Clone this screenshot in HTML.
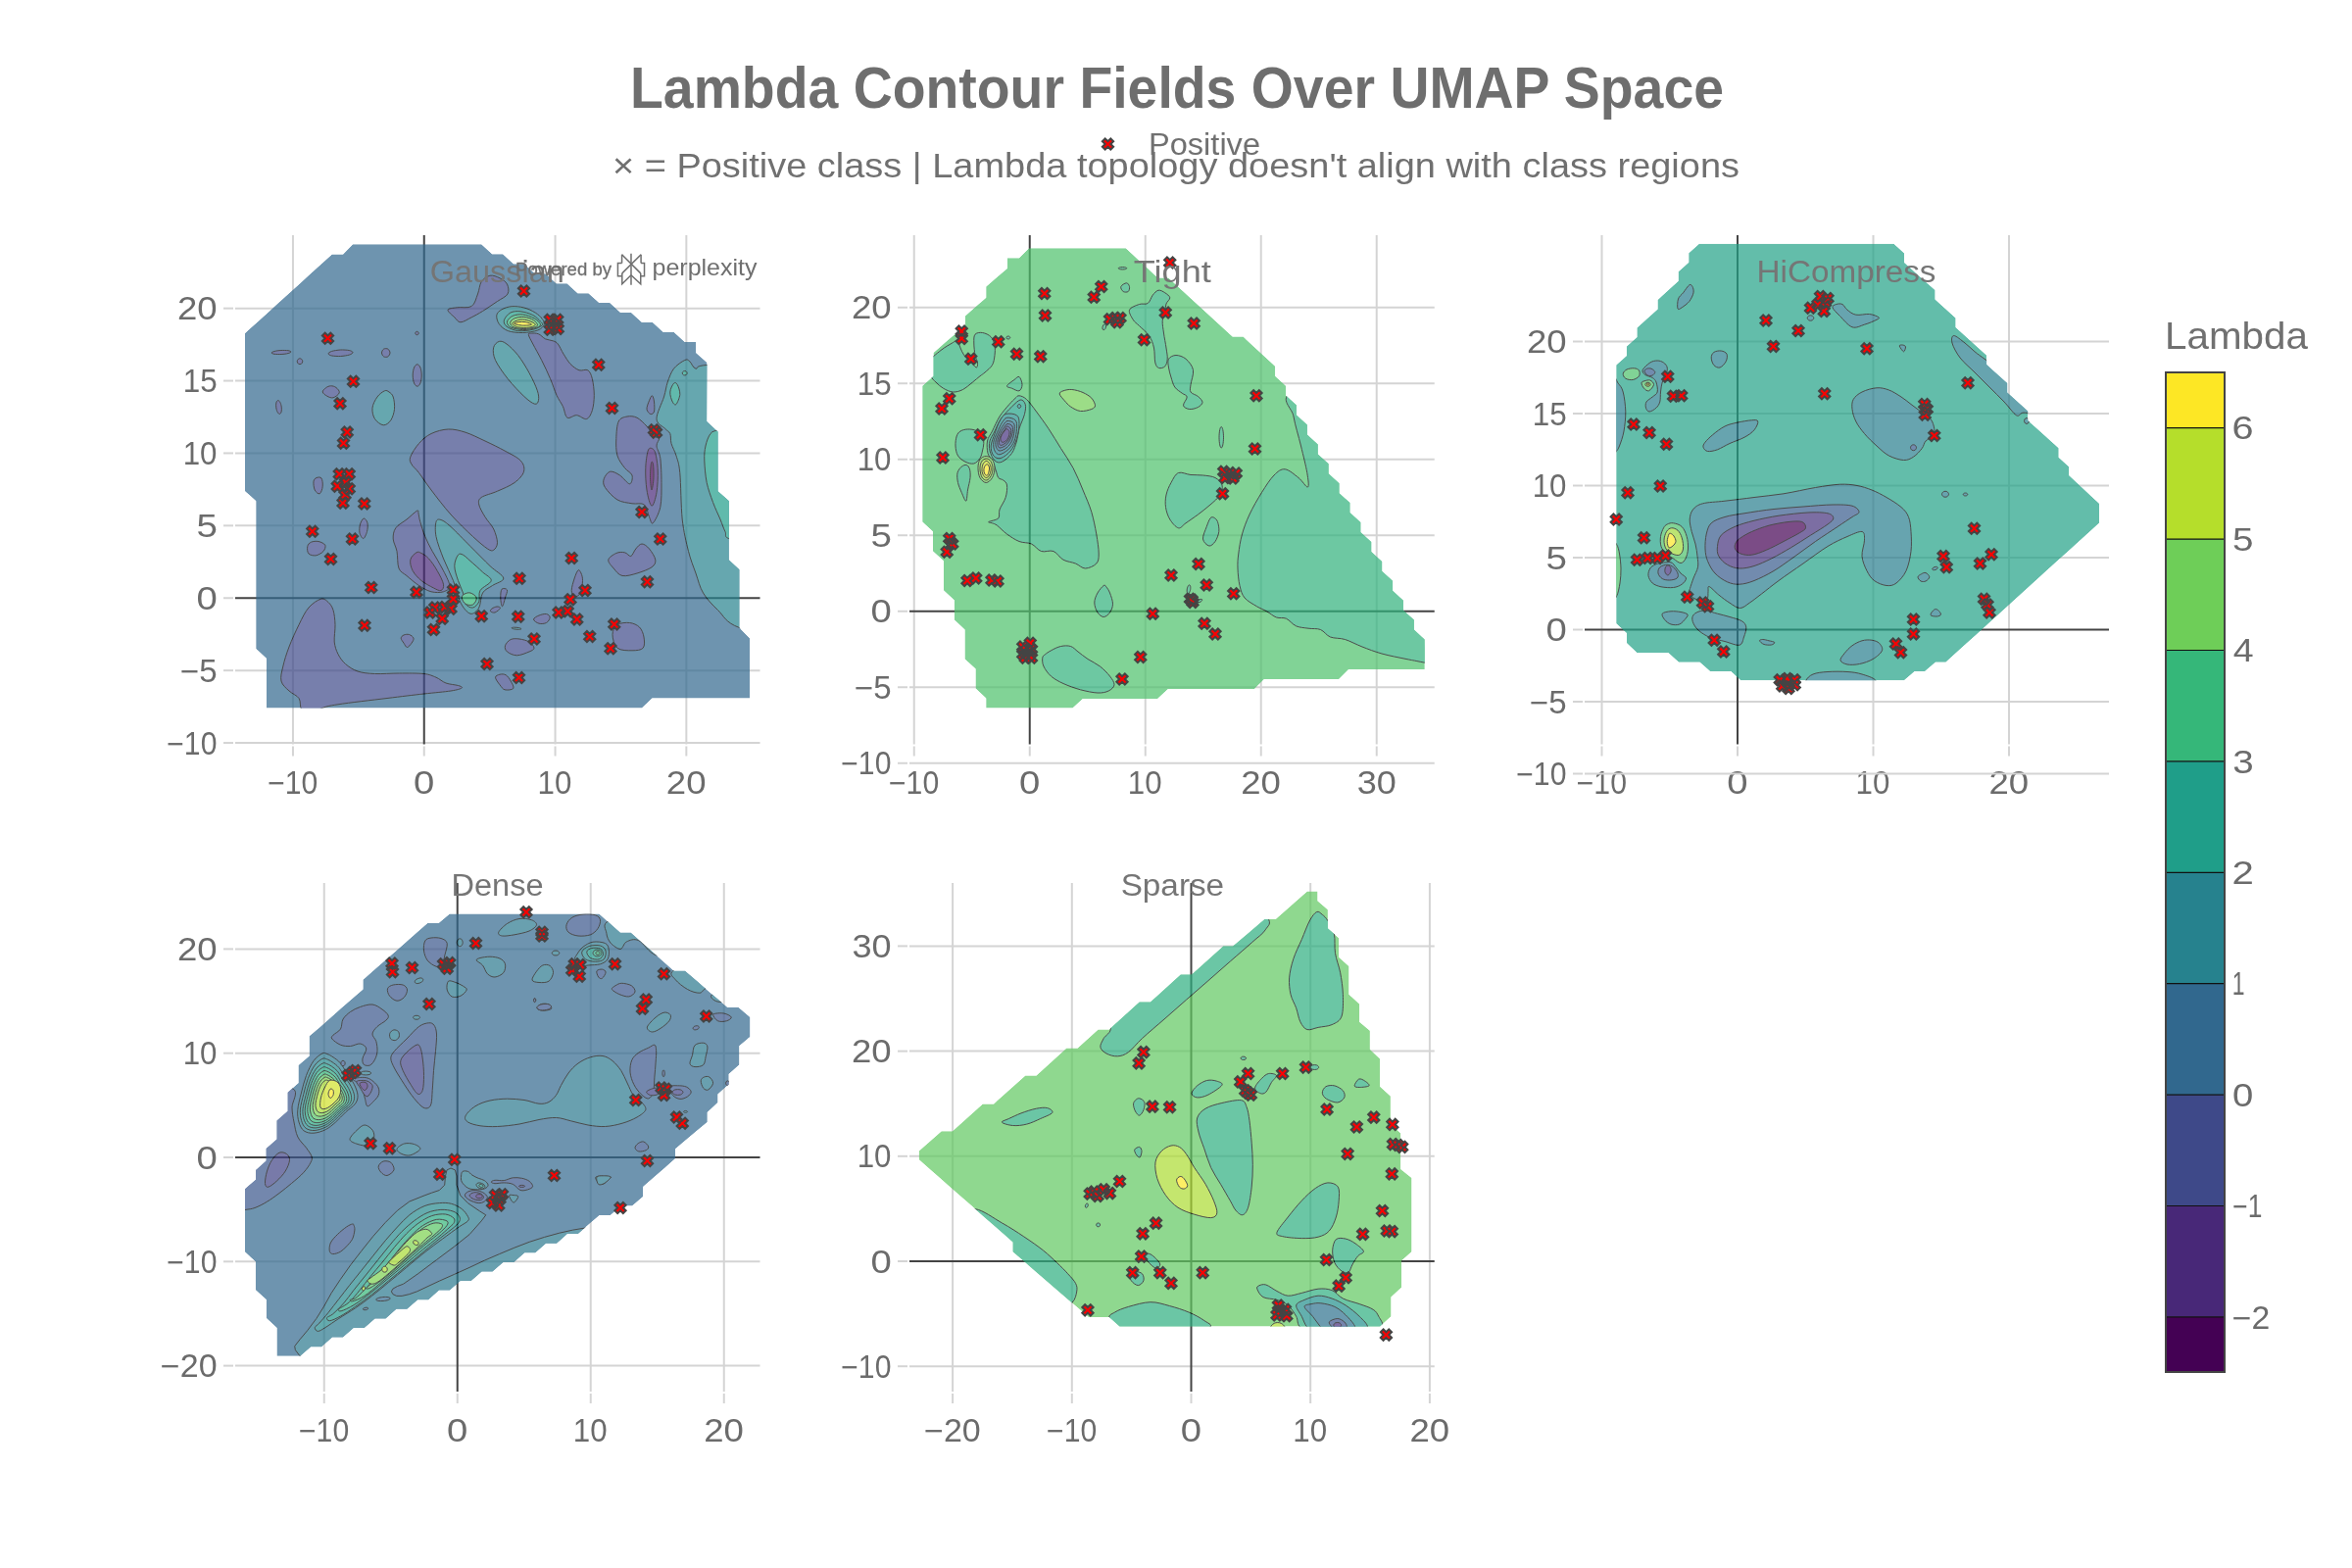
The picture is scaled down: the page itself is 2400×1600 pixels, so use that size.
<!DOCTYPE html>
<html><head><meta charset="utf-8"><title>Lambda Contour Fields Over UMAP Space</title>
<style>html,body{margin:0;padding:0;background:#fff;}svg{display:block;}text{font-family:"Liberation Sans", sans-serif;}</style></head><body>
<svg width="2400" height="1600" viewBox="0 0 2400 1600" style="will-change:transform">
<rect x="0" y="0" width="2400" height="1600" fill="#ffffff"/>
<g id="grid1">
<line x1="298.95" y1="240.00" x2="298.95" y2="759.50" stroke="#d4d4d4" stroke-width="2"/>
<line x1="298.95" y1="761.50" x2="298.95" y2="771.50" stroke="#d4d4d4" stroke-width="2"/>
<text transform="translate(273.19,810.00) scale(0.9739,1.045)" font-size="31" fill="#6b6b6b">−10</text>
<line x1="432.75" y1="761.50" x2="432.75" y2="771.50" stroke="#d4d4d4" stroke-width="2"/>
<text transform="translate(422.07,810.00) scale(1.2349,1.045)" font-size="31" fill="#6b6b6b">0</text>
<line x1="566.55" y1="240.00" x2="566.55" y2="759.50" stroke="#d4d4d4" stroke-width="2"/>
<line x1="566.55" y1="761.50" x2="566.55" y2="771.50" stroke="#d4d4d4" stroke-width="2"/>
<text transform="translate(548.58,810.00) scale(1.0097,1.045)" font-size="31" fill="#6b6b6b">10</text>
<line x1="700.35" y1="240.00" x2="700.35" y2="759.50" stroke="#d4d4d4" stroke-width="2"/>
<line x1="700.35" y1="761.50" x2="700.35" y2="771.50" stroke="#d4d4d4" stroke-width="2"/>
<text transform="translate(679.83,810.00) scale(1.1792,1.045)" font-size="31" fill="#6b6b6b">20</text>
<line x1="240.00" y1="314.65" x2="775.50" y2="314.65" stroke="#d4d4d4" stroke-width="2"/>
<line x1="228.00" y1="314.65" x2="238.00" y2="314.65" stroke="#d4d4d4" stroke-width="2"/>
<text transform="translate(181.03,326.25) scale(1.1792,1.045)" font-size="31" fill="#6b6b6b">20</text>
<line x1="240.00" y1="388.55" x2="775.50" y2="388.55" stroke="#d4d4d4" stroke-width="2"/>
<line x1="228.00" y1="388.55" x2="238.00" y2="388.55" stroke="#d4d4d4" stroke-width="2"/>
<text transform="translate(186.67,400.15) scale(1.0129,1.045)" font-size="31" fill="#6b6b6b">15</text>
<line x1="240.00" y1="462.45" x2="775.50" y2="462.45" stroke="#d4d4d4" stroke-width="2"/>
<line x1="228.00" y1="462.45" x2="238.00" y2="462.45" stroke="#d4d4d4" stroke-width="2"/>
<text transform="translate(186.68,474.05) scale(1.0097,1.045)" font-size="31" fill="#6b6b6b">10</text>
<line x1="240.00" y1="536.35" x2="775.50" y2="536.35" stroke="#d4d4d4" stroke-width="2"/>
<line x1="228.00" y1="536.35" x2="238.00" y2="536.35" stroke="#d4d4d4" stroke-width="2"/>
<text transform="translate(200.41,547.95) scale(1.2432,1.045)" font-size="31" fill="#6b6b6b">5</text>
<line x1="228.00" y1="610.25" x2="238.00" y2="610.25" stroke="#d4d4d4" stroke-width="2"/>
<text transform="translate(200.42,621.85) scale(1.2349,1.045)" font-size="31" fill="#6b6b6b">0</text>
<line x1="240.00" y1="684.15" x2="775.50" y2="684.15" stroke="#d4d4d4" stroke-width="2"/>
<line x1="228.00" y1="684.15" x2="238.00" y2="684.15" stroke="#d4d4d4" stroke-width="2"/>
<text transform="translate(183.90,695.75) scale(1.0675,1.045)" font-size="31" fill="#6b6b6b">−5</text>
<line x1="240.00" y1="758.05" x2="775.50" y2="758.05" stroke="#d4d4d4" stroke-width="2"/>
<line x1="228.00" y1="758.05" x2="238.00" y2="758.05" stroke="#d4d4d4" stroke-width="2"/>
<text transform="translate(170.24,769.65) scale(0.9739,1.045)" font-size="31" fill="#6b6b6b">−10</text>
<line x1="432.75" y1="240.00" x2="432.75" y2="759.50" stroke="#444444" stroke-width="2"/>
<line x1="240.00" y1="610.25" x2="775.50" y2="610.25" stroke="#444444" stroke-width="2"/>
</g>
<g id="grid2">
<line x1="932.75" y1="240.00" x2="932.75" y2="759.50" stroke="#d4d4d4" stroke-width="2"/>
<line x1="932.75" y1="761.50" x2="932.75" y2="771.50" stroke="#d4d4d4" stroke-width="2"/>
<text transform="translate(906.99,810.00) scale(0.9739,1.045)" font-size="31" fill="#6b6b6b">−10</text>
<line x1="1050.75" y1="761.50" x2="1050.75" y2="771.50" stroke="#d4d4d4" stroke-width="2"/>
<text transform="translate(1040.07,810.00) scale(1.2349,1.045)" font-size="31" fill="#6b6b6b">0</text>
<line x1="1168.75" y1="240.00" x2="1168.75" y2="759.50" stroke="#d4d4d4" stroke-width="2"/>
<line x1="1168.75" y1="761.50" x2="1168.75" y2="771.50" stroke="#d4d4d4" stroke-width="2"/>
<text transform="translate(1150.78,810.00) scale(1.0097,1.045)" font-size="31" fill="#6b6b6b">10</text>
<line x1="1286.75" y1="240.00" x2="1286.75" y2="759.50" stroke="#d4d4d4" stroke-width="2"/>
<line x1="1286.75" y1="761.50" x2="1286.75" y2="771.50" stroke="#d4d4d4" stroke-width="2"/>
<text transform="translate(1266.23,810.00) scale(1.1792,1.045)" font-size="31" fill="#6b6b6b">20</text>
<line x1="1404.75" y1="240.00" x2="1404.75" y2="759.50" stroke="#d4d4d4" stroke-width="2"/>
<line x1="1404.75" y1="761.50" x2="1404.75" y2="771.50" stroke="#d4d4d4" stroke-width="2"/>
<text transform="translate(1384.72,810.00) scale(1.1646,1.045)" font-size="31" fill="#6b6b6b">30</text>
<line x1="928.00" y1="313.75" x2="1463.75" y2="313.75" stroke="#d4d4d4" stroke-width="2"/>
<line x1="916.00" y1="313.75" x2="926.00" y2="313.75" stroke="#d4d4d4" stroke-width="2"/>
<text transform="translate(869.03,325.35) scale(1.1792,1.045)" font-size="31" fill="#6b6b6b">20</text>
<line x1="928.00" y1="391.25" x2="1463.75" y2="391.25" stroke="#d4d4d4" stroke-width="2"/>
<line x1="916.00" y1="391.25" x2="926.00" y2="391.25" stroke="#d4d4d4" stroke-width="2"/>
<text transform="translate(874.67,402.85) scale(1.0129,1.045)" font-size="31" fill="#6b6b6b">15</text>
<line x1="928.00" y1="468.75" x2="1463.75" y2="468.75" stroke="#d4d4d4" stroke-width="2"/>
<line x1="916.00" y1="468.75" x2="926.00" y2="468.75" stroke="#d4d4d4" stroke-width="2"/>
<text transform="translate(874.68,480.35) scale(1.0097,1.045)" font-size="31" fill="#6b6b6b">10</text>
<line x1="928.00" y1="546.25" x2="1463.75" y2="546.25" stroke="#d4d4d4" stroke-width="2"/>
<line x1="916.00" y1="546.25" x2="926.00" y2="546.25" stroke="#d4d4d4" stroke-width="2"/>
<text transform="translate(888.41,557.85) scale(1.2432,1.045)" font-size="31" fill="#6b6b6b">5</text>
<line x1="916.00" y1="623.75" x2="926.00" y2="623.75" stroke="#d4d4d4" stroke-width="2"/>
<text transform="translate(888.42,635.35) scale(1.2349,1.045)" font-size="31" fill="#6b6b6b">0</text>
<line x1="928.00" y1="701.25" x2="1463.75" y2="701.25" stroke="#d4d4d4" stroke-width="2"/>
<line x1="916.00" y1="701.25" x2="926.00" y2="701.25" stroke="#d4d4d4" stroke-width="2"/>
<text transform="translate(871.90,712.85) scale(1.0675,1.045)" font-size="31" fill="#6b6b6b">−5</text>
<line x1="928.00" y1="778.75" x2="1463.75" y2="778.75" stroke="#d4d4d4" stroke-width="2"/>
<line x1="916.00" y1="778.75" x2="926.00" y2="778.75" stroke="#d4d4d4" stroke-width="2"/>
<text transform="translate(858.24,790.35) scale(0.9739,1.045)" font-size="31" fill="#6b6b6b">−10</text>
<line x1="1050.75" y1="240.00" x2="1050.75" y2="759.50" stroke="#444444" stroke-width="2"/>
<line x1="928.00" y1="623.75" x2="1463.75" y2="623.75" stroke="#444444" stroke-width="2"/>
</g>
<g id="grid3">
<line x1="1634.50" y1="240.00" x2="1634.50" y2="759.50" stroke="#d4d4d4" stroke-width="2"/>
<line x1="1634.50" y1="761.50" x2="1634.50" y2="771.50" stroke="#d4d4d4" stroke-width="2"/>
<text transform="translate(1608.74,810.00) scale(0.9739,1.045)" font-size="31" fill="#6b6b6b">−10</text>
<line x1="1773.00" y1="761.50" x2="1773.00" y2="771.50" stroke="#d4d4d4" stroke-width="2"/>
<text transform="translate(1762.32,810.00) scale(1.2349,1.045)" font-size="31" fill="#6b6b6b">0</text>
<line x1="1911.50" y1="240.00" x2="1911.50" y2="759.50" stroke="#d4d4d4" stroke-width="2"/>
<line x1="1911.50" y1="761.50" x2="1911.50" y2="771.50" stroke="#d4d4d4" stroke-width="2"/>
<text transform="translate(1893.53,810.00) scale(1.0097,1.045)" font-size="31" fill="#6b6b6b">10</text>
<line x1="2050.00" y1="240.00" x2="2050.00" y2="759.50" stroke="#d4d4d4" stroke-width="2"/>
<line x1="2050.00" y1="761.50" x2="2050.00" y2="771.50" stroke="#d4d4d4" stroke-width="2"/>
<text transform="translate(2029.48,810.00) scale(1.1792,1.045)" font-size="31" fill="#6b6b6b">20</text>
<line x1="1617.00" y1="348.50" x2="2152.00" y2="348.50" stroke="#d4d4d4" stroke-width="2"/>
<line x1="1605.00" y1="348.50" x2="1615.00" y2="348.50" stroke="#d4d4d4" stroke-width="2"/>
<text transform="translate(1558.03,360.10) scale(1.1792,1.045)" font-size="31" fill="#6b6b6b">20</text>
<line x1="1617.00" y1="422.00" x2="2152.00" y2="422.00" stroke="#d4d4d4" stroke-width="2"/>
<line x1="1605.00" y1="422.00" x2="1615.00" y2="422.00" stroke="#d4d4d4" stroke-width="2"/>
<text transform="translate(1563.67,433.60) scale(1.0129,1.045)" font-size="31" fill="#6b6b6b">15</text>
<line x1="1617.00" y1="495.50" x2="2152.00" y2="495.50" stroke="#d4d4d4" stroke-width="2"/>
<line x1="1605.00" y1="495.50" x2="1615.00" y2="495.50" stroke="#d4d4d4" stroke-width="2"/>
<text transform="translate(1563.68,507.10) scale(1.0097,1.045)" font-size="31" fill="#6b6b6b">10</text>
<line x1="1617.00" y1="569.00" x2="2152.00" y2="569.00" stroke="#d4d4d4" stroke-width="2"/>
<line x1="1605.00" y1="569.00" x2="1615.00" y2="569.00" stroke="#d4d4d4" stroke-width="2"/>
<text transform="translate(1577.41,580.60) scale(1.2432,1.045)" font-size="31" fill="#6b6b6b">5</text>
<line x1="1605.00" y1="642.50" x2="1615.00" y2="642.50" stroke="#d4d4d4" stroke-width="2"/>
<text transform="translate(1577.42,654.10) scale(1.2349,1.045)" font-size="31" fill="#6b6b6b">0</text>
<line x1="1617.00" y1="716.00" x2="2152.00" y2="716.00" stroke="#d4d4d4" stroke-width="2"/>
<line x1="1605.00" y1="716.00" x2="1615.00" y2="716.00" stroke="#d4d4d4" stroke-width="2"/>
<text transform="translate(1560.90,727.60) scale(1.0675,1.045)" font-size="31" fill="#6b6b6b">−5</text>
<line x1="1617.00" y1="789.50" x2="2152.00" y2="789.50" stroke="#d4d4d4" stroke-width="2"/>
<line x1="1605.00" y1="789.50" x2="1615.00" y2="789.50" stroke="#d4d4d4" stroke-width="2"/>
<text transform="translate(1547.24,801.10) scale(0.9739,1.045)" font-size="31" fill="#6b6b6b">−10</text>
<line x1="1773.00" y1="240.00" x2="1773.00" y2="759.50" stroke="#444444" stroke-width="2"/>
<line x1="1617.00" y1="642.50" x2="2152.00" y2="642.50" stroke="#444444" stroke-width="2"/>
</g>
<g id="grid4">
<line x1="330.75" y1="901.00" x2="330.75" y2="1420.00" stroke="#d4d4d4" stroke-width="2"/>
<line x1="330.75" y1="1422.00" x2="330.75" y2="1432.00" stroke="#d4d4d4" stroke-width="2"/>
<text transform="translate(304.99,1470.50) scale(0.9739,1.045)" font-size="31" fill="#6b6b6b">−10</text>
<line x1="466.75" y1="1422.00" x2="466.75" y2="1432.00" stroke="#d4d4d4" stroke-width="2"/>
<text transform="translate(456.07,1470.50) scale(1.2349,1.045)" font-size="31" fill="#6b6b6b">0</text>
<line x1="602.75" y1="901.00" x2="602.75" y2="1420.00" stroke="#d4d4d4" stroke-width="2"/>
<line x1="602.75" y1="1422.00" x2="602.75" y2="1432.00" stroke="#d4d4d4" stroke-width="2"/>
<text transform="translate(584.78,1470.50) scale(1.0097,1.045)" font-size="31" fill="#6b6b6b">10</text>
<line x1="738.75" y1="901.00" x2="738.75" y2="1420.00" stroke="#d4d4d4" stroke-width="2"/>
<line x1="738.75" y1="1422.00" x2="738.75" y2="1432.00" stroke="#d4d4d4" stroke-width="2"/>
<text transform="translate(718.23,1470.50) scale(1.1792,1.045)" font-size="31" fill="#6b6b6b">20</text>
<line x1="240.00" y1="968.40" x2="775.50" y2="968.40" stroke="#d4d4d4" stroke-width="2"/>
<line x1="228.00" y1="968.40" x2="238.00" y2="968.40" stroke="#d4d4d4" stroke-width="2"/>
<text transform="translate(181.03,980.00) scale(1.1792,1.045)" font-size="31" fill="#6b6b6b">20</text>
<line x1="240.00" y1="1074.70" x2="775.50" y2="1074.70" stroke="#d4d4d4" stroke-width="2"/>
<line x1="228.00" y1="1074.70" x2="238.00" y2="1074.70" stroke="#d4d4d4" stroke-width="2"/>
<text transform="translate(186.68,1086.30) scale(1.0097,1.045)" font-size="31" fill="#6b6b6b">10</text>
<line x1="228.00" y1="1181.00" x2="238.00" y2="1181.00" stroke="#d4d4d4" stroke-width="2"/>
<text transform="translate(200.42,1192.60) scale(1.2349,1.045)" font-size="31" fill="#6b6b6b">0</text>
<line x1="240.00" y1="1287.30" x2="775.50" y2="1287.30" stroke="#d4d4d4" stroke-width="2"/>
<line x1="228.00" y1="1287.30" x2="238.00" y2="1287.30" stroke="#d4d4d4" stroke-width="2"/>
<text transform="translate(170.24,1298.90) scale(0.9739,1.045)" font-size="31" fill="#6b6b6b">−10</text>
<line x1="240.00" y1="1393.60" x2="775.50" y2="1393.60" stroke="#d4d4d4" stroke-width="2"/>
<line x1="228.00" y1="1393.60" x2="238.00" y2="1393.60" stroke="#d4d4d4" stroke-width="2"/>
<text transform="translate(163.85,1405.20) scale(1.0982,1.045)" font-size="31" fill="#6b6b6b">−20</text>
<line x1="466.75" y1="901.00" x2="466.75" y2="1420.00" stroke="#444444" stroke-width="2"/>
<line x1="240.00" y1="1181.00" x2="775.50" y2="1181.00" stroke="#444444" stroke-width="2"/>
</g>
<g id="grid5">
<line x1="972.10" y1="901.00" x2="972.10" y2="1420.00" stroke="#d4d4d4" stroke-width="2"/>
<line x1="972.10" y1="1422.00" x2="972.10" y2="1432.00" stroke="#d4d4d4" stroke-width="2"/>
<text transform="translate(943.05,1470.50) scale(1.0982,1.045)" font-size="31" fill="#6b6b6b">−20</text>
<line x1="1093.80" y1="901.00" x2="1093.80" y2="1420.00" stroke="#d4d4d4" stroke-width="2"/>
<line x1="1093.80" y1="1422.00" x2="1093.80" y2="1432.00" stroke="#d4d4d4" stroke-width="2"/>
<text transform="translate(1068.04,1470.50) scale(0.9739,1.045)" font-size="31" fill="#6b6b6b">−10</text>
<line x1="1215.50" y1="1422.00" x2="1215.50" y2="1432.00" stroke="#d4d4d4" stroke-width="2"/>
<text transform="translate(1204.82,1470.50) scale(1.2349,1.045)" font-size="31" fill="#6b6b6b">0</text>
<line x1="1337.20" y1="901.00" x2="1337.20" y2="1420.00" stroke="#d4d4d4" stroke-width="2"/>
<line x1="1337.20" y1="1422.00" x2="1337.20" y2="1432.00" stroke="#d4d4d4" stroke-width="2"/>
<text transform="translate(1319.23,1470.50) scale(1.0097,1.045)" font-size="31" fill="#6b6b6b">10</text>
<line x1="1458.90" y1="901.00" x2="1458.90" y2="1420.00" stroke="#d4d4d4" stroke-width="2"/>
<line x1="1458.90" y1="1422.00" x2="1458.90" y2="1432.00" stroke="#d4d4d4" stroke-width="2"/>
<text transform="translate(1438.38,1470.50) scale(1.1792,1.045)" font-size="31" fill="#6b6b6b">20</text>
<line x1="928.00" y1="965.40" x2="1463.75" y2="965.40" stroke="#d4d4d4" stroke-width="2"/>
<line x1="916.00" y1="965.40" x2="926.00" y2="965.40" stroke="#d4d4d4" stroke-width="2"/>
<text transform="translate(869.52,977.00) scale(1.1646,1.045)" font-size="31" fill="#6b6b6b">30</text>
<line x1="928.00" y1="1072.60" x2="1463.75" y2="1072.60" stroke="#d4d4d4" stroke-width="2"/>
<line x1="916.00" y1="1072.60" x2="926.00" y2="1072.60" stroke="#d4d4d4" stroke-width="2"/>
<text transform="translate(869.03,1084.20) scale(1.1792,1.045)" font-size="31" fill="#6b6b6b">20</text>
<line x1="928.00" y1="1179.80" x2="1463.75" y2="1179.80" stroke="#d4d4d4" stroke-width="2"/>
<line x1="916.00" y1="1179.80" x2="926.00" y2="1179.80" stroke="#d4d4d4" stroke-width="2"/>
<text transform="translate(874.68,1191.40) scale(1.0097,1.045)" font-size="31" fill="#6b6b6b">10</text>
<line x1="916.00" y1="1287.00" x2="926.00" y2="1287.00" stroke="#d4d4d4" stroke-width="2"/>
<text transform="translate(888.42,1298.60) scale(1.2349,1.045)" font-size="31" fill="#6b6b6b">0</text>
<line x1="928.00" y1="1394.20" x2="1463.75" y2="1394.20" stroke="#d4d4d4" stroke-width="2"/>
<line x1="916.00" y1="1394.20" x2="926.00" y2="1394.20" stroke="#d4d4d4" stroke-width="2"/>
<text transform="translate(858.24,1405.80) scale(0.9739,1.045)" font-size="31" fill="#6b6b6b">−10</text>
<line x1="1215.50" y1="901.00" x2="1215.50" y2="1420.00" stroke="#444444" stroke-width="2"/>
<line x1="928.00" y1="1287.00" x2="1463.75" y2="1287.00" stroke="#444444" stroke-width="2"/>
</g>
<g id="sub1">
<clipPath id="clip1"><path d="M250.0,340.0 L261.1,329.9 L272.2,319.9 L283.3,309.8 L294.4,299.8 L305.5,289.7 L316.6,279.6 L327.7,269.6 L338.8,259.5 L350.0,259.5 L360.0,249.2 L491.2,249.2 L502.2,259.2 L513.1,259.2 L524.0,269.2 L534.9,269.2 L545.9,279.2 L556.8,279.2 L567.7,289.2 L578.6,289.2 L589.5,299.2 L600.5,299.2 L611.4,309.1 L622.3,309.1 L633.2,319.1 L644.1,319.1 L655.1,329.1 L666.0,329.1 L676.9,339.1 L687.8,339.1 L698.8,349.1 L710.2,349.1 L710.2,359.9 L721.5,370.1 L721.2,430.0 L732.5,440.5 L732.5,501.2 L743.8,511.2 L743.8,571.2 L754.5,581.2 L754.5,640.5 L765.0,651.2 L765.0,712.5 L665.5,712.5 L655.0,722.5 L272.0,722.5 L272.0,672.0 L261.2,662.0 L261.2,511.2 L250.0,501.2 Z"/></clipPath>
<g opacity="0.7"><g clip-path="url(#clip1)">
<path d="M250.0,340.0 L261.1,329.9 L272.2,319.9 L283.3,309.8 L294.4,299.8 L305.5,289.7 L316.6,279.6 L327.7,269.6 L338.8,259.5 L350.0,259.5 L360.0,249.2 L491.2,249.2 L502.2,259.2 L513.1,259.2 L524.0,269.2 L534.9,269.2 L545.9,279.2 L556.8,279.2 L567.7,289.2 L578.6,289.2 L589.5,299.2 L600.5,299.2 L611.4,309.1 L622.3,309.1 L633.2,319.1 L644.1,319.1 L655.1,329.1 L666.0,329.1 L676.9,339.1 L687.8,339.1 L698.8,349.1 L710.2,349.1 L710.2,359.9 L721.5,370.1 L721.2,430.0 L732.5,440.5 L732.5,501.2 L743.8,511.2 L743.8,571.2 L754.5,581.2 L754.5,640.5 L765.0,651.2 L765.0,712.5 L665.5,712.5 L655.0,722.5 L272.0,722.5 L272.0,672.0 L261.2,662.0 L261.2,511.2 L250.0,501.2 Z" fill="#31688e"/>
<path d="M457.0,316.2 C456.6,317.9 461.6,321.7 463.8,323.8 C465.9,325.8 467.1,328.8 470.0,328.8 C472.9,328.8 477.5,325.6 481.2,323.8 C485.0,321.9 488.1,320.2 492.5,317.5 C496.9,314.8 503.2,310.4 507.5,307.5 C511.8,304.6 516.3,302.9 518.0,300.0 C519.7,297.1 518.8,292.7 517.5,290.0 C516.2,287.3 512.9,285.2 510.0,283.8 C507.1,282.3 503.1,280.6 500.0,281.2 C496.9,281.9 493.3,284.4 491.2,287.5 C489.2,290.6 489.2,295.8 487.5,300.0 C485.8,304.2 484.8,310.2 481.2,312.5 C477.7,314.8 470.3,313.1 466.2,313.8 C462.2,314.4 457.4,314.6 457.0,316.2 Z" fill="#3e4989" stroke="#000000" stroke-width="1.0" stroke-linejoin="round"/>
<path d="M506.8,321.6 C506.4,324.1 507.4,327.9 509.3,330.6 C511.2,333.2 514.2,336.1 518.3,337.6 C522.3,339.1 528.5,339.6 533.6,339.5 C538.7,339.4 545.3,338.3 548.9,336.9 C552.5,335.6 554.5,333.1 555.3,331.2 C556.0,329.3 554.8,327.5 553.3,325.5 C551.9,323.4 549.4,321.0 546.3,319.1 C543.2,317.2 538.9,315.0 534.8,314.0 C530.8,312.9 525.9,312.4 522.1,312.7 C518.3,313.0 514.4,314.4 511.9,315.9 C509.3,317.4 507.2,319.2 506.8,321.6 Z" fill="#26828e" stroke="#000000" stroke-width="1.0" stroke-linejoin="round"/>
<path d="M514.4,326.7 C513.8,329.1 514.7,331.3 517.0,333.1 C519.3,334.9 524.0,337.0 528.5,337.6 C532.9,338.1 539.6,337.3 543.8,336.3 C547.9,335.3 552.1,333.2 553.3,331.8 C554.6,330.5 553.0,329.7 551.4,328.0 C549.8,326.3 547.2,323.3 543.8,321.6 C540.4,319.9 534.8,318.2 531.0,317.8 C527.2,317.4 523.6,317.6 520.8,319.1 C518.1,320.6 515.1,324.4 514.4,326.7 Z" fill="#1f9e89" stroke="#000000" stroke-width="1.0" stroke-linejoin="round"/>
<path d="M517.6,328.0 C517.2,329.9 518.2,332.3 520.8,333.8 C523.5,335.2 529.1,336.4 533.6,336.6 C538.0,336.7 544.6,335.3 547.6,334.4 C550.6,333.4 551.9,332.4 551.4,330.8 C551.0,329.2 548.0,326.5 545.1,324.8 C542.1,323.2 537.2,321.4 533.6,321.0 C530.0,320.6 526.0,321.1 523.4,322.3 C520.7,323.4 518.1,326.1 517.6,328.0 Z" fill="#35b779" stroke="#000000" stroke-width="1.0" stroke-linejoin="round"/>
<path d="M520.6,329.3 C520.5,330.8 521.8,333.1 524.6,334.1 C527.4,335.2 533.5,335.7 537.4,335.4 C541.3,335.1 547.1,333.9 548.2,332.5 C549.4,331.0 546.6,328.2 544.4,326.7 C542.2,325.2 538.0,323.9 534.8,323.5 C531.7,323.2 527.7,323.9 525.3,324.8 C522.9,325.8 520.7,327.7 520.6,329.3 Z" fill="#6ece58" stroke="#000000" stroke-width="1.0" stroke-linejoin="round"/>
<path d="M522.7,329.9 C522.3,331.2 525.6,333.0 528.5,333.8 C531.3,334.5 537.0,334.6 539.9,334.1 C542.9,333.7 546.3,332.3 546.3,331.2 C546.3,330.1 542.5,328.2 539.9,327.4 C537.4,326.5 533.9,325.7 531.0,326.1 C528.2,326.5 523.2,328.6 522.7,329.9 Z" fill="#b5de2b" stroke="#000000" stroke-width="1.0" stroke-linejoin="round"/>
<path d="M524.6,330.3 C525.4,330.9 530.6,331.9 533.6,332.1 C536.5,332.2 542.1,331.8 542.5,331.2 C542.9,330.6 538.4,329.1 536.1,328.6 C533.9,328.2 531.0,328.4 529.1,328.6 C527.2,328.9 523.9,329.7 524.6,330.3 Z" fill="#fde725" stroke="#000000" stroke-width="1.0" stroke-linejoin="round"/>
<path d="M503.6,354.8 C503.0,358.0 503.1,362.2 505.5,367.6 C508.0,372.9 513.4,380.5 518.3,386.7 C523.2,392.8 530.3,400.3 534.8,404.5 C539.4,408.8 543.2,411.6 545.7,412.2 C548.1,412.8 549.1,410.7 549.5,408.4 C549.9,406.0 549.8,402.8 548.2,398.2 C546.6,393.5 543.2,386.3 539.9,380.3 C536.7,374.4 532.3,367.3 528.5,362.4 C524.6,357.6 520.2,353.3 517.0,351.0 C513.8,348.6 511.6,347.8 509.3,348.4 C507.1,349.1 504.2,351.6 503.6,354.8 Z" fill="#26828e" stroke="#000000" stroke-width="1.0" stroke-linejoin="round"/>
<path d="M539.3,341.4 C539.5,343.2 541.5,346.6 543.8,351.0 C546.0,355.3 549.7,361.6 552.7,367.6 C555.7,373.5 559.1,380.7 561.6,386.7 C564.2,392.6 565.9,398.6 568.0,403.3 C570.1,407.9 572.6,410.9 574.4,414.7 C576.2,418.6 576.5,424.7 578.9,426.2 C581.2,427.7 585.1,423.5 588.4,423.7 C591.7,423.9 596.0,428.4 598.6,427.5 C601.3,426.6 603.1,422.6 604.4,418.6 C605.6,414.5 606.3,408.6 606.3,403.3 C606.3,398.0 605.4,390.9 604.4,386.7 C603.3,382.4 602.1,379.2 599.9,377.8 C597.7,376.3 593.9,378.8 591.0,377.8 C588.0,376.7 584.7,374.1 582.0,371.4 C579.4,368.6 577.2,364.6 575.0,361.2 C572.9,357.8 571.1,353.2 569.3,351.0 C567.5,348.7 566.3,348.6 564.2,347.8 C562.1,346.9 559.0,347.0 556.5,345.9 C554.1,344.7 551.9,341.7 549.5,340.8 C547.2,339.8 544.2,340.0 542.5,340.1 C540.8,340.2 539.1,339.6 539.3,341.4 Z" fill="#3e4989" stroke="#000000" stroke-width="1.0" stroke-linejoin="round"/>
<path d="M795.0,370.0 C774.4,343.8 735.4,371.5 721.2,372.5 C707.1,373.5 712.9,376.9 710.0,376.2 C707.1,375.6 705.6,370.2 703.8,368.8 C701.9,367.3 701.5,366.2 698.8,367.5 C696.0,368.8 690.4,372.5 687.5,376.2 C684.6,380.0 682.9,385.2 681.2,390.0 C679.6,394.8 679.4,398.8 677.5,405.0 C675.6,411.2 669.8,422.1 670.0,427.5 C670.2,432.9 676.5,435.0 678.8,437.5 C681.0,440.0 682.7,440.0 683.8,442.5 C684.8,445.0 684.0,448.8 685.0,452.5 C686.0,456.2 688.5,460.0 690.0,465.0 C691.5,470.0 692.7,471.7 693.8,482.5 C694.8,493.3 694.8,516.7 696.2,530.0 C697.7,543.3 700.2,553.3 702.5,562.5 C704.8,571.7 707.5,577.9 710.0,585.0 C712.5,592.1 713.8,598.8 717.5,605.0 C721.2,611.2 726.3,616.6 732.5,622.5 C738.7,628.4 739.9,635.1 754.5,640.5 C769.1,645.9 804.9,673.4 820.0,655.0 C835.1,636.6 849.2,577.5 845.0,530.0 C840.8,482.5 815.6,396.2 795.0,370.0 Z" fill="#26828e" stroke="#000000" stroke-width="1.0" stroke-linejoin="round"/>
<path d="M745.0,435.0 C734.6,426.0 735.8,437.5 732.5,438.8 C729.2,440.0 727.1,439.8 725.0,442.5 C722.9,445.2 721.0,450.4 720.0,455.0 C719.0,459.6 718.5,463.8 718.8,470.0 C719.0,476.2 719.8,485.4 721.2,492.5 C722.7,499.6 725.2,506.2 727.5,512.5 C729.8,518.8 732.9,525.0 735.0,530.0 C737.1,535.0 738.3,539.2 740.0,542.5 C741.7,545.8 737.9,547.9 745.0,550.0 C752.1,552.1 774.2,564.6 782.5,555.0 C790.8,545.4 801.2,512.5 795.0,492.5 C788.8,472.5 755.4,444.0 745.0,435.0 Z" fill="#1f9e89" stroke="#000000" stroke-width="1.0" stroke-linejoin="round"/>
<path d="M683.8,400.0 C683.5,403.1 685.2,407.9 686.2,410.0 C687.3,412.1 688.8,413.8 690.0,412.5 C691.2,411.2 693.5,405.8 693.8,402.5 C694.0,399.2 692.3,394.4 691.2,392.5 C690.2,390.6 688.8,390.0 687.5,391.2 C686.2,392.5 684.0,396.9 683.8,400.0 Z" fill="#1f9e89" stroke="#000000" stroke-width="1.0" stroke-linejoin="round"/>
<path d="M701.2,380.8 C701.2,381.4 700.6,382.4 700.0,382.7 C699.4,383.0 698.1,383.0 697.5,382.7 C696.9,382.4 696.2,381.4 696.2,380.8 C696.2,380.1 696.9,379.1 697.5,378.8 C698.1,378.5 699.4,378.5 700.0,378.8 C700.6,379.1 701.2,380.1 701.2,380.8 Z" fill="#1f9e89" stroke="#000000" stroke-width="1.0" stroke-linejoin="round"/>
<path d="M660.0,417.5 C660.2,419.8 662.5,422.1 663.8,422.5 C665.0,422.9 666.9,422.1 667.5,420.0 C668.1,417.9 667.8,412.7 667.5,410.0 C667.2,407.3 666.3,404.0 665.5,403.8 C664.7,403.5 663.4,406.5 662.5,408.8 C661.6,411.0 659.8,415.2 660.0,417.5 Z" fill="#3e4989" stroke="#000000" stroke-width="1.0" stroke-linejoin="round"/>
<path d="M631.2,430.0 C629.4,433.8 629.0,441.7 628.8,447.5 C628.5,453.3 628.5,460.0 630.0,465.0 C631.5,470.0 635.0,474.2 637.5,477.5 C640.0,480.8 644.2,482.3 645.0,485.0 C645.8,487.7 644.6,493.8 642.5,493.8 C640.4,493.8 635.8,487.1 632.5,485.0 C629.2,482.9 625.2,480.6 622.5,481.2 C619.8,481.9 617.1,486.0 616.2,488.8 C615.4,491.5 615.2,494.0 617.5,497.5 C619.8,501.0 625.4,507.3 630.0,510.0 C634.6,512.7 640.4,512.9 645.0,513.8 C649.6,514.6 654.6,512.7 657.5,515.0 C660.4,517.3 661.0,524.4 662.5,527.5 C664.0,530.6 664.4,535.4 666.2,533.8 C668.1,532.1 672.3,524.4 673.8,517.5 C675.2,510.6 675.0,500.8 675.0,492.5 C675.0,484.2 674.6,473.8 673.8,467.5 C672.9,461.2 670.2,458.3 670.0,455.0 C669.8,451.7 672.9,449.2 672.5,447.5 C672.1,445.8 669.6,447.1 667.5,445.0 C665.4,442.9 662.9,438.1 660.0,435.0 C657.1,431.9 653.3,427.9 650.0,426.2 C646.7,424.6 643.1,424.4 640.0,425.0 C636.9,425.6 633.1,426.2 631.2,430.0 Z" fill="#3e4989" stroke="#000000" stroke-width="1.0" stroke-linejoin="round"/>
<path d="M661.2,460.0 C660.2,463.3 659.0,470.8 658.8,477.5 C658.5,484.2 659.0,493.5 660.0,500.0 C661.0,506.5 663.3,515.8 665.0,516.2 C666.7,516.7 669.0,508.5 670.0,502.5 C671.0,496.5 671.5,486.7 671.2,480.0 C671.0,473.3 669.8,466.2 668.8,462.5 C667.7,458.8 666.2,457.9 665.0,457.5 C663.8,457.1 662.3,456.7 661.2,460.0 Z" fill="#482878" stroke="#000000" stroke-width="1.0" stroke-linejoin="round"/>
<path d="M664.5,472.5 C664.0,474.8 663.4,482.9 663.5,487.5 C663.6,492.1 664.4,500.0 665.0,500.0 C665.6,500.0 666.8,491.9 667.0,487.5 C667.2,483.1 666.9,476.2 666.5,473.8 C666.1,471.2 665.0,470.2 664.5,472.5 Z" fill="#440154" stroke="#000000" stroke-width="1.0" stroke-linejoin="round"/>
<path d="M418.8,466.2 C417.5,469.8 418.5,471.0 420.0,473.8 C421.5,476.5 424.2,478.1 427.5,482.5 C430.8,486.9 434.6,492.9 440.0,500.0 C445.4,507.1 452.9,517.1 460.0,525.0 C467.1,532.9 476.2,541.7 482.5,547.5 C488.8,553.3 494.0,557.7 497.5,560.0 C501.0,562.3 502.1,562.3 503.8,561.2 C505.4,560.2 507.5,557.3 507.5,553.8 C507.5,550.2 505.8,544.4 503.8,540.0 C501.7,535.6 497.5,531.7 495.0,527.5 C492.5,523.3 489.4,518.3 488.8,515.0 C488.1,511.7 488.1,509.8 491.2,507.5 C494.4,505.2 501.9,503.8 507.5,501.2 C513.1,498.8 520.5,495.8 525.0,492.5 C529.5,489.2 533.5,485.0 534.5,481.2 C535.5,477.5 534.5,473.5 531.2,470.0 C528.0,466.5 521.0,463.3 515.0,460.0 C509.0,456.7 501.7,453.1 495.0,450.0 C488.3,446.9 481.2,443.2 475.0,441.2 C468.8,439.2 463.3,437.8 457.5,438.0 C451.7,438.2 445.0,440.1 440.0,442.5 C435.0,444.9 431.0,448.5 427.5,452.5 C424.0,456.5 420.0,462.7 418.8,466.2 Z" fill="#3e4989" stroke="#000000" stroke-width="1.0" stroke-linejoin="round"/>
<path d="M425.5,521.2 C423.5,522.3 418.6,527.1 415.0,530.0 C411.4,532.9 406.0,535.4 403.8,538.8 C401.5,542.1 401.0,546.0 401.2,550.0 C401.5,554.0 404.0,557.5 405.0,562.5 C406.0,567.5 405.3,575.8 407.0,580.0 C408.7,584.2 411.6,584.6 415.0,587.5 C418.4,590.4 423.3,594.8 427.5,597.5 C431.7,600.2 435.8,602.7 440.0,603.8 C444.2,604.8 449.4,604.8 452.5,603.8 C455.6,602.7 459.0,601.5 458.8,597.5 C458.5,593.5 454.2,585.8 451.2,580.0 C448.3,574.2 444.2,567.9 441.2,562.5 C438.3,557.1 435.8,552.5 433.8,547.5 C431.7,542.5 429.9,536.5 428.8,532.5 C427.6,528.5 427.5,525.6 427.0,523.8 C426.5,521.9 427.5,520.2 425.5,521.2 Z" fill="#3e4989" stroke="#000000" stroke-width="1.0" stroke-linejoin="round"/>
<path d="M425.0,563.8 C423.1,564.9 419.4,568.1 418.8,571.2 C418.1,574.4 419.4,579.0 421.2,582.5 C423.1,586.0 426.5,589.6 430.0,592.5 C433.5,595.4 439.2,598.3 442.5,600.0 C445.8,601.7 448.3,603.1 450.0,602.5 C451.7,601.9 453.1,599.6 452.5,596.2 C451.9,592.9 448.8,586.9 446.2,582.5 C443.8,578.1 440.2,573.0 437.5,570.0 C434.8,567.0 432.1,565.5 430.0,564.5 C427.9,563.5 426.9,562.6 425.0,563.8 Z" fill="#482878" stroke="#000000" stroke-width="1.0" stroke-linejoin="round"/>
<path d="M445.0,532.5 C444.2,535.3 443.8,541.2 445.0,547.5 C446.2,553.8 449.6,562.5 452.5,570.0 C455.4,577.5 459.6,585.0 462.5,592.5 C465.4,600.0 467.1,609.4 470.0,615.0 C472.9,620.6 476.9,625.4 480.0,626.2 C483.1,627.1 486.7,623.5 488.8,620.0 C490.8,616.5 490.2,608.8 492.5,605.0 C494.8,601.2 499.0,600.0 502.5,597.5 C506.0,595.0 514.2,593.3 513.8,590.0 C513.3,586.7 505.6,582.9 500.0,577.5 C494.4,572.1 486.7,564.2 480.0,557.5 C473.3,550.8 465.0,542.0 460.0,537.5 C455.0,533.0 452.5,531.3 450.0,530.5 C447.5,529.7 445.8,529.7 445.0,532.5 Z" fill="#26828e" stroke="#000000" stroke-width="1.0" stroke-linejoin="round"/>
<path d="M467.5,566.2 C466.0,568.1 463.8,573.1 463.8,577.5 C463.8,581.9 466.0,587.9 467.5,592.5 C469.0,597.1 471.2,601.0 472.5,605.0 C473.8,609.0 473.3,613.8 475.0,616.2 C476.7,618.8 480.2,620.4 482.5,620.0 C484.8,619.6 487.5,616.7 488.8,613.8 C490.0,610.8 487.9,606.0 490.0,602.5 C492.1,599.0 500.8,595.6 501.2,592.5 C501.7,589.4 496.0,587.1 492.5,583.8 C489.0,580.4 483.3,575.4 480.0,572.5 C476.7,569.6 474.6,567.3 472.5,566.2 C470.4,565.2 469.0,564.4 467.5,566.2 Z" fill="#1f9e89" stroke="#000000" stroke-width="1.0" stroke-linejoin="round"/>
<path d="M471.2,610.0 C471.5,611.7 473.1,615.1 475.0,616.2 C476.9,617.4 480.6,618.0 482.5,617.0 C484.4,616.0 486.7,612.0 486.2,610.0 C485.8,608.0 482.1,605.6 480.0,605.0 C477.9,604.4 475.2,605.4 473.8,606.2 C472.3,607.1 471.0,608.3 471.2,610.0 Z" fill="#35b779" stroke="#000000" stroke-width="1.0" stroke-linejoin="round"/>
<path d="M327.5,611.2 C324.2,612.2 318.8,615.6 315.0,620.0 C311.2,624.4 308.3,630.8 305.0,637.5 C301.7,644.2 297.7,652.9 295.0,660.0 C292.3,667.1 290.1,674.2 288.8,680.0 C287.4,685.8 286.0,690.8 287.0,695.0 C288.0,699.2 292.0,702.1 295.0,705.0 C298.0,707.9 302.9,709.4 305.0,712.5 C307.1,715.6 305.8,720.8 307.5,723.8 C309.2,726.7 311.7,730.1 315.0,730.0 C318.3,729.9 322.5,724.9 327.5,723.0 C332.5,721.1 333.8,720.5 345.0,718.8 C356.2,717.0 380.4,714.3 395.0,712.5 C409.6,710.7 421.7,709.2 432.5,708.0 C443.3,706.8 453.5,706.0 460.0,705.0 C466.5,704.0 470.0,702.9 471.2,702.0 C472.5,701.1 470.2,700.3 467.5,699.5 C464.8,698.7 458.8,698.4 455.0,697.0 C451.2,695.6 448.8,692.8 445.0,691.2 C441.2,689.7 438.8,688.2 432.5,687.5 C426.2,686.8 415.8,687.0 407.5,687.0 C399.2,687.0 389.6,687.8 382.5,687.5 C375.4,687.2 370.0,686.7 365.0,685.0 C360.0,683.3 355.8,680.4 352.5,677.5 C349.2,674.6 346.9,671.2 345.0,667.5 C343.1,663.8 341.8,660.0 341.2,655.0 C340.8,650.0 342.2,642.9 342.0,637.5 C341.8,632.1 341.2,626.3 340.0,622.5 C338.8,618.7 337.1,616.4 335.0,614.5 C332.9,612.6 330.8,610.3 327.5,611.2 Z" fill="#3e4989" stroke="#000000" stroke-width="1.0" stroke-linejoin="round"/>
<path d="M320.0,491.2 C319.7,493.3 320.2,497.9 321.2,500.0 C322.3,502.1 324.9,504.4 326.2,503.8 C327.6,503.1 329.0,498.9 329.2,496.2 C329.5,493.6 329.0,489.5 328.0,488.0 C327.0,486.5 324.3,487.0 323.0,487.5 C321.7,488.0 320.3,489.2 320.0,491.2 Z" fill="#3e4989" stroke="#000000" stroke-width="1.0" stroke-linejoin="round"/>
<path d="M313.8,557.5 C313.3,559.5 313.5,563.5 315.0,565.0 C316.5,566.5 320.0,567.2 322.5,566.8 C325.0,566.3 328.5,564.2 330.0,562.5 C331.5,560.8 332.6,557.9 331.8,556.2 C330.9,554.6 327.4,553.0 325.0,552.5 C322.6,552.0 319.4,552.4 317.5,553.2 C315.6,554.1 314.2,555.5 313.8,557.5 Z" fill="#3e4989" stroke="#000000" stroke-width="1.0" stroke-linejoin="round"/>
<path d="M367.5,535.0 C366.8,537.5 366.5,541.3 367.0,543.8 C367.5,546.2 369.5,549.7 370.8,549.5 C372.0,549.3 373.8,545.1 374.5,542.5 C375.2,539.9 375.5,536.0 375.0,533.8 C374.5,531.5 372.5,528.8 371.2,529.0 C370.0,529.2 368.2,532.5 367.5,535.0 Z" fill="#3e4989" stroke="#000000" stroke-width="1.0" stroke-linejoin="round"/>
<path d="M409.2,651.2 C409.2,652.6 411.0,654.7 412.0,656.2 C413.0,657.8 414.2,660.5 415.5,660.5 C416.8,660.5 418.9,657.8 420.0,656.2 C421.1,654.7 422.4,652.7 422.0,651.2 C421.6,649.8 419.2,648.0 417.5,647.5 C415.8,647.0 413.4,647.4 412.0,648.0 C410.6,648.6 409.2,649.9 409.2,651.2 Z" fill="#3e4989" stroke="#000000" stroke-width="1.0" stroke-linejoin="round"/>
<path d="M515.5,658.8 C514.9,660.8 515.5,663.3 517.5,665.0 C519.5,666.7 523.8,668.8 527.5,668.8 C531.2,668.8 537.1,666.2 540.0,665.0 C542.9,663.8 545.0,662.9 545.0,661.2 C545.0,659.6 542.5,656.5 540.0,655.0 C537.5,653.5 533.1,652.4 530.0,652.0 C526.9,651.6 523.7,651.4 521.2,652.5 C518.8,653.6 516.1,656.7 515.5,658.8 Z" fill="#3e4989" stroke="#000000" stroke-width="1.0" stroke-linejoin="round"/>
<path d="M544.5,632.0 C544.5,633.4 547.8,635.7 550.0,636.2 C552.2,636.8 555.6,636.5 557.5,635.5 C559.4,634.5 561.2,631.5 561.2,630.0 C561.2,628.5 559.4,626.8 557.5,626.5 C555.6,626.2 552.2,627.1 550.0,628.0 C547.8,628.9 544.5,630.6 544.5,632.0 Z" fill="#3e4989" stroke="#000000" stroke-width="1.0" stroke-linejoin="round"/>
<path d="M505.5,691.2 C505.5,693.0 508.4,696.7 510.0,698.8 C511.6,700.8 512.7,703.1 515.0,703.8 C517.3,704.4 522.7,704.0 523.8,702.5 C524.8,701.0 522.5,697.3 521.2,695.0 C520.0,692.7 518.1,689.9 516.2,688.8 C514.4,687.6 511.8,687.8 510.0,688.2 C508.2,688.7 505.5,689.5 505.5,691.2 Z" fill="#3e4989" stroke="#000000" stroke-width="1.0" stroke-linejoin="round"/>
<path d="M630.0,637.5 C627.1,639.5 625.0,643.5 625.0,647.5 C625.0,651.5 626.7,658.5 630.0,661.2 C633.3,664.0 640.6,663.8 645.0,663.8 C649.4,663.8 654.2,663.5 656.2,661.2 C658.2,659.0 657.6,653.5 657.0,650.0 C656.4,646.5 654.9,642.4 652.5,640.0 C650.1,637.6 646.2,635.9 642.5,635.5 C638.8,635.1 632.9,635.5 630.0,637.5 Z" fill="#3e4989" stroke="#000000" stroke-width="1.0" stroke-linejoin="round"/>
<path d="M620.8,571.2 C620.3,573.8 623.9,577.3 626.2,580.0 C628.6,582.7 631.0,586.7 635.0,587.5 C639.0,588.3 645.0,586.5 650.0,585.0 C655.0,583.5 661.9,581.0 665.0,578.8 C668.1,576.5 669.2,574.4 668.8,571.2 C668.3,568.1 664.8,562.7 662.5,560.0 C660.2,557.3 657.3,555.0 655.0,555.0 C652.7,555.0 650.6,557.9 648.8,560.0 C646.9,562.1 645.6,566.9 643.8,567.5 C641.9,568.1 640.0,564.2 637.5,563.8 C635.0,563.2 631.5,563.2 628.8,564.5 C626.0,565.8 621.2,568.7 620.8,571.2 Z" fill="#3e4989" stroke="#000000" stroke-width="1.0" stroke-linejoin="round"/>
<path d="M590.0,581.8 C588.9,582.6 587.4,586.5 586.2,590.0 C585.1,593.5 583.2,599.4 583.2,602.5 C583.2,605.6 584.7,608.3 586.2,608.8 C587.8,609.2 591.1,607.7 592.5,605.0 C593.9,602.3 594.4,595.8 594.5,592.5 C594.6,589.2 593.8,586.8 593.0,585.0 C592.2,583.2 591.1,580.9 590.0,581.8 Z" fill="#3e4989" stroke="#000000" stroke-width="1.0" stroke-linejoin="round"/>
<path d="M512.0,601.2 C510.9,602.6 510.7,607.1 510.8,610.0 C510.8,612.9 511.7,618.8 512.5,618.8 C513.3,618.8 514.7,612.8 515.5,610.0 C516.3,607.2 518.1,603.5 517.5,602.0 C516.9,600.5 513.1,599.9 512.0,601.2 Z" fill="#3e4989" stroke="#000000" stroke-width="1.0" stroke-linejoin="round"/>
<path d="M500.5,623.8 C501.0,624.4 503.3,625.5 505.0,625.0 C506.7,624.5 510.2,621.5 510.5,620.5 C510.8,619.5 508.4,618.9 507.0,619.0 C505.6,619.1 503.1,620.2 502.0,621.0 C500.9,621.8 500.0,623.1 500.5,623.8 Z" fill="#3e4989" stroke="#000000" stroke-width="1.0" stroke-linejoin="round"/>
<path d="M532.0,641.7 C532.0,642.0 530.7,642.3 529.4,642.3 C528.2,642.4 525.7,642.1 524.4,641.9 C523.2,641.6 522.0,641.1 522.0,640.8 C522.0,640.5 523.3,640.2 524.6,640.2 C525.8,640.1 528.3,640.4 529.6,640.6 C530.8,640.9 532.0,641.4 532.0,641.7 Z" fill="#26828e" stroke="#000000" stroke-width="1.0" stroke-linejoin="round"/>
<path d="M297.0,359.0 C297.0,359.4 295.8,360.1 294.1,360.5 C292.5,361.0 289.5,361.4 287.1,361.5 C284.8,361.6 281.7,361.5 280.0,361.3 C278.3,361.0 277.0,360.5 277.0,360.0 C277.0,359.6 278.2,358.9 279.9,358.5 C281.5,358.0 284.5,357.6 286.9,357.5 C289.2,357.4 292.3,357.5 294.0,357.7 C295.7,358.0 297.0,358.5 297.0,359.0 Z" fill="#3e4989" stroke="#000000" stroke-width="1.0" stroke-linejoin="round"/>
<path d="M308.8,368.8 C308.8,369.6 308.1,370.9 307.4,371.3 C306.7,371.8 305.3,371.8 304.6,371.3 C303.9,370.9 303.2,369.6 303.2,368.8 C303.2,367.9 303.9,366.6 304.6,366.2 C305.3,365.7 306.7,365.7 307.4,366.2 C308.1,366.6 308.8,367.9 308.8,368.8 Z" fill="#3e4989" stroke="#000000" stroke-width="1.0" stroke-linejoin="round"/>
<path d="M360.0,359.6 C360.0,360.4 358.5,361.4 356.4,362.1 C354.4,362.7 350.6,363.3 347.7,363.5 C344.7,363.6 340.9,363.4 338.8,363.0 C336.7,362.6 335.1,361.7 335.0,360.9 C335.0,360.1 336.5,359.1 338.6,358.4 C340.6,357.8 344.4,357.2 347.3,357.0 C350.3,356.9 354.1,357.1 356.2,357.5 C358.3,357.9 359.9,358.8 360.0,359.6 Z" fill="#3e4989" stroke="#000000" stroke-width="1.0" stroke-linejoin="round"/>
<path d="M398.0,360.0 C398.0,361.3 396.9,363.2 395.9,363.9 C394.8,364.5 392.7,364.5 391.6,363.9 C390.6,363.2 389.5,361.3 389.5,360.0 C389.5,358.7 390.6,356.8 391.6,356.1 C392.7,355.5 394.8,355.5 395.9,356.1 C396.9,356.8 398.0,358.7 398.0,360.0 Z" fill="#3e4989" stroke="#000000" stroke-width="1.0" stroke-linejoin="round"/>
<path d="M430.2,383.0 C430.2,385.7 429.7,389.1 428.9,391.0 C428.2,392.8 426.8,394.2 425.8,394.2 C424.7,394.2 423.3,392.8 422.6,391.0 C421.8,389.1 421.2,385.7 421.2,383.0 C421.2,380.3 421.8,376.9 422.6,375.0 C423.3,373.2 424.7,371.8 425.8,371.8 C426.8,371.8 428.2,373.2 428.9,375.0 C429.7,376.9 430.2,380.3 430.2,383.0 Z" fill="#3e4989" stroke="#000000" stroke-width="1.0" stroke-linejoin="round"/>
<path d="M329.2,400.0 C329.5,401.4 332.0,403.3 333.8,404.2 C335.5,405.2 337.9,406.3 340.0,405.8 C342.1,405.2 345.8,402.5 346.2,400.8 C346.8,399.0 344.5,396.7 343.0,395.5 C341.5,394.3 339.2,393.7 337.5,393.8 C335.8,393.8 333.9,394.7 332.5,395.8 C331.1,396.8 329.0,398.6 329.2,400.0 Z" fill="#3e4989" stroke="#000000" stroke-width="1.0" stroke-linejoin="round"/>
<path d="M287.2,415.1 C287.5,416.8 287.4,418.9 287.1,420.1 C286.8,421.4 286.1,422.3 285.5,422.4 C284.8,422.5 283.9,421.8 283.3,420.7 C282.6,419.6 282.0,417.5 281.8,415.9 C281.5,414.2 281.6,412.1 281.9,410.9 C282.2,409.6 282.9,408.7 283.5,408.6 C284.2,408.5 285.1,409.2 285.7,410.3 C286.4,411.4 287.0,413.5 287.2,415.1 Z" fill="#3e4989" stroke="#000000" stroke-width="1.0" stroke-linejoin="round"/>
<path d="M427.2,340.0 C427.2,340.5 426.8,341.3 426.4,341.5 C425.9,341.8 425.1,341.8 424.6,341.5 C424.2,341.3 423.8,340.5 423.8,340.0 C423.8,339.5 424.2,338.7 424.6,338.5 C425.1,338.2 425.9,338.2 426.4,338.5 C426.8,338.7 427.2,339.5 427.2,340.0 Z" fill="#3e4989" stroke="#000000" stroke-width="1.0" stroke-linejoin="round"/>
<path d="M392.5,398.8 C390.5,399.6 387.1,402.1 385.0,405.0 C382.9,407.9 380.4,412.5 380.0,416.2 C379.6,420.0 380.6,424.6 382.5,427.5 C384.4,430.4 388.5,433.5 391.2,433.8 C394.0,434.0 396.9,431.5 398.8,428.8 C400.6,426.0 402.1,421.5 402.5,417.5 C402.9,413.5 402.2,407.9 401.2,405.0 C400.3,402.1 398.5,401.0 397.0,400.0 C395.5,399.0 394.5,397.9 392.5,398.8 Z" fill="#26828e" stroke="#000000" stroke-width="1.0" stroke-linejoin="round"/>
</g></g>
<path d="M334.50,348.08 L337.33,350.91 L340.16,348.08 L337.33,345.25 L340.16,342.42 L337.33,339.59 L334.50,342.42 L331.67,339.59 L328.84,342.42 L331.67,345.25 L328.84,348.08 L331.67,350.91ZM360.50,392.08 L363.33,394.91 L366.16,392.08 L363.33,389.25 L366.16,386.42 L363.33,383.59 L360.50,386.42 L357.67,383.59 L354.84,386.42 L357.67,389.25 L354.84,392.08 L357.67,394.91ZM347.00,414.58 L349.83,417.41 L352.66,414.58 L349.83,411.75 L352.66,408.92 L349.83,406.09 L347.00,408.92 L344.17,406.09 L341.34,408.92 L344.17,411.75 L341.34,414.58 L344.17,417.41ZM354.25,443.83 L357.08,446.66 L359.91,443.83 L357.08,441.00 L359.91,438.17 L357.08,435.34 L354.25,438.17 L351.42,435.34 L348.59,438.17 L351.42,441.00 L348.59,443.83 L351.42,446.66ZM350.50,455.08 L353.33,457.91 L356.16,455.08 L353.33,452.25 L356.16,449.42 L353.33,446.59 L350.50,449.42 L347.67,446.59 L344.84,449.42 L347.67,452.25 L344.84,455.08 L347.67,457.91ZM346.25,486.58 L349.08,489.41 L351.91,486.58 L349.08,483.75 L351.91,480.92 L349.08,478.09 L346.25,480.92 L343.42,478.09 L340.59,480.92 L343.42,483.75 L340.59,486.58 L343.42,489.41ZM356.25,486.58 L359.08,489.41 L361.91,486.58 L359.08,483.75 L361.91,480.92 L359.08,478.09 L356.25,480.92 L353.42,478.09 L350.59,480.92 L353.42,483.75 L350.59,486.58 L353.42,489.41ZM352.50,494.83 L355.33,497.66 L358.16,494.83 L355.33,492.00 L358.16,489.17 L355.33,486.34 L352.50,489.17 L349.67,486.34 L346.84,489.17 L349.67,492.00 L346.84,494.83 L349.67,497.66ZM344.25,499.08 L347.08,501.91 L349.91,499.08 L347.08,496.25 L349.91,493.42 L347.08,490.59 L344.25,493.42 L341.42,490.59 L338.59,493.42 L341.42,496.25 L338.59,499.08 L341.42,501.91ZM356.25,501.58 L359.08,504.41 L361.91,501.58 L359.08,498.75 L361.91,495.92 L359.08,493.09 L356.25,495.92 L353.42,493.09 L350.59,495.92 L353.42,498.75 L350.59,501.58 L353.42,504.41ZM352.00,507.83 L354.83,510.66 L357.66,507.83 L354.83,505.00 L357.66,502.17 L354.83,499.34 L352.00,502.17 L349.17,499.34 L346.34,502.17 L349.17,505.00 L346.34,507.83 L349.17,510.66ZM350.00,516.08 L352.83,518.91 L355.66,516.08 L352.83,513.25 L355.66,510.42 L352.83,507.59 L350.00,510.42 L347.17,507.59 L344.34,510.42 L347.17,513.25 L344.34,516.08 L347.17,518.91ZM371.75,516.83 L374.58,519.66 L377.41,516.83 L374.58,514.00 L377.41,511.17 L374.58,508.34 L371.75,511.17 L368.92,508.34 L366.09,511.17 L368.92,514.00 L366.09,516.83 L368.92,519.66ZM318.75,545.08 L321.58,547.91 L324.41,545.08 L321.58,542.25 L324.41,539.42 L321.58,536.59 L318.75,539.42 L315.92,536.59 L313.09,539.42 L315.92,542.25 L313.09,545.08 L315.92,547.91ZM359.50,552.83 L362.33,555.66 L365.16,552.83 L362.33,550.00 L365.16,547.17 L362.33,544.34 L359.50,547.17 L356.67,544.34 L353.84,547.17 L356.67,550.00 L353.84,552.83 L356.67,555.66ZM337.50,573.33 L340.33,576.16 L343.16,573.33 L340.33,570.50 L343.16,567.67 L340.33,564.84 L337.50,567.67 L334.67,564.84 L331.84,567.67 L334.67,570.50 L331.84,573.33 L334.67,576.16ZM378.75,602.33 L381.58,605.16 L384.41,602.33 L381.58,599.50 L384.41,596.67 L381.58,593.84 L378.75,596.67 L375.92,593.84 L373.09,596.67 L375.92,599.50 L373.09,602.33 L375.92,605.16ZM425.00,607.08 L427.83,609.91 L430.66,607.08 L427.83,604.25 L430.66,601.42 L427.83,598.59 L425.00,601.42 L422.17,598.59 L419.34,601.42 L422.17,604.25 L419.34,607.08 L422.17,609.91ZM462.50,604.83 L465.33,607.66 L468.16,604.83 L465.33,602.00 L468.16,599.17 L465.33,596.34 L462.50,599.17 L459.67,596.34 L456.84,599.17 L459.67,602.00 L456.84,604.83 L459.67,607.66ZM462.50,614.08 L465.33,616.91 L468.16,614.08 L465.33,611.25 L468.16,608.42 L465.33,605.59 L462.50,608.42 L459.67,605.59 L456.84,608.42 L459.67,611.25 L456.84,614.08 L459.67,616.91ZM534.50,299.83 L537.33,302.66 L540.16,299.83 L537.33,297.00 L540.16,294.17 L537.33,291.34 L534.50,294.17 L531.67,291.34 L528.84,294.17 L531.67,297.00 L528.84,299.83 L531.67,302.66ZM561.25,329.08 L564.08,331.91 L566.91,329.08 L564.08,326.25 L566.91,323.42 L564.08,320.59 L561.25,323.42 L558.42,320.59 L555.59,323.42 L558.42,326.25 L555.59,329.08 L558.42,331.91ZM568.75,329.08 L571.58,331.91 L574.41,329.08 L571.58,326.25 L574.41,323.42 L571.58,320.59 L568.75,323.42 L565.92,320.59 L563.09,323.42 L565.92,326.25 L563.09,329.08 L565.92,331.91ZM565.00,334.08 L567.83,336.91 L570.66,334.08 L567.83,331.25 L570.66,328.42 L567.83,325.59 L565.00,328.42 L562.17,325.59 L559.34,328.42 L562.17,331.25 L559.34,334.08 L562.17,336.91ZM561.25,339.08 L564.08,341.91 L566.91,339.08 L564.08,336.25 L566.91,333.42 L564.08,330.59 L561.25,333.42 L558.42,330.59 L555.59,333.42 L558.42,336.25 L555.59,339.08 L558.42,341.91ZM569.25,338.33 L572.08,341.16 L574.91,338.33 L572.08,335.50 L574.91,332.67 L572.08,329.84 L569.25,332.67 L566.42,329.84 L563.59,332.67 L566.42,335.50 L563.59,338.33 L566.42,341.16ZM610.75,375.08 L613.58,377.91 L616.41,375.08 L613.58,372.25 L616.41,369.42 L613.58,366.59 L610.75,369.42 L607.92,366.59 L605.09,369.42 L607.92,372.25 L605.09,375.08 L607.92,377.91ZM624.50,419.33 L627.33,422.16 L630.16,419.33 L627.33,416.50 L630.16,413.67 L627.33,410.84 L624.50,413.67 L621.67,410.84 L618.84,413.67 L621.67,416.50 L618.84,419.33 L621.67,422.16ZM667.50,441.58 L670.33,444.41 L673.16,441.58 L670.33,438.75 L673.16,435.92 L670.33,433.09 L667.50,435.92 L664.67,433.09 L661.84,435.92 L664.67,438.75 L661.84,441.58 L664.67,444.41ZM669.50,444.08 L672.33,446.91 L675.16,444.08 L672.33,441.25 L675.16,438.42 L672.33,435.59 L669.50,438.42 L666.67,435.59 L663.84,438.42 L666.67,441.25 L663.84,444.08 L666.67,446.91ZM655.00,525.33 L657.83,528.16 L660.66,525.33 L657.83,522.50 L660.66,519.67 L657.83,516.84 L655.00,519.67 L652.17,516.84 L649.34,519.67 L652.17,522.50 L649.34,525.33 L652.17,528.16ZM673.75,552.83 L676.58,555.66 L679.41,552.83 L676.58,550.00 L679.41,547.17 L676.58,544.34 L673.75,547.17 L670.92,544.34 L668.09,547.17 L670.92,550.00 L668.09,552.83 L670.92,555.66ZM583.25,572.33 L586.08,575.16 L588.91,572.33 L586.08,569.50 L588.91,566.67 L586.08,563.84 L583.25,566.67 L580.42,563.84 L577.59,566.67 L580.42,569.50 L577.59,572.33 L580.42,575.16ZM530.00,593.08 L532.83,595.91 L535.66,593.08 L532.83,590.25 L535.66,587.42 L532.83,584.59 L530.00,587.42 L527.17,584.59 L524.34,587.42 L527.17,590.25 L524.34,593.08 L527.17,595.91ZM660.50,596.58 L663.33,599.41 L666.16,596.58 L663.33,593.75 L666.16,590.92 L663.33,588.09 L660.50,590.92 L657.67,588.09 L654.84,590.92 L657.67,593.75 L654.84,596.58 L657.67,599.41ZM597.00,605.33 L599.83,608.16 L602.66,605.33 L599.83,602.50 L602.66,599.67 L599.83,596.84 L597.00,599.67 L594.17,596.84 L591.34,599.67 L594.17,602.50 L591.34,605.33 L594.17,608.16ZM582.00,614.58 L584.83,617.41 L587.66,614.58 L584.83,611.75 L587.66,608.92 L584.83,606.09 L582.00,608.92 L579.17,606.09 L576.34,608.92 L579.17,611.75 L576.34,614.58 L579.17,617.41ZM443.75,622.83 L446.58,625.66 L449.41,622.83 L446.58,620.00 L449.41,617.17 L446.58,614.34 L443.75,617.17 L440.92,614.34 L438.09,617.17 L440.92,620.00 L438.09,622.83 L440.92,625.66ZM453.75,622.33 L456.58,625.16 L459.41,622.33 L456.58,619.50 L459.41,616.67 L456.58,613.84 L453.75,616.67 L450.92,613.84 L448.09,616.67 L450.92,619.50 L448.09,622.33 L450.92,625.16ZM460.00,624.08 L462.83,626.91 L465.66,624.08 L462.83,621.25 L465.66,618.42 L462.83,615.59 L460.00,618.42 L457.17,615.59 L454.34,618.42 L457.17,621.25 L454.34,624.08 L457.17,626.91ZM438.75,627.83 L441.58,630.66 L444.41,627.83 L441.58,625.00 L444.41,622.17 L441.58,619.34 L438.75,622.17 L435.92,619.34 L433.09,622.17 L435.92,625.00 L433.09,627.83 L435.92,630.66ZM451.25,634.08 L454.08,636.91 L456.91,634.08 L454.08,631.25 L456.91,628.42 L454.08,625.59 L451.25,628.42 L448.42,625.59 L445.59,628.42 L448.42,631.25 L445.59,634.08 L448.42,636.91ZM442.50,645.33 L445.33,648.16 L448.16,645.33 L445.33,642.50 L448.16,639.67 L445.33,636.84 L442.50,639.67 L439.67,636.84 L436.84,639.67 L439.67,642.50 L436.84,645.33 L439.67,648.16ZM372.00,641.08 L374.83,643.91 L377.66,641.08 L374.83,638.25 L377.66,635.42 L374.83,632.59 L372.00,635.42 L369.17,632.59 L366.34,635.42 L369.17,638.25 L366.34,641.08 L369.17,643.91ZM491.25,631.58 L494.08,634.41 L496.91,631.58 L494.08,628.75 L496.91,625.92 L494.08,623.09 L491.25,625.92 L488.42,623.09 L485.59,625.92 L488.42,628.75 L485.59,631.58 L488.42,634.41ZM528.75,632.08 L531.58,634.91 L534.41,632.08 L531.58,629.25 L534.41,626.42 L531.58,623.59 L528.75,626.42 L525.92,623.59 L523.09,626.42 L525.92,629.25 L523.09,632.08 L525.92,634.91ZM570.00,627.83 L572.83,630.66 L575.66,627.83 L572.83,625.00 L575.66,622.17 L572.83,619.34 L570.00,622.17 L567.17,619.34 L564.34,622.17 L567.17,625.00 L564.34,627.83 L567.17,630.66ZM579.25,626.58 L582.08,629.41 L584.91,626.58 L582.08,623.75 L584.91,620.92 L582.08,618.09 L579.25,620.92 L576.42,618.09 L573.59,620.92 L576.42,623.75 L573.59,626.58 L576.42,629.41ZM588.75,634.83 L591.58,637.66 L594.41,634.83 L591.58,632.00 L594.41,629.17 L591.58,626.34 L588.75,629.17 L585.92,626.34 L583.09,629.17 L585.92,632.00 L583.09,634.83 L585.92,637.66ZM626.75,639.83 L629.58,642.66 L632.41,639.83 L629.58,637.00 L632.41,634.17 L629.58,631.34 L626.75,634.17 L623.92,631.34 L621.09,634.17 L623.92,637.00 L621.09,639.83 L623.92,642.66ZM601.75,652.33 L604.58,655.16 L607.41,652.33 L604.58,649.50 L607.41,646.67 L604.58,643.84 L601.75,646.67 L598.92,643.84 L596.09,646.67 L598.92,649.50 L596.09,652.33 L598.92,655.16ZM545.00,654.83 L547.83,657.66 L550.66,654.83 L547.83,652.00 L550.66,649.17 L547.83,646.34 L545.00,649.17 L542.17,646.34 L539.34,649.17 L542.17,652.00 L539.34,654.83 L542.17,657.66ZM623.00,664.58 L625.83,667.41 L628.66,664.58 L625.83,661.75 L628.66,658.92 L625.83,656.09 L623.00,658.92 L620.17,656.09 L617.34,658.92 L620.17,661.75 L617.34,664.58 L620.17,667.41ZM497.00,680.33 L499.83,683.16 L502.66,680.33 L499.83,677.50 L502.66,674.67 L499.83,671.84 L497.00,674.67 L494.17,671.84 L491.34,674.67 L494.17,677.50 L491.34,680.33 L494.17,683.16ZM529.50,694.33 L532.33,697.16 L535.16,694.33 L532.33,691.50 L535.16,688.67 L532.33,685.84 L529.50,688.67 L526.67,685.84 L523.84,688.67 L526.67,691.50 L523.84,694.33 L526.67,697.16Z" fill="#ff0000" stroke="#444444" stroke-width="2" stroke-linejoin="miter"/>
</g>
<g id="sub2">
<clipPath id="clip2"><path d="M1050.0,253.2 L1148.8,253.2 L1159.6,263.3 L1170.5,273.3 L1181.4,283.4 L1192.3,283.4 L1203.2,293.4 L1214.1,303.5 L1225.0,313.5 L1235.9,323.5 L1246.8,333.6 L1257.7,343.6 L1268.6,343.6 L1279.5,353.7 L1290.4,363.7 L1301.2,373.8 L1301.2,383.7 L1312.1,393.7 L1312.1,403.6 L1323.0,413.6 L1323.0,423.5 L1333.9,433.5 L1333.9,443.4 L1344.8,453.4 L1344.8,463.4 L1355.7,473.3 L1355.7,483.3 L1366.6,493.2 L1366.6,503.2 L1377.5,513.1 L1377.5,523.1 L1388.4,533.1 L1388.4,543.0 L1399.3,553.0 L1399.3,562.9 L1410.2,572.9 L1410.2,582.8 L1421.1,592.8 L1421.1,602.8 L1432.0,612.7 L1432.0,622.7 L1442.9,632.6 L1442.9,642.6 L1453.7,652.5 L1453.8,662.5 L1453.8,683.0 L1376.2,683.0 L1366.2,693.0 L1290.0,693.0 L1280.0,703.0 L1192.0,703.0 L1181.2,713.0 L1105.0,713.0 L1094.5,722.5 L1006.2,722.5 L1006.2,712.5 L995.5,702.5 L995.5,682.5 L984.5,672.5 L984.5,642.5 L973.8,632.5 L973.8,612.5 L963.0,602.5 L963.0,572.5 L952.0,562.5 L952.0,542.5 L941.2,532.5 L941.2,393.8 L952.5,383.8 L952.5,360.0 L963.2,350.6 L974.0,341.2 L984.8,331.9 L984.8,322.5 L995.5,313.1 L1006.2,303.8 L1006.2,292.5 L1017.1,283.1 L1028.0,273.8 L1028.0,263.2 L1040.0,263.2 Z"/></clipPath>
<g opacity="0.7"><g clip-path="url(#clip2)">
<path d="M1050.0,253.2 L1148.8,253.2 L1159.6,263.3 L1170.5,273.3 L1181.4,283.4 L1192.3,283.4 L1203.2,293.4 L1214.1,303.5 L1225.0,313.5 L1235.9,323.5 L1246.8,333.6 L1257.7,343.6 L1268.6,343.6 L1279.5,353.7 L1290.4,363.7 L1301.2,373.8 L1301.2,383.7 L1312.1,393.7 L1312.1,403.6 L1323.0,413.6 L1323.0,423.5 L1333.9,433.5 L1333.9,443.4 L1344.8,453.4 L1344.8,463.4 L1355.7,473.3 L1355.7,483.3 L1366.6,493.2 L1366.6,503.2 L1377.5,513.1 L1377.5,523.1 L1388.4,533.1 L1388.4,543.0 L1399.3,553.0 L1399.3,562.9 L1410.2,572.9 L1410.2,582.8 L1421.1,592.8 L1421.1,602.8 L1432.0,612.7 L1432.0,622.7 L1442.9,632.6 L1442.9,642.6 L1453.7,652.5 L1453.8,662.5 L1453.8,683.0 L1376.2,683.0 L1366.2,693.0 L1290.0,693.0 L1280.0,703.0 L1192.0,703.0 L1181.2,713.0 L1105.0,713.0 L1094.5,722.5 L1006.2,722.5 L1006.2,712.5 L995.5,702.5 L995.5,682.5 L984.5,672.5 L984.5,642.5 L973.8,632.5 L973.8,612.5 L963.0,602.5 L963.0,572.5 L952.0,562.5 L952.0,542.5 L941.2,532.5 L941.2,393.8 L952.5,383.8 L952.5,360.0 L963.2,350.6 L974.0,341.2 L984.8,331.9 L984.8,322.5 L995.5,313.1 L1006.2,303.8 L1006.2,292.5 L1017.1,283.1 L1028.0,273.8 L1028.0,263.2 L1040.0,263.2 Z" fill="#4dc16b"/>
<path d="M947.5,370.0 C949.2,365.6 955.8,360.9 960.0,357.5 C964.2,354.1 969.7,351.2 972.5,349.5 C975.3,347.8 975.8,346.6 977.0,347.5 C978.2,348.4 978.9,352.5 980.0,355.0 C981.1,357.5 982.1,360.2 983.8,362.5 C985.4,364.8 987.9,366.7 990.0,368.8 C992.1,370.8 995.0,374.8 996.2,375.0 C997.5,375.2 997.7,372.1 997.5,370.0 C997.3,367.9 995.6,365.8 995.0,362.5 C994.4,359.2 993.8,353.5 993.8,350.0 C993.8,346.5 993.5,343.0 995.0,341.2 C996.5,339.5 999.8,339.1 1002.5,339.5 C1005.2,339.9 1009.2,341.6 1011.2,343.8 C1013.3,345.9 1014.4,349.4 1015.0,352.5 C1015.6,355.6 1015.4,359.2 1015.0,362.5 C1014.6,365.8 1014.2,369.6 1012.5,372.5 C1010.8,375.4 1007.1,378.1 1005.0,380.0 C1002.9,381.9 1002.1,382.1 1000.0,383.8 C997.9,385.4 995.4,387.7 992.5,390.0 C989.6,392.3 985.8,395.8 982.5,397.5 C979.2,399.2 975.8,400.2 972.5,400.0 C969.2,399.8 965.4,397.9 962.5,396.2 C959.6,394.6 957.1,392.1 955.0,390.0 C952.9,387.9 951.2,387.1 950.0,383.8 C948.8,380.4 945.8,374.4 947.5,370.0 Z" fill="#30b27c" stroke="#000000" stroke-width="1.0" stroke-linejoin="round"/>
<path d="M1027.5,393.8 C1027.1,395.2 1030.4,395.4 1032.5,396.2 C1034.6,397.1 1038.2,399.4 1040.0,398.8 C1041.8,398.1 1043.0,394.9 1043.0,392.5 C1043.0,390.1 1041.3,385.3 1040.0,384.5 C1038.7,383.7 1037.1,386.0 1035.0,387.5 C1032.9,389.0 1027.9,392.3 1027.5,393.8 Z" fill="#30b27c" stroke="#000000" stroke-width="1.0" stroke-linejoin="round"/>
<path d="M1081.2,402.0 C1081.5,403.7 1084.4,406.6 1086.2,408.8 C1088.1,410.9 1089.8,413.2 1092.5,415.0 C1095.2,416.8 1099.0,419.1 1102.5,419.5 C1106.0,419.9 1111.2,418.5 1113.8,417.5 C1116.2,416.5 1117.5,415.6 1117.5,413.8 C1117.5,411.9 1115.8,408.5 1113.8,406.2 C1111.7,404.0 1108.3,402.0 1105.0,400.5 C1101.7,399.0 1097.1,397.8 1093.8,397.5 C1090.4,397.2 1087.1,398.0 1085.0,398.8 C1082.9,399.5 1081.0,400.3 1081.2,402.0 Z" fill="#73cf55" stroke="#000000" stroke-width="1.0" stroke-linejoin="round"/>
<path d="M1040.0,403.8 C1041.9,404.0 1044.6,404.8 1047.5,407.5 C1050.4,410.2 1053.8,415.0 1057.5,420.0 C1061.2,425.0 1065.8,431.2 1070.0,437.5 C1074.2,443.8 1078.3,450.8 1082.5,457.5 C1086.7,464.2 1091.2,470.4 1095.0,477.5 C1098.8,484.6 1101.9,492.5 1105.0,500.0 C1108.1,507.5 1111.5,515.0 1113.8,522.5 C1116.0,530.0 1117.5,537.9 1118.8,545.0 C1120.0,552.1 1121.2,560.0 1121.2,565.0 C1121.2,570.0 1121.0,572.5 1118.8,575.0 C1116.5,577.5 1111.0,580.0 1107.5,580.0 C1104.0,580.0 1101.2,576.5 1097.5,575.0 C1093.8,573.5 1088.8,573.3 1085.0,571.2 C1081.2,569.2 1078.8,564.0 1075.0,562.5 C1071.2,561.0 1066.2,563.8 1062.5,562.5 C1058.8,561.2 1056.2,556.7 1052.5,555.0 C1048.8,553.3 1044.2,554.2 1040.0,552.5 C1035.8,550.8 1031.2,547.7 1027.5,545.0 C1023.8,542.3 1020.0,538.1 1017.5,536.2 C1015.0,534.4 1014.0,534.4 1012.5,533.8 C1011.0,533.1 1007.7,533.3 1008.8,532.5 C1009.8,531.7 1016.9,530.8 1018.8,528.8 C1020.6,526.7 1018.8,523.5 1020.0,520.0 C1021.2,516.5 1025.0,511.7 1026.2,507.5 C1027.5,503.3 1027.9,497.9 1027.5,495.0 C1027.1,492.1 1025.2,491.2 1023.8,490.0 C1022.3,488.8 1020.0,489.2 1018.8,487.5 C1017.5,485.8 1017.3,482.9 1016.2,480.0 C1015.2,477.1 1013.9,472.9 1012.5,470.0 C1011.1,467.1 1008.8,465.8 1008.0,462.5 C1007.2,459.2 1006.8,453.8 1007.5,450.0 C1008.2,446.2 1010.4,444.2 1012.5,440.0 C1014.6,435.8 1017.1,429.6 1020.0,425.0 C1022.9,420.4 1027.3,415.6 1030.0,412.5 C1032.7,409.4 1034.6,407.7 1036.2,406.2 C1037.9,404.8 1038.1,403.5 1040.0,403.8 Z" fill="#30b27c" stroke="#000000" stroke-width="1.0" stroke-linejoin="round"/>
<path d="M1041.2,408.0 C1043.5,407.6 1045.5,410.1 1046.2,412.5 C1047.0,414.9 1046.5,418.3 1045.5,422.5 C1044.5,426.7 1041.3,432.9 1040.0,437.5 C1038.7,442.1 1038.8,445.8 1037.5,450.0 C1036.2,454.2 1035.0,459.0 1032.5,462.5 C1030.0,466.0 1025.4,470.0 1022.5,471.2 C1019.6,472.5 1017.1,471.9 1015.0,470.0 C1012.9,468.1 1010.8,463.3 1010.0,460.0 C1009.2,456.7 1009.2,453.3 1010.0,450.0 C1010.8,446.7 1013.1,443.8 1015.0,440.0 C1016.9,436.2 1018.3,431.7 1021.2,427.5 C1024.2,423.3 1029.2,418.2 1032.5,415.0 C1035.8,411.8 1039.0,408.4 1041.2,408.0 Z" fill="#22a287" stroke="#000000" stroke-width="1.0" stroke-linejoin="round"/>
<path d="M1026.2,422.5 C1029.2,421.5 1035.2,422.1 1037.5,423.8 C1039.8,425.4 1040.0,428.5 1040.0,432.5 C1040.0,436.5 1039.0,442.9 1037.5,447.5 C1036.0,452.1 1034.0,456.7 1031.2,460.0 C1028.5,463.3 1024.2,466.7 1021.2,467.5 C1018.3,468.3 1015.4,467.1 1013.8,465.0 C1012.1,462.9 1011.0,458.8 1011.2,455.0 C1011.5,451.2 1013.5,446.7 1015.0,442.5 C1016.5,438.3 1018.1,433.3 1020.0,430.0 C1021.9,426.7 1023.3,423.5 1026.2,422.5 Z" fill="#22908c" stroke="#000000" stroke-width="1.0" stroke-linejoin="round"/>
<path d="M1027.5,426.2 C1029.8,425.8 1034.6,426.9 1036.2,428.8 C1037.9,430.6 1037.7,434.0 1037.5,437.5 C1037.3,441.0 1036.5,446.5 1035.0,450.0 C1033.5,453.5 1031.2,456.5 1028.8,458.8 C1026.2,461.0 1022.3,463.5 1020.0,463.8 C1017.7,464.0 1016.0,462.1 1015.0,460.0 C1014.0,457.9 1013.3,454.4 1013.8,451.2 C1014.2,448.1 1016.0,444.6 1017.5,441.2 C1019.0,437.9 1020.8,433.8 1022.5,431.2 C1024.2,428.8 1025.2,426.7 1027.5,426.2 Z" fill="#287e8e" stroke="#000000" stroke-width="1.0" stroke-linejoin="round"/>
<path d="M1028.0,429.5 C1029.8,429.2 1033.3,430.2 1034.5,432.0 C1035.7,433.8 1035.3,437.0 1035.0,440.0 C1034.7,443.0 1033.8,447.2 1032.5,450.0 C1031.2,452.8 1029.1,455.3 1027.0,457.0 C1024.9,458.7 1021.8,460.1 1020.0,460.0 C1018.2,459.9 1017.2,457.9 1016.5,456.2 C1015.8,454.6 1015.6,452.4 1016.0,450.0 C1016.4,447.6 1017.7,444.7 1019.0,442.0 C1020.3,439.3 1022.2,435.8 1023.8,433.8 C1025.2,431.7 1026.2,429.8 1028.0,429.5 Z" fill="#2f6e8e" stroke="#000000" stroke-width="1.0" stroke-linejoin="round"/>
<path d="M1028.0,432.5 C1029.4,432.3 1032.2,433.3 1033.0,435.0 C1033.8,436.7 1033.5,440.0 1033.0,442.5 C1032.5,445.0 1031.2,447.9 1030.0,450.0 C1028.8,452.1 1027.2,453.8 1025.5,455.0 C1023.8,456.2 1021.2,457.2 1020.0,457.0 C1018.8,456.8 1018.3,455.1 1018.0,453.8 C1017.7,452.4 1017.6,450.6 1018.0,448.8 C1018.4,446.9 1019.4,444.6 1020.5,442.5 C1021.6,440.4 1023.2,437.9 1024.5,436.2 C1025.8,434.6 1026.6,432.7 1028.0,432.5 Z" fill="#375b8c" stroke="#000000" stroke-width="1.0" stroke-linejoin="round"/>
<path d="M1027.5,435.0 C1028.6,434.9 1030.9,436.3 1031.5,438.0 C1032.1,439.7 1031.6,443.0 1031.0,445.0 C1030.4,447.0 1029.1,448.6 1028.0,450.0 C1026.9,451.4 1025.8,452.5 1024.5,453.2 C1023.2,454.0 1021.3,454.8 1020.5,454.2 C1019.7,453.7 1019.3,451.8 1019.5,450.0 C1019.7,448.2 1020.6,445.6 1021.5,443.8 C1022.4,441.9 1024.0,440.2 1025.0,438.8 C1026.0,437.3 1026.4,435.1 1027.5,435.0 Z" fill="#3f4788" stroke="#000000" stroke-width="1.0" stroke-linejoin="round"/>
<path d="M1027.0,437.5 C1027.8,437.7 1029.7,439.0 1030.0,440.5 C1030.3,442.0 1029.6,444.7 1029.0,446.2 C1028.4,447.8 1027.3,449.2 1026.2,450.0 C1025.2,450.8 1023.4,451.7 1022.5,451.2 C1021.6,450.8 1020.9,449.0 1021.0,447.5 C1021.1,446.0 1022.2,443.8 1023.0,442.5 C1023.8,441.2 1024.8,440.3 1025.5,439.5 C1026.2,438.7 1026.2,437.3 1027.0,437.5 Z" fill="#45317d" stroke="#000000" stroke-width="1.0" stroke-linejoin="round"/>
<path d="M1041.8,414.5 C1041.8,415.1 1041.3,415.9 1040.9,416.2 C1040.4,416.5 1039.6,416.5 1039.1,416.2 C1038.7,415.9 1038.2,415.1 1038.2,414.5 C1038.2,413.9 1038.7,413.1 1039.1,412.8 C1039.6,412.5 1040.4,412.5 1040.9,412.8 C1041.3,413.1 1041.8,413.9 1041.8,414.5 Z" fill="#22908c" stroke="#000000" stroke-width="1.0" stroke-linejoin="round"/>
<path d="M1000.0,468.8 C998.6,470.8 998.0,474.4 998.0,477.5 C998.0,480.6 998.6,485.0 1000.0,487.5 C1001.4,490.0 1004.2,492.5 1006.2,492.5 C1008.3,492.5 1011.0,490.0 1012.5,487.5 C1014.0,485.0 1015.0,480.6 1015.0,477.5 C1015.0,474.4 1014.0,470.8 1012.5,468.8 C1011.0,466.8 1008.3,465.5 1006.2,465.5 C1004.2,465.5 1001.4,466.8 1000.0,468.8 Z" fill="#73cf55" stroke="#000000" stroke-width="1.0" stroke-linejoin="round"/>
<path d="M1001.5,471.2 C1000.5,473.0 999.9,476.1 1000.0,478.8 C1000.1,481.4 1000.9,485.1 1002.0,487.0 C1003.1,488.9 1005.2,490.2 1006.8,490.0 C1008.3,489.8 1010.2,487.6 1011.2,485.5 C1012.3,483.4 1013.1,480.0 1013.0,477.5 C1012.9,475.0 1011.9,472.1 1010.8,470.5 C1009.6,468.9 1007.8,467.9 1006.2,468.0 C1004.7,468.1 1002.5,469.5 1001.5,471.2 Z" fill="#a1d938" stroke="#000000" stroke-width="1.0" stroke-linejoin="round"/>
<path d="M1003.0,473.8 C1002.3,475.3 1001.9,478.0 1002.0,480.0 C1002.1,482.0 1002.9,484.2 1003.8,485.5 C1004.6,486.8 1006.0,487.8 1007.0,487.5 C1008.0,487.2 1009.3,485.4 1010.0,483.8 C1010.7,482.1 1011.4,479.4 1011.2,477.5 C1011.1,475.6 1010.1,473.7 1009.2,472.5 C1008.4,471.3 1007.3,470.3 1006.2,470.5 C1005.2,470.7 1003.7,472.2 1003.0,473.8 Z" fill="#cfe129" stroke="#000000" stroke-width="1.0" stroke-linejoin="round"/>
<path d="M1004.5,476.2 C1003.9,477.5 1003.8,479.9 1004.0,481.2 C1004.2,482.6 1004.9,483.9 1005.5,484.5 C1006.1,485.1 1006.9,485.5 1007.5,485.0 C1008.1,484.5 1008.7,482.6 1009.0,481.2 C1009.3,479.9 1009.8,478.2 1009.5,477.0 C1009.2,475.8 1008.3,473.9 1007.5,473.8 C1006.7,473.6 1005.1,475.0 1004.5,476.2 Z" fill="#fde725" stroke="#000000" stroke-width="1.0" stroke-linejoin="round"/>
<path d="M976.2,445.0 C975.4,447.5 974.8,451.7 975.0,455.0 C975.2,458.3 975.8,462.3 977.5,465.0 C979.2,467.7 982.3,469.9 985.0,471.2 C987.7,472.6 991.2,473.6 993.8,473.0 C996.2,472.4 998.5,469.7 1000.0,467.5 C1001.5,465.3 1001.9,462.5 1002.5,460.0 C1003.1,457.5 1003.8,455.0 1003.8,452.5 C1003.8,450.0 1003.8,447.2 1002.5,445.0 C1001.2,442.8 998.8,440.7 996.2,439.5 C993.8,438.3 990.2,437.9 987.5,438.0 C984.8,438.1 981.9,438.8 980.0,440.0 C978.1,441.2 977.1,442.5 976.2,445.0 Z" fill="#30b27c" stroke="#000000" stroke-width="1.0" stroke-linejoin="round"/>
<path d="M981.2,476.2 C979.7,477.6 977.6,479.8 977.0,482.5 C976.4,485.2 976.8,489.2 977.5,492.5 C978.2,495.8 979.9,499.4 981.2,502.5 C982.6,505.6 984.7,511.7 985.8,511.2 C986.8,510.8 986.8,504.0 987.5,500.0 C988.2,496.0 989.7,491.0 990.0,487.5 C990.3,484.0 990.1,480.9 989.5,478.8 C988.9,476.6 987.6,474.9 986.2,474.5 C984.9,474.1 982.8,474.9 981.2,476.2 Z" fill="#30b27c" stroke="#000000" stroke-width="1.0" stroke-linejoin="round"/>
<path d="M1152.5,316.2 C1153.5,313.6 1159.4,311.6 1162.5,310.5 C1165.6,309.4 1169.0,311.0 1171.2,309.5 C1173.5,308.0 1174.5,303.5 1176.2,301.2 C1178.0,299.0 1179.9,296.7 1182.0,296.2 C1184.1,295.8 1186.8,297.5 1188.8,298.8 C1190.7,300.0 1193.5,301.9 1193.8,303.8 C1194.0,305.6 1190.8,307.7 1190.0,310.0 C1189.2,312.3 1189.4,314.6 1188.8,317.5 C1188.1,320.4 1186.5,323.8 1186.2,327.5 C1186.0,331.2 1186.9,335.4 1187.5,340.0 C1188.1,344.6 1189.4,350.6 1190.0,355.0 C1190.6,359.4 1191.5,363.1 1191.2,366.2 C1191.0,369.4 1190.2,372.2 1188.8,373.8 C1187.3,375.3 1184.2,376.1 1182.5,375.5 C1180.8,374.9 1179.6,373.4 1178.8,370.0 C1177.9,366.6 1178.5,359.6 1177.5,355.0 C1176.5,350.4 1175.0,346.2 1172.5,342.5 C1170.0,338.8 1165.2,335.2 1162.5,332.5 C1159.8,329.8 1157.9,329.0 1156.2,326.2 C1154.6,323.5 1151.5,318.9 1152.5,316.2 Z" fill="#30b27c" stroke="#000000" stroke-width="1.0" stroke-linejoin="round"/>
<path d="M1192.5,366.2 C1193.8,364.2 1197.1,362.5 1200.0,362.5 C1202.9,362.5 1207.1,363.8 1210.0,366.2 C1212.9,368.8 1216.7,373.1 1217.5,377.5 C1218.3,381.9 1215.4,388.8 1215.0,392.5 C1214.6,396.2 1213.8,398.0 1215.0,400.0 C1216.2,402.0 1220.5,402.8 1222.5,404.5 C1224.5,406.2 1227.0,408.7 1227.0,410.5 C1227.0,412.3 1224.7,414.3 1222.5,415.5 C1220.3,416.7 1216.2,417.8 1213.8,417.5 C1211.2,417.2 1207.9,415.8 1207.5,413.8 C1207.1,411.7 1211.5,407.1 1211.2,405.0 C1211.0,402.9 1208.3,402.9 1206.2,401.2 C1204.2,399.6 1200.6,397.7 1198.8,395.0 C1196.9,392.3 1196.0,388.3 1195.0,385.0 C1194.0,381.7 1192.9,378.1 1192.5,375.0 C1192.1,371.9 1191.2,368.3 1192.5,366.2 Z" fill="#30b27c" stroke="#000000" stroke-width="1.0" stroke-linejoin="round"/>
<path d="M1143.8,292.5 C1143.2,294.0 1145.0,296.7 1146.2,297.5 C1147.5,298.3 1150.2,298.3 1151.2,297.5 C1152.3,296.7 1152.8,294.0 1152.5,292.5 C1152.2,291.0 1151.0,288.8 1149.5,288.8 C1148.0,288.8 1144.3,291.0 1143.8,292.5 Z" fill="#30b27c" stroke="#000000" stroke-width="1.0" stroke-linejoin="round"/>
<path d="M1149.8,273.8 C1149.8,274.1 1148.7,274.7 1147.6,274.8 C1146.6,275.0 1144.4,275.0 1143.4,274.8 C1142.3,274.7 1141.2,274.1 1141.2,273.8 C1141.2,273.4 1142.3,272.8 1143.4,272.7 C1144.4,272.5 1146.6,272.5 1147.6,272.7 C1148.7,272.8 1149.8,273.4 1149.8,273.8 Z" fill="#30b27c" stroke="#000000" stroke-width="1.0" stroke-linejoin="round"/>
<path d="M1128.4,334.2 C1128.2,335.0 1127.5,336.2 1126.9,336.5 C1126.4,336.8 1125.5,336.6 1125.2,336.0 C1124.9,335.5 1124.8,334.1 1125.1,333.3 C1125.3,332.5 1126.0,331.3 1126.6,331.0 C1127.1,330.7 1128.0,330.9 1128.3,331.5 C1128.6,332.0 1128.7,333.4 1128.4,334.2 Z" fill="#30b27c" stroke="#000000" stroke-width="1.0" stroke-linejoin="round"/>
<path d="M1030.8,344.5 C1030.8,344.9 1030.2,345.6 1029.8,345.8 C1029.2,346.0 1028.2,346.0 1027.8,345.8 C1027.2,345.6 1026.8,344.9 1026.8,344.5 C1026.8,344.1 1027.2,343.4 1027.8,343.2 C1028.2,343.0 1029.2,343.0 1029.8,343.2 C1030.2,343.4 1030.8,344.1 1030.8,344.5 Z" fill="#30b27c" stroke="#000000" stroke-width="1.0" stroke-linejoin="round"/>
<path d="M1248.5,446.2 C1248.5,448.8 1248.2,452.1 1247.8,453.9 C1247.5,455.6 1246.8,457.0 1246.2,457.0 C1245.7,457.0 1245.0,455.6 1244.7,453.9 C1244.3,452.1 1244.0,448.8 1244.0,446.2 C1244.0,443.7 1244.3,440.4 1244.7,438.6 C1245.0,436.9 1245.7,435.5 1246.2,435.5 C1246.8,435.5 1247.5,436.9 1247.8,438.6 C1248.2,440.4 1248.5,443.7 1248.5,446.2 Z" fill="#30b27c" stroke="#000000" stroke-width="1.0" stroke-linejoin="round"/>
<path d="M1202.5,482.5 C1199.2,483.8 1197.1,488.8 1195.0,492.5 C1192.9,496.2 1190.9,500.8 1190.0,505.0 C1189.1,509.2 1188.9,513.3 1189.5,517.5 C1190.1,521.7 1191.6,526.5 1193.8,530.0 C1195.9,533.5 1199.8,538.1 1202.5,538.8 C1205.2,539.4 1206.7,536.0 1210.0,533.8 C1213.3,531.5 1218.3,528.1 1222.5,525.0 C1226.7,521.9 1231.2,518.3 1235.0,515.0 C1238.8,511.7 1243.0,508.3 1245.0,505.0 C1247.0,501.7 1247.8,497.9 1247.0,495.0 C1246.2,492.1 1243.2,489.2 1240.0,487.5 C1236.8,485.8 1231.7,485.5 1227.5,485.0 C1223.3,484.5 1219.2,484.9 1215.0,484.5 C1210.8,484.1 1205.8,481.2 1202.5,482.5 Z" fill="#30b27c" stroke="#000000" stroke-width="1.0" stroke-linejoin="round"/>
<path d="M1318.0,400.0 C1304.7,407.5 1318.4,415.8 1320.0,425.0 C1321.6,434.2 1325.2,445.4 1327.5,455.0 C1329.8,464.6 1332.6,475.5 1333.8,482.5 C1334.9,489.5 1336.0,496.2 1334.5,497.0 C1333.0,497.8 1328.9,490.5 1325.0,487.5 C1321.1,484.5 1315.4,479.2 1311.2,478.8 C1307.1,478.3 1304.0,481.0 1300.0,485.0 C1296.0,489.0 1291.7,495.8 1287.5,502.5 C1283.3,509.2 1278.3,517.9 1275.0,525.0 C1271.7,532.1 1269.4,538.3 1267.5,545.0 C1265.6,551.7 1264.5,559.2 1263.8,565.0 C1263.0,570.8 1262.8,574.6 1263.0,580.0 C1263.2,585.4 1263.8,592.5 1265.0,597.5 C1266.2,602.5 1267.1,606.5 1270.0,610.0 C1272.9,613.5 1278.8,616.5 1282.5,618.8 C1286.2,621.0 1289.2,621.9 1292.5,623.8 C1295.8,625.6 1299.2,628.8 1302.5,630.0 C1305.8,631.2 1309.2,629.8 1312.5,631.2 C1315.8,632.7 1318.8,637.1 1322.5,638.8 C1326.2,640.4 1330.8,640.6 1335.0,641.2 C1339.2,641.9 1343.8,641.0 1347.5,642.5 C1351.2,644.0 1353.3,648.3 1357.5,650.0 C1361.7,651.7 1367.1,650.8 1372.5,652.5 C1377.9,654.2 1383.8,657.6 1390.0,660.0 C1396.2,662.4 1402.5,664.9 1410.0,667.0 C1417.5,669.1 1427.7,671.0 1435.0,672.5 C1442.3,674.0 1439.6,673.3 1453.8,676.2 C1467.9,679.2 1502.3,719.4 1520.0,690.0 C1537.7,660.6 1580.0,551.7 1560.0,500.0 C1540.0,448.3 1440.3,396.7 1400.0,380.0 C1359.7,363.3 1331.3,392.5 1318.0,400.0 Z" fill="#30b27c" stroke="#000000" stroke-width="1.0" stroke-linejoin="round"/>
<path d="M1235.0,528.8 C1233.8,530.3 1232.5,534.0 1231.2,537.5 C1230.0,541.0 1227.1,546.8 1227.5,550.0 C1227.9,553.2 1231.7,556.6 1233.8,557.0 C1235.8,557.4 1238.3,554.9 1240.0,552.5 C1241.7,550.1 1243.3,545.8 1243.8,542.5 C1244.2,539.2 1243.3,534.9 1242.5,532.5 C1241.7,530.1 1240.0,528.9 1238.8,528.2 C1237.5,527.6 1236.2,527.2 1235.0,528.8 Z" fill="#30b27c" stroke="#000000" stroke-width="1.0" stroke-linejoin="round"/>
<path d="M1126.2,597.5 C1124.8,598.5 1121.6,602.1 1120.0,605.0 C1118.4,607.9 1116.8,611.7 1116.8,615.0 C1116.8,618.3 1118.4,622.6 1120.0,625.0 C1121.6,627.4 1124.2,629.5 1126.2,629.5 C1128.3,629.5 1131.0,627.2 1132.5,625.0 C1134.0,622.8 1135.5,619.6 1135.5,616.2 C1135.5,612.9 1133.6,607.9 1132.5,605.0 C1131.4,602.1 1129.8,600.0 1128.8,598.8 C1127.7,597.5 1127.7,596.5 1126.2,597.5 Z" fill="#30b27c" stroke="#000000" stroke-width="1.0" stroke-linejoin="round"/>
<path d="M1063.8,671.2 C1063.5,673.2 1063.5,676.9 1065.0,680.0 C1066.5,683.1 1069.2,687.1 1072.5,690.0 C1075.8,692.9 1080.0,695.2 1085.0,697.5 C1090.0,699.8 1096.7,702.2 1102.5,703.8 C1108.3,705.3 1115.2,706.8 1120.0,707.0 C1124.8,707.2 1128.4,706.4 1131.2,705.0 C1134.1,703.6 1136.8,701.2 1137.0,698.8 C1137.2,696.2 1134.9,693.1 1132.5,690.0 C1130.1,686.9 1126.2,682.9 1122.5,680.0 C1118.8,677.1 1113.8,675.0 1110.0,672.5 C1106.2,670.0 1102.9,667.2 1100.0,665.0 C1097.1,662.8 1095.4,660.4 1092.5,659.5 C1089.6,658.6 1085.8,658.8 1082.5,659.5 C1079.2,660.2 1075.2,662.3 1072.5,663.8 C1069.8,665.2 1067.7,666.8 1066.2,668.0 C1064.8,669.2 1064.0,669.2 1063.8,671.2 Z" fill="#30b27c" stroke="#000000" stroke-width="1.0" stroke-linejoin="round"/>
<path d="M1214.7,601.6 C1214.5,602.8 1213.7,604.7 1213.2,605.2 C1212.6,605.8 1211.8,605.7 1211.5,604.9 C1211.1,604.2 1211.1,602.2 1211.3,600.9 C1211.5,599.7 1212.3,597.8 1212.8,597.3 C1213.4,596.7 1214.2,596.8 1214.5,597.6 C1214.9,598.3 1214.9,600.3 1214.7,601.6 Z" fill="#30b27c" stroke="#000000" stroke-width="1.0" stroke-linejoin="round"/>
<path d="M1226.7,611.8 C1226.8,612.1 1226.6,612.8 1226.1,613.3 C1225.7,613.8 1224.6,614.4 1224.0,614.6 C1223.3,614.7 1222.5,614.6 1222.3,614.2 C1222.2,613.9 1222.4,613.2 1222.9,612.7 C1223.3,612.2 1224.4,611.6 1225.0,611.4 C1225.7,611.3 1226.5,611.4 1226.7,611.8 Z" fill="#30b27c" stroke="#000000" stroke-width="1.0" stroke-linejoin="round"/>
</g></g>
<path d="M981.25,340.83 L984.08,343.66 L986.91,340.83 L984.08,338.00 L986.91,335.17 L984.08,332.34 L981.25,335.17 L978.42,332.34 L975.59,335.17 L978.42,338.00 L975.59,340.83 L978.42,343.66ZM981.25,348.33 L984.08,351.16 L986.91,348.33 L984.08,345.50 L986.91,342.67 L984.08,339.84 L981.25,342.67 L978.42,339.84 L975.59,342.67 L978.42,345.50 L975.59,348.33 L978.42,351.16ZM990.75,369.08 L993.58,371.91 L996.41,369.08 L993.58,366.25 L996.41,363.42 L993.58,360.59 L990.75,363.42 L987.92,360.59 L985.09,363.42 L987.92,366.25 L985.09,369.08 L987.92,371.91ZM1018.75,351.58 L1021.58,354.41 L1024.41,351.58 L1021.58,348.75 L1024.41,345.92 L1021.58,343.09 L1018.75,345.92 L1015.92,343.09 L1013.09,345.92 L1015.92,348.75 L1013.09,351.58 L1015.92,354.41ZM1037.50,364.08 L1040.33,366.91 L1043.16,364.08 L1040.33,361.25 L1043.16,358.42 L1040.33,355.59 L1037.50,358.42 L1034.67,355.59 L1031.84,358.42 L1034.67,361.25 L1031.84,364.08 L1034.67,366.91ZM1061.75,366.58 L1064.58,369.41 L1067.41,366.58 L1064.58,363.75 L1067.41,360.92 L1064.58,358.09 L1061.75,360.92 L1058.92,358.09 L1056.09,360.92 L1058.92,363.75 L1056.09,366.58 L1058.92,369.41ZM1065.75,302.33 L1068.58,305.16 L1071.41,302.33 L1068.58,299.50 L1071.41,296.67 L1068.58,293.84 L1065.75,296.67 L1062.92,293.84 L1060.09,296.67 L1062.92,299.50 L1060.09,302.33 L1062.92,305.16ZM1066.50,324.83 L1069.33,327.66 L1072.16,324.83 L1069.33,322.00 L1072.16,319.17 L1069.33,316.34 L1066.50,319.17 L1063.67,316.34 L1060.84,319.17 L1063.67,322.00 L1060.84,324.83 L1063.67,327.66ZM1116.25,306.08 L1119.08,308.91 L1121.91,306.08 L1119.08,303.25 L1121.91,300.42 L1119.08,297.59 L1116.25,300.42 L1113.42,297.59 L1110.59,300.42 L1113.42,303.25 L1110.59,306.08 L1113.42,308.91ZM1123.75,295.33 L1126.58,298.16 L1129.41,295.33 L1126.58,292.50 L1129.41,289.67 L1126.58,286.84 L1123.75,289.67 L1120.92,286.84 L1118.09,289.67 L1120.92,292.50 L1118.09,295.33 L1120.92,298.16ZM1132.50,328.58 L1135.33,331.41 L1138.16,328.58 L1135.33,325.75 L1138.16,322.92 L1135.33,320.09 L1132.50,322.92 L1129.67,320.09 L1126.84,322.92 L1129.67,325.75 L1126.84,328.58 L1129.67,331.41ZM1138.00,327.33 L1140.83,330.16 L1143.66,327.33 L1140.83,324.50 L1143.66,321.67 L1140.83,318.84 L1138.00,321.67 L1135.17,318.84 L1132.34,321.67 L1135.17,324.50 L1132.34,327.33 L1135.17,330.16ZM1140.00,331.58 L1142.83,334.41 L1145.66,331.58 L1142.83,328.75 L1145.66,325.92 L1142.83,323.09 L1140.00,325.92 L1137.17,323.09 L1134.34,325.92 L1137.17,328.75 L1134.34,331.58 L1137.17,334.41ZM1143.00,327.33 L1145.83,330.16 L1148.66,327.33 L1145.83,324.50 L1148.66,321.67 L1145.83,318.84 L1143.00,321.67 L1140.17,318.84 L1137.34,321.67 L1140.17,324.50 L1137.34,327.33 L1140.17,330.16ZM1167.50,349.58 L1170.33,352.41 L1173.16,349.58 L1170.33,346.75 L1173.16,343.92 L1170.33,341.09 L1167.50,343.92 L1164.67,341.09 L1161.84,343.92 L1164.67,346.75 L1161.84,349.58 L1164.67,352.41ZM1189.25,321.83 L1192.08,324.66 L1194.91,321.83 L1192.08,319.00 L1194.91,316.17 L1192.08,313.34 L1189.25,316.17 L1186.42,313.34 L1183.59,316.17 L1186.42,319.00 L1183.59,321.83 L1186.42,324.66ZM1218.25,332.83 L1221.08,335.66 L1223.91,332.83 L1221.08,330.00 L1223.91,327.17 L1221.08,324.34 L1218.25,327.17 L1215.42,324.34 L1212.59,327.17 L1215.42,330.00 L1212.59,332.83 L1215.42,335.66ZM1193.75,270.83 L1196.58,273.66 L1199.41,270.83 L1196.58,268.00 L1199.41,265.17 L1196.58,262.34 L1193.75,265.17 L1190.92,262.34 L1188.09,265.17 L1190.92,268.00 L1188.09,270.83 L1190.92,273.66ZM968.75,409.58 L971.58,412.41 L974.41,409.58 L971.58,406.75 L974.41,403.92 L971.58,401.09 L968.75,403.92 L965.92,401.09 L963.09,403.92 L965.92,406.75 L963.09,409.58 L965.92,412.41ZM961.00,419.83 L963.83,422.66 L966.66,419.83 L963.83,417.00 L966.66,414.17 L963.83,411.34 L961.00,414.17 L958.17,411.34 L955.34,414.17 L958.17,417.00 L955.34,419.83 L958.17,422.66ZM1000.50,446.58 L1003.33,449.41 L1006.16,446.58 L1003.33,443.75 L1006.16,440.92 L1003.33,438.09 L1000.50,440.92 L997.67,438.09 L994.84,440.92 L997.67,443.75 L994.84,446.58 L997.67,449.41ZM962.00,469.83 L964.83,472.66 L967.66,469.83 L964.83,467.00 L967.66,464.17 L964.83,461.34 L962.00,464.17 L959.17,461.34 L956.34,464.17 L959.17,467.00 L956.34,469.83 L959.17,472.66ZM1282.00,406.58 L1284.83,409.41 L1287.66,406.58 L1284.83,403.75 L1287.66,400.92 L1284.83,398.09 L1282.00,400.92 L1279.17,398.09 L1276.34,400.92 L1279.17,403.75 L1276.34,406.58 L1279.17,409.41ZM1280.50,460.83 L1283.33,463.66 L1286.16,460.83 L1283.33,458.00 L1286.16,455.17 L1283.33,452.34 L1280.50,455.17 L1277.67,452.34 L1274.84,455.17 L1277.67,458.00 L1274.84,460.83 L1277.67,463.66ZM1248.75,484.08 L1251.58,486.91 L1254.41,484.08 L1251.58,481.25 L1254.41,478.42 L1251.58,475.59 L1248.75,478.42 L1245.92,475.59 L1243.09,478.42 L1245.92,481.25 L1243.09,484.08 L1245.92,486.91ZM1255.00,485.33 L1257.83,488.16 L1260.66,485.33 L1257.83,482.50 L1260.66,479.67 L1257.83,476.84 L1255.00,479.67 L1252.17,476.84 L1249.34,479.67 L1252.17,482.50 L1249.34,485.33 L1252.17,488.16ZM1261.25,485.83 L1264.08,488.66 L1266.91,485.83 L1264.08,483.00 L1266.91,480.17 L1264.08,477.34 L1261.25,480.17 L1258.42,477.34 L1255.59,480.17 L1258.42,483.00 L1255.59,485.83 L1258.42,488.66ZM1250.00,490.33 L1252.83,493.16 L1255.66,490.33 L1252.83,487.50 L1255.66,484.67 L1252.83,481.84 L1250.00,484.67 L1247.17,481.84 L1244.34,484.67 L1247.17,487.50 L1244.34,490.33 L1247.17,493.16ZM1258.00,490.83 L1260.83,493.66 L1263.66,490.83 L1260.83,488.00 L1263.66,485.17 L1260.83,482.34 L1258.00,485.17 L1255.17,482.34 L1252.34,485.17 L1255.17,488.00 L1252.34,490.83 L1255.17,493.66ZM1247.50,506.58 L1250.33,509.41 L1253.16,506.58 L1250.33,503.75 L1253.16,500.92 L1250.33,498.09 L1247.50,500.92 L1244.67,498.09 L1241.84,500.92 L1244.67,503.75 L1241.84,506.58 L1244.67,509.41ZM968.75,552.33 L971.58,555.16 L974.41,552.33 L971.58,549.50 L974.41,546.67 L971.58,543.84 L968.75,546.67 L965.92,543.84 L963.09,546.67 L965.92,549.50 L963.09,552.33 L965.92,555.16ZM971.75,557.83 L974.58,560.66 L977.41,557.83 L974.58,555.00 L977.41,552.17 L974.58,549.34 L971.75,552.17 L968.92,549.34 L966.09,552.17 L968.92,555.00 L966.09,557.83 L968.92,560.66ZM966.25,566.08 L969.08,568.91 L971.91,566.08 L969.08,563.25 L971.91,560.42 L969.08,557.59 L966.25,560.42 L963.42,557.59 L960.59,560.42 L963.42,563.25 L960.59,566.08 L963.42,568.91ZM987.00,595.33 L989.83,598.16 L992.66,595.33 L989.83,592.50 L992.66,589.67 L989.83,586.84 L987.00,589.67 L984.17,586.84 L981.34,589.67 L984.17,592.50 L981.34,595.33 L984.17,598.16ZM995.75,592.83 L998.58,595.66 L1001.41,592.83 L998.58,590.00 L1001.41,587.17 L998.58,584.34 L995.75,587.17 L992.92,584.34 L990.09,587.17 L992.92,590.00 L990.09,592.83 L992.92,595.66ZM1012.00,594.83 L1014.83,597.66 L1017.66,594.83 L1014.83,592.00 L1017.66,589.17 L1014.83,586.34 L1012.00,589.17 L1009.17,586.34 L1006.34,589.17 L1009.17,592.00 L1006.34,594.83 L1009.17,597.66ZM1018.00,595.83 L1020.83,598.66 L1023.66,595.83 L1020.83,593.00 L1023.66,590.17 L1020.83,587.34 L1018.00,590.17 L1015.17,587.34 L1012.34,590.17 L1015.17,593.00 L1012.34,595.83 L1015.17,598.66ZM1195.00,589.83 L1197.83,592.66 L1200.66,589.83 L1197.83,587.00 L1200.66,584.17 L1197.83,581.34 L1195.00,584.17 L1192.17,581.34 L1189.34,584.17 L1192.17,587.00 L1189.34,589.83 L1192.17,592.66ZM1223.00,578.33 L1225.83,581.16 L1228.66,578.33 L1225.83,575.50 L1228.66,572.67 L1225.83,569.84 L1223.00,572.67 L1220.17,569.84 L1217.34,572.67 L1220.17,575.50 L1217.34,578.33 L1220.17,581.16ZM1231.25,599.83 L1234.08,602.66 L1236.91,599.83 L1234.08,597.00 L1236.91,594.17 L1234.08,591.34 L1231.25,594.17 L1228.42,591.34 L1225.59,594.17 L1228.42,597.00 L1225.59,599.83 L1228.42,602.66ZM1258.75,608.58 L1261.58,611.41 L1264.41,608.58 L1261.58,605.75 L1264.41,602.92 L1261.58,600.09 L1258.75,602.92 L1255.92,600.09 L1253.09,602.92 L1255.92,605.75 L1253.09,608.58 L1255.92,611.41ZM1216.25,614.83 L1219.08,617.66 L1221.91,614.83 L1219.08,612.00 L1221.91,609.17 L1219.08,606.34 L1216.25,609.17 L1213.42,606.34 L1210.59,609.17 L1213.42,612.00 L1210.59,614.83 L1213.42,617.66ZM1176.25,629.08 L1179.08,631.91 L1181.91,629.08 L1179.08,626.25 L1181.91,623.42 L1179.08,620.59 L1176.25,623.42 L1173.42,620.59 L1170.59,623.42 L1173.42,626.25 L1170.59,629.08 L1173.42,631.91ZM1214.50,614.08 L1217.33,616.91 L1220.16,614.08 L1217.33,611.25 L1220.16,608.42 L1217.33,605.59 L1214.50,608.42 L1211.67,605.59 L1208.84,608.42 L1211.67,611.25 L1208.84,614.08 L1211.67,616.91ZM1217.00,617.33 L1219.83,620.16 L1222.66,617.33 L1219.83,614.50 L1222.66,611.67 L1219.83,608.84 L1217.00,611.67 L1214.17,608.84 L1211.34,611.67 L1214.17,614.50 L1211.34,617.33 L1214.17,620.16ZM1229.00,639.08 L1231.83,641.91 L1234.66,639.08 L1231.83,636.25 L1234.66,633.42 L1231.83,630.59 L1229.00,633.42 L1226.17,630.59 L1223.34,633.42 L1226.17,636.25 L1223.34,639.08 L1226.17,641.91ZM1240.00,649.83 L1242.83,652.66 L1245.66,649.83 L1242.83,647.00 L1245.66,644.17 L1242.83,641.34 L1240.00,644.17 L1237.17,641.34 L1234.34,644.17 L1237.17,647.00 L1234.34,649.83 L1237.17,652.66ZM1163.75,673.33 L1166.58,676.16 L1169.41,673.33 L1166.58,670.50 L1169.41,667.67 L1166.58,664.84 L1163.75,667.67 L1160.92,664.84 L1158.09,667.67 L1160.92,670.50 L1158.09,673.33 L1160.92,676.16ZM1145.00,695.83 L1147.83,698.66 L1150.66,695.83 L1147.83,693.00 L1150.66,690.17 L1147.83,687.34 L1145.00,690.17 L1142.17,687.34 L1139.34,690.17 L1142.17,693.00 L1139.34,695.83 L1142.17,698.66ZM1043.75,662.83 L1046.58,665.66 L1049.41,662.83 L1046.58,660.00 L1049.41,657.17 L1046.58,654.34 L1043.75,657.17 L1040.92,654.34 L1038.09,657.17 L1040.92,660.00 L1038.09,662.83 L1040.92,665.66ZM1051.25,659.08 L1054.08,661.91 L1056.91,659.08 L1054.08,656.25 L1056.91,653.42 L1054.08,650.59 L1051.25,653.42 L1048.42,650.59 L1045.59,653.42 L1048.42,656.25 L1045.59,659.08 L1048.42,661.91ZM1047.50,666.58 L1050.33,669.41 L1053.16,666.58 L1050.33,663.75 L1053.16,660.92 L1050.33,658.09 L1047.50,660.92 L1044.67,658.09 L1041.84,660.92 L1044.67,663.75 L1041.84,666.58 L1044.67,669.41ZM1052.50,665.33 L1055.33,668.16 L1058.16,665.33 L1055.33,662.50 L1058.16,659.67 L1055.33,656.84 L1052.50,659.67 L1049.67,656.84 L1046.84,659.67 L1049.67,662.50 L1046.84,665.33 L1049.67,668.16ZM1043.75,670.33 L1046.58,673.16 L1049.41,670.33 L1046.58,667.50 L1049.41,664.67 L1046.58,661.84 L1043.75,664.67 L1040.92,661.84 L1038.09,664.67 L1040.92,667.50 L1038.09,670.33 L1040.92,673.16ZM1050.00,671.58 L1052.83,674.41 L1055.66,671.58 L1052.83,668.75 L1055.66,665.92 L1052.83,663.09 L1050.00,665.92 L1047.17,663.09 L1044.34,665.92 L1047.17,668.75 L1044.34,671.58 L1047.17,674.41ZM1046.25,674.08 L1049.08,676.91 L1051.91,674.08 L1049.08,671.25 L1051.91,668.42 L1049.08,665.59 L1046.25,668.42 L1043.42,665.59 L1040.59,668.42 L1043.42,671.25 L1040.59,674.08 L1043.42,676.91ZM1052.50,674.08 L1055.33,676.91 L1058.16,674.08 L1055.33,671.25 L1058.16,668.42 L1055.33,665.59 L1052.50,668.42 L1049.67,665.59 L1046.84,668.42 L1049.67,671.25 L1046.84,674.08 L1049.67,676.91Z" fill="#ff0000" stroke="#444444" stroke-width="2" stroke-linejoin="miter"/>
</g>
<g id="sub3">
<clipPath id="clip3"><path d="M1733.8,248.8 L1932.5,248.8 L1943.0,258.2 L1943.0,267.7 L1953.5,277.2 L1964.0,286.7 L1974.6,296.1 L1974.6,305.6 L1985.1,315.1 L1995.6,324.6 L1995.6,334.1 L2006.1,343.5 L2016.6,353.0 L2027.1,362.5 L2027.1,372.0 L2037.6,381.5 L2048.2,390.9 L2048.2,400.4 L2058.7,409.9 L2069.2,419.4 L2069.2,428.9 L2079.7,438.3 L2090.2,447.8 L2100.7,457.3 L2100.7,466.8 L2111.2,476.2 L2111.2,485.0 L2142.0,513.8 L2142.0,533.8 L2131.6,543.2 L2121.1,552.7 L2110.7,562.2 L2100.3,571.6 L2089.8,581.1 L2079.4,590.6 L2069.0,600.0 L2058.5,609.5 L2048.1,619.0 L2037.7,628.4 L2027.2,637.9 L2016.8,647.4 L2006.4,656.8 L1995.9,666.3 L1985.5,675.8 L1975.0,675.8 L1964.2,685.0 L1953.8,685.0 L1943.0,694.2 L1776.2,694.2 L1766.2,685.0 L1745.0,685.0 L1734.5,675.8 L1713.0,675.8 L1702.5,666.2 L1670.5,666.2 L1660.0,656.2 L1660.0,646.2 L1649.2,636.2 L1649.2,372.5 L1659.8,363.0 L1659.8,353.5 L1670.4,343.9 L1670.4,334.4 L1680.9,324.9 L1691.5,315.4 L1691.5,305.9 L1702.1,296.3 L1712.6,286.8 L1712.6,277.3 L1723.2,267.8 L1723.2,258.3 L1733.8,248.8 Z"/></clipPath>
<g opacity="0.7"><g clip-path="url(#clip3)">
<path d="M1733.8,248.8 L1932.5,248.8 L1943.0,258.2 L1943.0,267.7 L1953.5,277.2 L1964.0,286.7 L1974.6,296.1 L1974.6,305.6 L1985.1,315.1 L1995.6,324.6 L1995.6,334.1 L2006.1,343.5 L2016.6,353.0 L2027.1,362.5 L2027.1,372.0 L2037.6,381.5 L2048.2,390.9 L2048.2,400.4 L2058.7,409.9 L2069.2,419.4 L2069.2,428.9 L2079.7,438.3 L2090.2,447.8 L2100.7,457.3 L2100.7,466.8 L2111.2,476.2 L2111.2,485.0 L2142.0,513.8 L2142.0,533.8 L2131.6,543.2 L2121.1,552.7 L2110.7,562.2 L2100.3,571.6 L2089.8,581.1 L2079.4,590.6 L2069.0,600.0 L2058.5,609.5 L2048.1,619.0 L2037.7,628.4 L2027.2,637.9 L2016.8,647.4 L2006.4,656.8 L1995.9,666.3 L1985.5,675.8 L1975.0,675.8 L1964.2,685.0 L1953.8,685.0 L1943.0,694.2 L1776.2,694.2 L1766.2,685.0 L1745.0,685.0 L1734.5,675.8 L1713.0,675.8 L1702.5,666.2 L1670.5,666.2 L1660.0,656.2 L1660.0,646.2 L1649.2,636.2 L1649.2,372.5 L1659.8,363.0 L1659.8,353.5 L1670.4,343.9 L1670.4,334.4 L1680.9,324.9 L1691.5,315.4 L1691.5,305.9 L1702.1,296.3 L1712.6,286.8 L1712.6,277.3 L1723.2,267.8 L1723.2,258.3 L1733.8,248.8 Z" fill="#22a287"/>
<path d="M1737.5,513.8 C1732.1,515.2 1729.7,517.3 1727.5,520.0 C1725.3,522.7 1724.5,526.2 1724.2,530.0 C1724.0,533.8 1725.3,538.3 1726.2,542.5 C1727.2,546.7 1729.0,550.8 1730.0,555.0 C1731.0,559.2 1731.6,563.5 1732.0,567.5 C1732.4,571.5 1733.2,575.0 1732.5,578.8 C1731.8,582.5 1729.3,586.4 1728.0,590.0 C1726.7,593.6 1725.2,598.0 1724.5,600.5 C1723.8,603.0 1722.6,603.2 1723.5,605.0 C1724.4,606.8 1727.0,610.2 1730.0,611.2 C1733.0,612.3 1739.3,612.5 1741.5,611.2 C1743.7,610.0 1742.6,605.9 1743.0,603.8 C1743.4,601.6 1742.2,598.0 1744.0,598.5 C1745.8,599.0 1750.2,604.2 1753.8,607.0 C1757.2,609.8 1761.4,613.0 1765.0,615.2 C1768.6,617.5 1772.1,620.5 1775.5,620.5 C1778.9,620.5 1781.6,617.7 1785.2,615.2 C1788.9,612.8 1792.5,609.8 1797.5,606.0 C1802.5,602.2 1807.9,597.7 1815.0,592.5 C1822.1,587.3 1831.7,580.8 1840.0,575.0 C1848.3,569.2 1857.5,562.1 1865.0,557.5 C1872.5,552.9 1879.2,550.0 1885.0,547.5 C1890.8,545.0 1897.1,541.9 1900.0,542.5 C1902.9,543.1 1902.5,547.1 1902.5,551.2 C1902.5,555.4 1899.6,562.3 1900.0,567.5 C1900.4,572.7 1902.9,578.3 1905.0,582.5 C1907.1,586.7 1909.2,590.0 1912.5,592.5 C1915.8,595.0 1921.2,597.1 1925.0,597.5 C1928.8,597.9 1931.7,597.5 1935.0,595.0 C1938.3,592.5 1942.5,587.9 1945.0,582.5 C1947.5,577.1 1949.2,569.2 1950.0,562.5 C1950.8,555.8 1950.4,548.3 1950.0,542.5 C1949.6,536.7 1949.2,531.7 1947.5,527.5 C1945.8,523.3 1943.8,520.8 1940.0,517.5 C1936.2,514.2 1930.0,510.4 1925.0,507.5 C1920.0,504.6 1915.0,502.0 1910.0,500.0 C1905.0,498.0 1900.4,496.5 1895.0,495.5 C1889.6,494.5 1884.6,493.9 1877.5,494.2 C1870.4,494.6 1862.1,495.9 1852.5,497.5 C1842.9,499.1 1830.4,502.1 1820.0,503.8 C1809.6,505.4 1800.0,506.2 1790.0,507.5 C1780.0,508.8 1768.8,510.2 1760.0,511.2 C1751.2,512.3 1742.9,512.3 1737.5,513.8 Z" fill="#287e8e" stroke="#000000" stroke-width="1.0" stroke-linejoin="round"/>
<path d="M1746.2,533.8 C1743.1,536.7 1742.3,540.6 1741.2,545.0 C1740.2,549.4 1739.8,555.4 1740.0,560.0 C1740.2,564.6 1740.8,568.3 1742.5,572.5 C1744.2,576.7 1746.7,581.5 1750.0,585.0 C1753.3,588.5 1758.3,591.9 1762.5,593.8 C1766.7,595.6 1770.4,596.5 1775.0,596.2 C1779.6,596.0 1784.2,594.8 1790.0,592.5 C1795.8,590.2 1803.3,586.5 1810.0,582.5 C1816.7,578.5 1822.9,573.8 1830.0,568.8 C1837.1,563.8 1845.0,557.7 1852.5,552.5 C1860.0,547.3 1868.8,541.7 1875.0,537.5 C1881.2,533.3 1886.3,530.0 1890.0,527.5 C1893.7,525.0 1897.0,524.4 1897.0,522.5 C1897.0,520.6 1894.5,517.5 1890.0,516.2 C1885.5,515.0 1878.3,514.9 1870.0,515.0 C1861.7,515.1 1850.0,516.2 1840.0,517.0 C1830.0,517.8 1820.0,518.4 1810.0,519.5 C1800.0,520.6 1788.3,522.4 1780.0,523.8 C1771.7,525.1 1765.6,525.8 1760.0,527.5 C1754.4,529.2 1749.4,530.8 1746.2,533.8 Z" fill="#375b8c" stroke="#000000" stroke-width="1.0" stroke-linejoin="round"/>
<path d="M1756.2,546.2 C1753.3,549.6 1752.9,554.0 1752.5,557.5 C1752.1,561.0 1752.1,564.4 1753.8,567.5 C1755.4,570.6 1759.0,574.2 1762.5,576.2 C1766.0,578.3 1770.4,579.8 1775.0,580.0 C1779.6,580.2 1784.6,579.2 1790.0,577.5 C1795.4,575.8 1801.2,573.1 1807.5,570.0 C1813.8,566.9 1820.8,562.7 1827.5,558.8 C1834.2,554.8 1841.2,550.2 1847.5,546.2 C1853.8,542.3 1861.1,537.9 1865.0,535.0 C1868.9,532.1 1870.8,530.6 1870.8,528.8 C1870.8,526.9 1869.3,524.7 1865.0,523.8 C1860.7,522.8 1853.3,522.6 1845.0,523.0 C1836.7,523.4 1824.2,524.9 1815.0,526.2 C1805.8,527.6 1797.5,529.4 1790.0,531.2 C1782.5,533.1 1775.6,535.0 1770.0,537.5 C1764.4,540.0 1759.2,542.9 1756.2,546.2 Z" fill="#45317d" stroke="#000000" stroke-width="1.0" stroke-linejoin="round"/>
<path d="M1771.2,553.8 C1770.3,555.6 1769.7,558.1 1770.5,560.0 C1771.3,561.9 1773.4,564.0 1776.2,565.0 C1779.1,566.0 1783.1,566.9 1787.5,566.2 C1791.9,565.6 1797.1,563.5 1802.5,561.2 C1807.9,559.0 1814.4,555.4 1820.0,552.5 C1825.6,549.6 1832.5,546.0 1836.2,543.8 C1840.0,541.5 1842.1,540.6 1842.5,538.8 C1842.9,536.9 1841.7,533.5 1838.8,532.5 C1835.8,531.5 1830.6,531.9 1825.0,532.5 C1819.4,533.1 1811.2,534.6 1805.0,536.2 C1798.8,537.9 1792.3,540.4 1787.5,542.5 C1782.7,544.6 1779.0,546.9 1776.2,548.8 C1773.5,550.6 1772.2,551.9 1771.2,553.8 Z" fill="#440154" stroke="#000000" stroke-width="1.0" stroke-linejoin="round"/>
<path d="M1697.5,538.8 C1696.4,540.8 1694.9,544.4 1694.5,547.5 C1694.1,550.6 1694.1,554.6 1695.0,557.5 C1695.9,560.4 1697.9,562.9 1700.0,565.0 C1702.1,567.1 1705.0,568.4 1707.5,570.0 C1710.0,571.6 1712.9,574.5 1715.0,574.5 C1717.1,574.5 1718.8,572.4 1720.0,570.0 C1721.2,567.6 1722.3,563.8 1722.5,560.0 C1722.7,556.2 1722.3,551.2 1721.2,547.5 C1720.2,543.8 1718.5,539.8 1716.2,537.5 C1714.0,535.2 1710.0,534.2 1707.5,533.8 C1705.0,533.3 1702.9,534.2 1701.2,535.0 C1699.6,535.8 1698.6,536.7 1697.5,538.8 Z" fill="#4dc16b" stroke="#000000" stroke-width="1.0" stroke-linejoin="round"/>
<path d="M1700.5,542.5 C1699.2,544.6 1698.1,548.3 1698.0,551.2 C1697.9,554.2 1698.6,557.7 1700.0,560.0 C1701.4,562.3 1704.0,564.0 1706.2,565.0 C1708.5,566.0 1711.9,567.1 1713.8,566.2 C1715.6,565.4 1717.1,562.9 1717.5,560.0 C1717.9,557.1 1717.2,551.9 1716.2,548.8 C1715.3,545.6 1713.8,542.9 1712.0,541.2 C1710.2,539.6 1707.4,538.5 1705.5,538.8 C1703.6,539.0 1701.8,540.4 1700.5,542.5 Z" fill="#a1d938" stroke="#000000" stroke-width="1.0" stroke-linejoin="round"/>
<path d="M1703.0,545.0 C1702.4,546.3 1701.2,550.2 1701.2,552.5 C1701.2,554.8 1702.0,558.0 1703.0,558.8 C1704.0,559.5 1705.8,558.0 1707.0,557.0 C1708.2,556.0 1709.8,554.2 1710.0,552.5 C1710.2,550.8 1708.8,548.3 1708.0,547.0 C1707.2,545.7 1705.8,544.8 1705.0,544.5 C1704.2,544.2 1703.6,543.7 1703.0,545.0 Z" fill="#fde725" stroke="#000000" stroke-width="1.0" stroke-linejoin="round"/>
<path d="M1683.8,580.0 C1682.6,581.9 1681.6,585.0 1682.0,587.5 C1682.4,590.0 1684.1,593.1 1686.2,595.0 C1688.4,596.9 1691.5,598.0 1695.0,598.8 C1698.5,599.5 1704.0,599.9 1707.5,599.5 C1711.0,599.1 1714.1,597.8 1716.2,596.2 C1718.4,594.7 1720.7,591.9 1720.5,590.0 C1720.3,588.1 1716.8,586.9 1715.0,585.0 C1713.2,583.1 1711.7,580.6 1710.0,578.8 C1708.3,576.9 1707.5,574.5 1705.0,573.8 C1702.5,573.0 1697.7,574.1 1695.0,574.5 C1692.3,574.9 1690.6,575.3 1688.8,576.2 C1686.9,577.2 1684.9,578.1 1683.8,580.0 Z" fill="#287e8e" stroke="#000000" stroke-width="1.0" stroke-linejoin="round"/>
<path d="M1693.8,578.8 C1692.2,580.2 1691.6,583.0 1692.0,585.0 C1692.4,587.0 1694.3,589.3 1696.2,590.5 C1698.2,591.7 1701.2,592.1 1703.8,592.0 C1706.2,591.9 1709.9,591.2 1711.2,590.0 C1712.6,588.8 1712.6,586.9 1712.0,585.0 C1711.4,583.1 1709.3,580.2 1707.5,578.8 C1705.7,577.3 1703.5,576.2 1701.2,576.2 C1699.0,576.2 1695.3,577.3 1693.8,578.8 Z" fill="#375b8c" stroke="#000000" stroke-width="1.0" stroke-linejoin="round"/>
<path d="M1699.5,578.8 C1699.0,579.9 1698.6,582.4 1699.0,583.8 C1699.4,585.1 1701.0,587.1 1702.0,587.0 C1703.0,586.9 1704.6,584.4 1705.0,583.0 C1705.4,581.6 1705.0,579.8 1704.5,578.8 C1704.0,577.8 1702.8,577.0 1702.0,577.0 C1701.2,577.0 1700.0,577.6 1699.5,578.8 Z" fill="#45317d" stroke="#000000" stroke-width="1.0" stroke-linejoin="round"/>
<path d="M1646.2,555.0 C1647.9,551.0 1649.0,554.6 1650.0,556.2 C1651.0,557.9 1651.8,561.0 1652.5,565.0 C1653.2,569.0 1653.9,575.0 1654.0,580.0 C1654.1,585.0 1653.7,590.4 1653.0,595.0 C1652.3,599.6 1651.1,605.2 1650.0,607.5 C1648.9,609.8 1647.9,613.3 1646.2,608.8 C1644.6,604.2 1640.0,589.0 1640.0,580.0 C1640.0,571.0 1644.6,559.0 1646.2,555.0 Z" fill="#4dc16b" stroke="#000000" stroke-width="1.0" stroke-linejoin="round"/>
<path d="M1646.2,387.5 C1648.1,381.9 1649.6,389.2 1651.2,391.2 C1652.9,393.3 1655.0,395.2 1656.2,400.0 C1657.5,404.8 1658.6,413.3 1658.8,420.0 C1658.9,426.7 1658.0,434.2 1657.0,440.0 C1656.0,445.8 1653.8,451.6 1652.5,455.0 C1651.2,458.4 1650.3,459.5 1649.2,460.5 C1648.2,461.5 1647.8,467.2 1646.2,461.2 C1644.7,455.3 1640.0,437.3 1640.0,425.0 C1640.0,412.7 1644.4,393.1 1646.2,387.5 Z" fill="#287e8e" stroke="#000000" stroke-width="1.0" stroke-linejoin="round"/>
<path d="M1696.2,626.2 C1695.2,627.7 1697.3,630.7 1698.8,632.5 C1700.2,634.3 1702.5,636.2 1705.0,637.0 C1707.5,637.8 1711.2,638.0 1713.8,637.0 C1716.2,636.0 1718.6,632.9 1720.0,631.2 C1721.4,629.6 1722.8,628.1 1722.0,627.0 C1721.2,625.9 1717.8,625.0 1715.0,624.5 C1712.2,624.0 1708.1,623.5 1705.0,623.8 C1701.9,624.0 1697.3,624.8 1696.2,626.2 Z" fill="#287e8e" stroke="#000000" stroke-width="1.0" stroke-linejoin="round"/>
<path d="M1727.0,629.5 C1726.5,631.4 1726.9,633.9 1728.0,636.2 C1729.1,638.6 1730.9,641.4 1733.8,643.8 C1736.6,646.1 1740.6,648.7 1745.0,650.5 C1749.4,652.3 1755.0,653.2 1760.0,654.5 C1765.0,655.8 1771.8,659.0 1775.0,658.2 C1778.2,657.5 1778.4,653.0 1779.5,650.0 C1780.6,647.0 1782.1,642.7 1781.8,640.0 C1781.4,637.3 1780.3,635.5 1777.5,633.8 C1774.7,632.0 1769.2,630.8 1765.0,629.5 C1760.8,628.2 1756.7,627.3 1752.5,626.2 C1748.3,625.2 1743.5,623.2 1740.0,623.0 C1736.5,622.8 1733.4,623.9 1731.2,625.0 C1729.1,626.1 1727.5,627.6 1727.0,629.5 Z" fill="#287e8e" stroke="#000000" stroke-width="1.0" stroke-linejoin="round"/>
<path d="M1795.5,653.8 C1795.7,654.6 1798.0,656.8 1800.0,657.5 C1802.0,658.2 1805.7,658.3 1807.5,658.0 C1809.3,657.7 1811.2,656.2 1810.8,655.5 C1810.3,654.8 1807.0,654.2 1805.0,653.8 C1803.0,653.2 1800.3,652.5 1798.8,652.5 C1797.2,652.5 1795.3,652.9 1795.5,653.8 Z" fill="#287e8e" stroke="#000000" stroke-width="1.0" stroke-linejoin="round"/>
<path d="M1878.0,673.8 C1878.4,675.7 1881.8,677.4 1885.0,678.0 C1888.2,678.6 1893.1,678.4 1897.5,677.5 C1901.9,676.6 1907.4,674.8 1911.2,672.5 C1915.1,670.2 1919.5,666.5 1920.5,663.8 C1921.5,661.0 1919.2,658.0 1917.5,656.2 C1915.8,654.5 1912.9,653.7 1910.0,653.2 C1907.1,652.8 1903.3,652.8 1900.0,653.8 C1896.7,654.7 1892.9,656.7 1890.0,658.8 C1887.1,660.8 1884.5,663.8 1882.5,666.2 C1880.5,668.8 1877.6,671.8 1878.0,673.8 Z" fill="#287e8e" stroke="#000000" stroke-width="1.0" stroke-linejoin="round"/>
<path d="M1842.5,695.0 C1843.8,692.2 1846.2,689.6 1850.0,688.0 C1853.8,686.4 1859.2,685.9 1865.0,685.5 C1870.8,685.1 1879.2,685.1 1885.0,685.5 C1890.8,685.9 1895.2,686.5 1900.0,688.0 C1904.8,689.5 1911.5,691.4 1913.8,694.2 C1916.0,697.1 1925.6,703.2 1913.8,705.0 C1901.9,706.8 1854.4,706.7 1842.5,705.0 C1830.6,703.3 1841.2,697.8 1842.5,695.0 Z" fill="#287e8e" stroke="#000000" stroke-width="1.0" stroke-linejoin="round"/>
<path d="M1957.0,588.8 C1956.9,590.0 1958.7,592.3 1960.0,593.0 C1961.3,593.7 1963.5,593.7 1965.0,593.0 C1966.5,592.3 1968.8,590.2 1968.8,588.8 C1968.8,587.3 1966.4,585.0 1965.0,584.5 C1963.6,584.0 1961.8,585.0 1960.5,585.8 C1959.2,586.5 1957.1,587.5 1957.0,588.8 Z" fill="#287e8e" stroke="#000000" stroke-width="1.0" stroke-linejoin="round"/>
<path d="M1977.3,579.0 C1977.5,579.4 1977.0,580.2 1976.4,580.7 C1975.7,581.2 1974.3,581.7 1973.5,581.7 C1972.8,581.8 1971.8,581.4 1971.7,581.0 C1971.5,580.6 1972.0,579.8 1972.6,579.3 C1973.3,578.8 1974.7,578.3 1975.5,578.3 C1976.2,578.2 1977.2,578.6 1977.3,579.0 Z" fill="#287e8e" stroke="#000000" stroke-width="1.0" stroke-linejoin="round"/>
<path d="M1970.0,627.5 C1970.4,628.7 1974.5,629.1 1976.2,629.0 C1978.0,628.9 1980.3,628.1 1980.5,627.0 C1980.7,625.9 1978.6,623.3 1977.5,622.5 C1976.4,621.7 1975.0,621.2 1973.8,622.0 C1972.5,622.8 1969.6,626.3 1970.0,627.5 Z" fill="#287e8e" stroke="#000000" stroke-width="1.0" stroke-linejoin="round"/>
<path d="M1988.5,504.2 C1988.5,505.1 1987.6,506.4 1986.8,506.8 C1985.9,507.3 1984.1,507.3 1983.2,506.8 C1982.4,506.4 1981.5,505.1 1981.5,504.2 C1981.5,503.4 1982.4,502.1 1983.2,501.7 C1984.1,501.2 1985.9,501.2 1986.8,501.7 C1987.6,502.1 1988.5,503.4 1988.5,504.2 Z" fill="#287e8e" stroke="#000000" stroke-width="1.0" stroke-linejoin="round"/>
<path d="M2007.8,504.5 C2007.8,504.9 2007.2,505.6 2006.6,505.8 C2006.1,506.0 2004.9,506.0 2004.4,505.8 C2003.8,505.6 2003.2,504.9 2003.2,504.5 C2003.2,504.1 2003.8,503.4 2004.4,503.2 C2004.9,503.0 2006.1,503.0 2006.6,503.2 C2007.2,503.4 2007.8,504.1 2007.8,504.5 Z" fill="#287e8e" stroke="#000000" stroke-width="1.0" stroke-linejoin="round"/>
<path d="M1723.8,290.8 C1722.2,291.8 1719.4,296.4 1717.5,298.8 C1715.6,301.1 1713.4,302.3 1712.5,305.0 C1711.6,307.7 1711.4,313.5 1712.0,315.0 C1712.6,316.5 1714.3,315.0 1716.2,313.8 C1718.2,312.5 1721.8,310.0 1723.8,307.5 C1725.7,305.0 1727.5,301.2 1728.0,298.8 C1728.5,296.2 1727.7,293.8 1727.0,292.5 C1726.3,291.2 1725.3,289.7 1723.8,290.8 Z" fill="#287e8e" stroke="#000000" stroke-width="1.0" stroke-linejoin="round"/>
<path d="M1870.0,313.8 C1870.6,315.8 1874.2,319.2 1877.5,322.5 C1880.8,325.8 1885.8,332.3 1890.0,333.8 C1894.2,335.2 1898.3,332.5 1902.5,331.2 C1906.7,330.0 1912.6,327.5 1915.0,326.2 C1917.4,325.0 1918.2,324.7 1917.0,323.8 C1915.8,322.8 1911.4,320.9 1907.5,320.5 C1903.6,320.1 1897.5,322.0 1893.8,321.2 C1890.0,320.5 1887.3,318.0 1885.0,316.2 C1882.7,314.5 1881.9,311.5 1880.0,310.5 C1878.1,309.5 1875.4,310.0 1873.8,310.5 C1872.1,311.0 1869.4,311.8 1870.0,313.8 Z" fill="#287e8e" stroke="#000000" stroke-width="1.0" stroke-linejoin="round"/>
<path d="M1850.8,324.5 C1850.8,325.3 1849.9,326.5 1849.1,326.9 C1848.3,327.3 1846.7,327.3 1845.9,326.9 C1845.1,326.5 1844.2,325.3 1844.2,324.5 C1844.2,323.7 1845.1,322.5 1845.9,322.1 C1846.7,321.7 1848.3,321.7 1849.1,322.1 C1849.9,322.5 1850.8,323.7 1850.8,324.5 Z" fill="#287e8e" stroke="#000000" stroke-width="1.0" stroke-linejoin="round"/>
<path d="M1746.2,365.0 C1746.2,367.2 1747.3,370.8 1748.8,372.5 C1750.2,374.2 1752.9,375.6 1755.0,375.0 C1757.1,374.4 1760.1,371.0 1761.2,368.8 C1762.4,366.5 1762.8,363.0 1762.0,361.2 C1761.2,359.5 1758.5,358.3 1756.2,358.0 C1754.0,357.7 1750.4,358.3 1748.8,359.5 C1747.1,360.7 1746.2,362.8 1746.2,365.0 Z" fill="#287e8e" stroke="#000000" stroke-width="1.0" stroke-linejoin="round"/>
<path d="M1938.2,353.0 C1938.5,354.1 1941.5,358.6 1942.5,358.8 C1943.5,358.9 1944.7,354.9 1944.5,353.8 C1944.3,352.6 1942.3,352.1 1941.2,352.0 C1940.2,351.9 1938.0,351.9 1938.2,353.0 Z" fill="#287e8e" stroke="#000000" stroke-width="1.0" stroke-linejoin="round"/>
<path d="M1993.8,342.5 C1991.6,342.5 1991.0,346.2 1992.0,350.0 C1993.0,353.8 1996.2,360.0 2000.0,365.0 C2003.8,370.0 2010.0,375.0 2015.0,380.0 C2020.0,385.0 2025.0,390.0 2030.0,395.0 C2035.0,400.0 2040.4,405.2 2045.0,410.0 C2049.6,414.8 2054.4,421.9 2057.5,423.8 C2060.6,425.6 2061.0,421.9 2063.8,421.2 C2066.5,420.6 2073.5,422.7 2073.8,420.0 C2074.0,417.3 2068.3,410.0 2065.0,405.0 C2061.7,400.0 2058.1,394.8 2053.8,390.0 C2049.4,385.2 2043.5,380.2 2038.8,376.2 C2034.0,372.3 2029.0,369.2 2025.0,366.2 C2021.0,363.3 2018.3,361.5 2015.0,358.8 C2011.7,356.0 2008.5,352.7 2005.0,350.0 C2001.5,347.3 1995.9,342.5 1993.8,342.5 Z" fill="#287e8e" stroke="#000000" stroke-width="1.0" stroke-linejoin="round"/>
<path d="M2070.5,429.5 C2070.5,430.4 2069.9,431.7 2069.2,432.1 C2068.6,432.5 2067.4,432.5 2066.8,432.1 C2066.1,431.7 2065.5,430.4 2065.5,429.5 C2065.5,428.6 2066.1,427.3 2066.8,426.9 C2067.4,426.5 2068.6,426.5 2069.2,426.9 C2069.9,427.3 2070.5,428.6 2070.5,429.5 Z" fill="#287e8e" stroke="#000000" stroke-width="1.0" stroke-linejoin="round"/>
<path d="M1676.2,377.5 C1675.4,379.6 1677.1,381.2 1678.8,382.5 C1680.4,383.8 1684.4,384.2 1686.2,385.5 C1688.1,386.8 1689.2,387.6 1690.0,390.0 C1690.8,392.4 1691.9,397.5 1691.2,400.0 C1690.6,402.5 1688.1,403.3 1686.2,405.0 C1684.4,406.7 1681.1,408.1 1680.0,410.0 C1678.9,411.9 1679.0,414.6 1679.5,416.2 C1680.0,417.9 1681.2,420.0 1683.0,420.0 C1684.8,420.0 1688.2,417.9 1690.0,416.2 C1691.8,414.6 1693.0,412.7 1693.8,410.0 C1694.5,407.3 1694.1,403.3 1694.5,400.0 C1694.9,396.7 1695.3,392.9 1696.2,390.0 C1697.2,387.1 1699.2,385.0 1700.0,382.5 C1700.8,380.0 1701.7,377.1 1701.2,375.0 C1700.8,372.9 1699.2,371.2 1697.5,370.0 C1695.8,368.8 1693.5,368.0 1691.2,368.0 C1689.0,368.0 1686.2,368.4 1683.8,370.0 C1681.2,371.6 1677.1,375.4 1676.2,377.5 Z" fill="#287e8e" stroke="#000000" stroke-width="1.0" stroke-linejoin="round"/>
<path d="M1678.0,378.8 C1678.1,379.9 1679.9,382.3 1681.2,383.0 C1682.6,383.7 1685.0,383.6 1686.2,383.0 C1687.5,382.4 1689.0,380.6 1688.8,379.5 C1688.5,378.4 1686.4,376.8 1685.0,376.2 C1683.6,375.7 1681.7,375.8 1680.5,376.2 C1679.3,376.7 1677.9,377.6 1678.0,378.8 Z" fill="#375b8c" stroke="#000000" stroke-width="1.0" stroke-linejoin="round"/>
<path d="M1656.2,381.2 C1656.0,382.8 1657.1,385.2 1658.8,386.2 C1660.4,387.3 1664.0,387.9 1666.2,387.5 C1668.5,387.1 1671.5,385.3 1672.5,383.8 C1673.5,382.2 1673.3,379.3 1672.5,378.0 C1671.7,376.7 1669.6,375.9 1667.5,375.8 C1665.4,375.6 1661.9,376.1 1660.0,377.0 C1658.1,377.9 1656.5,379.7 1656.2,381.2 Z" fill="#4dc16b" stroke="#000000" stroke-width="1.0" stroke-linejoin="round"/>
<path d="M1675.0,390.8 C1674.9,392.0 1676.2,394.9 1677.5,396.2 C1678.8,397.6 1680.8,399.4 1682.5,398.8 C1684.2,398.1 1687.3,394.3 1687.5,392.5 C1687.7,390.7 1685.3,388.6 1683.8,388.0 C1682.2,387.4 1679.5,388.3 1678.0,388.8 C1676.5,389.2 1675.1,389.5 1675.0,390.8 Z" fill="#4dc16b" stroke="#000000" stroke-width="1.0" stroke-linejoin="round"/>
<path d="M1684.2,392.2 C1684.2,392.8 1683.6,393.7 1682.9,394.0 C1682.2,394.3 1680.8,394.3 1680.1,394.0 C1679.4,393.7 1678.8,392.8 1678.8,392.2 C1678.8,391.7 1679.4,390.8 1680.1,390.5 C1680.8,390.2 1682.2,390.2 1682.9,390.5 C1683.6,390.8 1684.2,391.7 1684.2,392.2 Z" fill="#a1d938" stroke="#000000" stroke-width="1.0" stroke-linejoin="round"/>
<path d="M1682.8,392.0 C1682.8,392.3 1682.4,392.7 1682.1,392.9 C1681.8,393.0 1681.2,393.0 1680.9,392.9 C1680.6,392.7 1680.2,392.3 1680.2,392.0 C1680.2,391.7 1680.6,391.3 1680.9,391.1 C1681.2,391.0 1681.8,391.0 1682.1,391.1 C1682.4,391.3 1682.8,391.7 1682.8,392.0 Z" fill="#fde725" stroke="#000000" stroke-width="1.0" stroke-linejoin="round"/>
<path d="M1915.0,395.8 C1910.4,396.1 1904.0,398.0 1900.0,400.0 C1896.0,402.0 1892.9,404.6 1891.2,407.5 C1889.6,410.4 1889.6,413.8 1890.0,417.5 C1890.4,421.2 1891.7,425.8 1893.8,430.0 C1895.8,434.2 1899.0,438.3 1902.5,442.5 C1906.0,446.7 1910.8,451.2 1915.0,455.0 C1919.2,458.8 1922.9,462.6 1927.5,465.0 C1932.1,467.4 1938.3,469.3 1942.5,469.5 C1946.7,469.7 1949.4,468.2 1952.5,466.2 C1955.6,464.2 1959.2,460.2 1961.2,457.5 C1963.3,454.8 1963.1,452.1 1965.0,450.0 C1966.9,447.9 1971.0,447.1 1972.5,445.0 C1974.0,442.9 1974.2,440.4 1973.8,437.5 C1973.3,434.6 1972.3,430.4 1970.0,427.5 C1967.7,424.6 1963.3,422.5 1960.0,420.0 C1956.7,417.5 1953.3,415.0 1950.0,412.5 C1946.7,410.0 1943.8,407.4 1940.0,405.0 C1936.2,402.6 1931.7,399.5 1927.5,398.0 C1923.3,396.5 1919.6,395.4 1915.0,395.8 Z" fill="#287e8e" stroke="#000000" stroke-width="1.0" stroke-linejoin="round"/>
<path d="M1955.5,456.8 C1955.5,457.6 1954.8,458.9 1954.0,459.3 C1953.2,459.8 1951.8,459.8 1951.0,459.3 C1950.2,458.9 1949.5,457.6 1949.5,456.8 C1949.5,455.9 1950.2,454.6 1951.0,454.2 C1951.8,453.7 1953.2,453.7 1954.0,454.2 C1954.8,454.6 1955.5,455.9 1955.5,456.8 Z" fill="#375b8c" stroke="#000000" stroke-width="1.0" stroke-linejoin="round"/>
<path d="M1738.0,456.2 C1738.4,457.8 1740.1,460.1 1742.5,460.5 C1744.9,460.9 1748.8,460.1 1752.5,458.8 C1756.2,457.4 1760.4,454.6 1765.0,452.5 C1769.6,450.4 1775.8,448.5 1780.0,446.2 C1784.2,444.0 1787.7,441.5 1790.0,438.8 C1792.3,436.0 1794.2,431.7 1793.8,430.0 C1793.3,428.3 1791.0,428.5 1787.5,428.8 C1784.0,429.0 1777.1,430.2 1772.5,431.2 C1767.9,432.3 1764.2,432.9 1760.0,435.0 C1755.8,437.1 1750.8,441.0 1747.5,443.8 C1744.2,446.5 1741.6,449.2 1740.0,451.2 C1738.4,453.3 1737.6,454.7 1738.0,456.2 Z" fill="#287e8e" stroke="#000000" stroke-width="1.0" stroke-linejoin="round"/>
</g></g>
<path d="M1802.00,329.83 L1804.83,332.66 L1807.66,329.83 L1804.83,327.00 L1807.66,324.17 L1804.83,321.34 L1802.00,324.17 L1799.17,321.34 L1796.34,324.17 L1799.17,327.00 L1796.34,329.83 L1799.17,332.66ZM1835.00,340.33 L1837.83,343.16 L1840.66,340.33 L1837.83,337.50 L1840.66,334.67 L1837.83,331.84 L1835.00,334.67 L1832.17,331.84 L1829.34,334.67 L1832.17,337.50 L1829.34,340.33 L1832.17,343.16ZM1809.50,356.33 L1812.33,359.16 L1815.16,356.33 L1812.33,353.50 L1815.16,350.67 L1812.33,347.84 L1809.50,350.67 L1806.67,347.84 L1803.84,350.67 L1806.67,353.50 L1803.84,356.33 L1806.67,359.16ZM1847.50,317.08 L1850.33,319.91 L1853.16,317.08 L1850.33,314.25 L1853.16,311.42 L1850.33,308.59 L1847.50,311.42 L1844.67,308.59 L1841.84,311.42 L1844.67,314.25 L1841.84,317.08 L1844.67,319.91ZM1855.00,313.33 L1857.83,316.16 L1860.66,313.33 L1857.83,310.50 L1860.66,307.67 L1857.83,304.84 L1855.00,307.67 L1852.17,304.84 L1849.34,307.67 L1852.17,310.50 L1849.34,313.33 L1852.17,316.16ZM1861.25,320.33 L1864.08,323.16 L1866.91,320.33 L1864.08,317.50 L1866.91,314.67 L1864.08,311.84 L1861.25,314.67 L1858.42,311.84 L1855.59,314.67 L1858.42,317.50 L1855.59,320.33 L1858.42,323.16ZM1857.50,305.33 L1860.33,308.16 L1863.16,305.33 L1860.33,302.50 L1863.16,299.67 L1860.33,296.84 L1857.50,299.67 L1854.67,296.84 L1851.84,299.67 L1854.67,302.50 L1851.84,305.33 L1854.67,308.16ZM1865.00,307.33 L1867.83,310.16 L1870.66,307.33 L1867.83,304.50 L1870.66,301.67 L1867.83,298.84 L1865.00,301.67 L1862.17,298.84 L1859.34,301.67 L1862.17,304.50 L1859.34,307.33 L1862.17,310.16ZM1862.50,311.58 L1865.33,314.41 L1868.16,311.58 L1865.33,308.75 L1868.16,305.92 L1865.33,303.09 L1862.50,305.92 L1859.67,303.09 L1856.84,305.92 L1859.67,308.75 L1856.84,311.58 L1859.67,314.41ZM1905.00,358.58 L1907.83,361.41 L1910.66,358.58 L1907.83,355.75 L1910.66,352.92 L1907.83,350.09 L1905.00,352.92 L1902.17,350.09 L1899.34,352.92 L1902.17,355.75 L1899.34,358.58 L1902.17,361.41ZM1701.75,387.08 L1704.58,389.91 L1707.41,387.08 L1704.58,384.25 L1707.41,381.42 L1704.58,378.59 L1701.75,381.42 L1698.92,378.59 L1696.09,381.42 L1698.92,384.25 L1696.09,387.08 L1698.92,389.91ZM1707.50,407.08 L1710.33,409.91 L1713.16,407.08 L1710.33,404.25 L1713.16,401.42 L1710.33,398.59 L1707.50,401.42 L1704.67,398.59 L1701.84,401.42 L1704.67,404.25 L1701.84,407.08 L1704.67,409.91ZM1715.75,406.58 L1718.58,409.41 L1721.41,406.58 L1718.58,403.75 L1721.41,400.92 L1718.58,398.09 L1715.75,400.92 L1712.92,398.09 L1710.09,400.92 L1712.92,403.75 L1710.09,406.58 L1712.92,409.41ZM1861.75,404.58 L1864.58,407.41 L1867.41,404.58 L1864.58,401.75 L1867.41,398.92 L1864.58,396.09 L1861.75,398.92 L1858.92,396.09 L1856.09,398.92 L1858.92,401.75 L1856.09,404.58 L1858.92,407.41ZM2008.00,393.58 L2010.83,396.41 L2013.66,393.58 L2010.83,390.75 L2013.66,387.92 L2010.83,385.09 L2008.00,387.92 L2005.17,385.09 L2002.34,387.92 L2005.17,390.75 L2002.34,393.58 L2005.17,396.41ZM1963.75,415.33 L1966.58,418.16 L1969.41,415.33 L1966.58,412.50 L1969.41,409.67 L1966.58,406.84 L1963.75,409.67 L1960.92,406.84 L1958.09,409.67 L1960.92,412.50 L1958.09,415.33 L1960.92,418.16ZM1966.25,420.33 L1969.08,423.16 L1971.91,420.33 L1969.08,417.50 L1971.91,414.67 L1969.08,411.84 L1966.25,414.67 L1963.42,411.84 L1960.59,414.67 L1963.42,417.50 L1960.59,420.33 L1963.42,423.16ZM1964.25,426.08 L1967.08,428.91 L1969.91,426.08 L1967.08,423.25 L1969.91,420.42 L1967.08,417.59 L1964.25,420.42 L1961.42,417.59 L1958.59,420.42 L1961.42,423.25 L1958.59,426.08 L1961.42,428.91ZM1973.75,447.33 L1976.58,450.16 L1979.41,447.33 L1976.58,444.50 L1979.41,441.67 L1976.58,438.84 L1973.75,441.67 L1970.92,438.84 L1968.09,441.67 L1970.92,444.50 L1968.09,447.33 L1970.92,450.16ZM1667.00,435.83 L1669.83,438.66 L1672.66,435.83 L1669.83,433.00 L1672.66,430.17 L1669.83,427.34 L1667.00,430.17 L1664.17,427.34 L1661.34,430.17 L1664.17,433.00 L1661.34,435.83 L1664.17,438.66ZM1683.00,444.33 L1685.83,447.16 L1688.66,444.33 L1685.83,441.50 L1688.66,438.67 L1685.83,435.84 L1683.00,438.67 L1680.17,435.84 L1677.34,438.67 L1680.17,441.50 L1677.34,444.33 L1680.17,447.16ZM1700.50,456.08 L1703.33,458.91 L1706.16,456.08 L1703.33,453.25 L1706.16,450.42 L1703.33,447.59 L1700.50,450.42 L1697.67,447.59 L1694.84,450.42 L1697.67,453.25 L1694.84,456.08 L1697.67,458.91ZM1694.25,498.83 L1697.08,501.66 L1699.91,498.83 L1697.08,496.00 L1699.91,493.17 L1697.08,490.34 L1694.25,493.17 L1691.42,490.34 L1688.59,493.17 L1691.42,496.00 L1688.59,498.83 L1691.42,501.66ZM1661.00,505.58 L1663.83,508.41 L1666.66,505.58 L1663.83,502.75 L1666.66,499.92 L1663.83,497.09 L1661.00,499.92 L1658.17,497.09 L1655.34,499.92 L1658.17,502.75 L1655.34,505.58 L1658.17,508.41ZM1649.25,532.83 L1652.08,535.66 L1654.91,532.83 L1652.08,530.00 L1654.91,527.17 L1652.08,524.34 L1649.25,527.17 L1646.42,524.34 L1643.59,527.17 L1646.42,530.00 L1643.59,532.83 L1646.42,535.66ZM1677.50,551.58 L1680.33,554.41 L1683.16,551.58 L1680.33,548.75 L1683.16,545.92 L1680.33,543.09 L1677.50,545.92 L1674.67,543.09 L1671.84,545.92 L1674.67,548.75 L1671.84,551.58 L1674.67,554.41ZM2014.50,542.08 L2017.33,544.91 L2020.16,542.08 L2017.33,539.25 L2020.16,536.42 L2017.33,533.59 L2014.50,536.42 L2011.67,533.59 L2008.84,536.42 L2011.67,539.25 L2008.84,542.08 L2011.67,544.91ZM1670.50,574.08 L1673.33,576.91 L1676.16,574.08 L1673.33,571.25 L1676.16,568.42 L1673.33,565.59 L1670.50,568.42 L1667.67,565.59 L1664.84,568.42 L1667.67,571.25 L1664.84,574.08 L1667.67,576.91ZM1681.25,572.33 L1684.08,575.16 L1686.91,572.33 L1684.08,569.50 L1686.91,566.67 L1684.08,563.84 L1681.25,566.67 L1678.42,563.84 L1675.59,566.67 L1678.42,569.50 L1675.59,572.33 L1678.42,575.16ZM1691.25,572.33 L1694.08,575.16 L1696.91,572.33 L1694.08,569.50 L1696.91,566.67 L1694.08,563.84 L1691.25,566.67 L1688.42,563.84 L1685.59,566.67 L1688.42,569.50 L1685.59,572.33 L1688.42,575.16ZM1699.50,569.83 L1702.33,572.66 L1705.16,569.83 L1702.33,567.00 L1705.16,564.17 L1702.33,561.34 L1699.50,564.17 L1696.67,561.34 L1693.84,564.17 L1696.67,567.00 L1693.84,569.83 L1696.67,572.66ZM1983.00,570.33 L1985.83,573.16 L1988.66,570.33 L1985.83,567.50 L1988.66,564.67 L1985.83,561.84 L1983.00,564.67 L1980.17,561.84 L1977.34,564.67 L1980.17,567.50 L1977.34,570.33 L1980.17,573.16ZM1986.25,581.58 L1989.08,584.41 L1991.91,581.58 L1989.08,578.75 L1991.91,575.92 L1989.08,573.09 L1986.25,575.92 L1983.42,573.09 L1980.59,575.92 L1983.42,578.75 L1980.59,581.58 L1983.42,584.41ZM2020.50,577.83 L2023.33,580.66 L2026.16,577.83 L2023.33,575.00 L2026.16,572.17 L2023.33,569.34 L2020.50,572.17 L2017.67,569.34 L2014.84,572.17 L2017.67,575.00 L2014.84,577.83 L2017.67,580.66ZM2032.00,568.58 L2034.83,571.41 L2037.66,568.58 L2034.83,565.75 L2037.66,562.92 L2034.83,560.09 L2032.00,562.92 L2029.17,560.09 L2026.34,562.92 L2029.17,565.75 L2026.34,568.58 L2029.17,571.41ZM1721.75,612.08 L1724.58,614.91 L1727.41,612.08 L1724.58,609.25 L1727.41,606.42 L1724.58,603.59 L1721.75,606.42 L1718.92,603.59 L1716.09,606.42 L1718.92,609.25 L1716.09,612.08 L1718.92,614.91ZM1737.50,617.83 L1740.33,620.66 L1743.16,617.83 L1740.33,615.00 L1743.16,612.17 L1740.33,609.34 L1737.50,612.17 L1734.67,609.34 L1731.84,612.17 L1734.67,615.00 L1731.84,617.83 L1734.67,620.66ZM1742.50,621.58 L1745.33,624.41 L1748.16,621.58 L1745.33,618.75 L1748.16,615.92 L1745.33,613.09 L1742.50,615.92 L1739.67,613.09 L1736.84,615.92 L1739.67,618.75 L1736.84,621.58 L1739.67,624.41ZM1749.25,656.08 L1752.08,658.91 L1754.91,656.08 L1752.08,653.25 L1754.91,650.42 L1752.08,647.59 L1749.25,650.42 L1746.42,647.59 L1743.59,650.42 L1746.42,653.25 L1743.59,656.08 L1746.42,658.91ZM1758.75,667.83 L1761.58,670.66 L1764.41,667.83 L1761.58,665.00 L1764.41,662.17 L1761.58,659.34 L1758.75,662.17 L1755.92,659.34 L1753.09,662.17 L1755.92,665.00 L1753.09,667.83 L1755.92,670.66ZM1952.50,634.83 L1955.33,637.66 L1958.16,634.83 L1955.33,632.00 L1958.16,629.17 L1955.33,626.34 L1952.50,629.17 L1949.67,626.34 L1946.84,629.17 L1949.67,632.00 L1946.84,634.83 L1949.67,637.66ZM1952.50,649.83 L1955.33,652.66 L1958.16,649.83 L1955.33,647.00 L1958.16,644.17 L1955.33,641.34 L1952.50,644.17 L1949.67,641.34 L1946.84,644.17 L1949.67,647.00 L1946.84,649.83 L1949.67,652.66ZM1934.50,659.83 L1937.33,662.66 L1940.16,659.83 L1937.33,657.00 L1940.16,654.17 L1937.33,651.34 L1934.50,654.17 L1931.67,651.34 L1928.84,654.17 L1931.67,657.00 L1928.84,659.83 L1931.67,662.66ZM1939.50,668.58 L1942.33,671.41 L1945.16,668.58 L1942.33,665.75 L1945.16,662.92 L1942.33,660.09 L1939.50,662.92 L1936.67,660.09 L1933.84,662.92 L1936.67,665.75 L1933.84,668.58 L1936.67,671.41ZM2024.50,614.08 L2027.33,616.91 L2030.16,614.08 L2027.33,611.25 L2030.16,608.42 L2027.33,605.59 L2024.50,608.42 L2021.67,605.59 L2018.84,608.42 L2021.67,611.25 L2018.84,614.08 L2021.67,616.91ZM2028.00,619.83 L2030.83,622.66 L2033.66,619.83 L2030.83,617.00 L2033.66,614.17 L2030.83,611.34 L2028.00,614.17 L2025.17,611.34 L2022.34,614.17 L2025.17,617.00 L2022.34,619.83 L2025.17,622.66ZM2030.00,627.83 L2032.83,630.66 L2035.66,627.83 L2032.83,625.00 L2035.66,622.17 L2032.83,619.34 L2030.00,622.17 L2027.17,619.34 L2024.34,622.17 L2027.17,625.00 L2024.34,627.83 L2027.17,630.66ZM1816.25,696.58 L1819.08,699.41 L1821.91,696.58 L1819.08,693.75 L1821.91,690.92 L1819.08,688.09 L1816.25,690.92 L1813.42,688.09 L1810.59,690.92 L1813.42,693.75 L1810.59,696.58 L1813.42,699.41ZM1823.75,695.33 L1826.58,698.16 L1829.41,695.33 L1826.58,692.50 L1829.41,689.67 L1826.58,686.84 L1823.75,689.67 L1820.92,686.84 L1818.09,689.67 L1820.92,692.50 L1818.09,695.33 L1820.92,698.16ZM1831.25,696.58 L1834.08,699.41 L1836.91,696.58 L1834.08,693.75 L1836.91,690.92 L1834.08,688.09 L1831.25,690.92 L1828.42,688.09 L1825.59,690.92 L1828.42,693.75 L1825.59,696.58 L1828.42,699.41ZM1818.75,702.83 L1821.58,705.66 L1824.41,702.83 L1821.58,700.00 L1824.41,697.17 L1821.58,694.34 L1818.75,697.17 L1815.92,694.34 L1813.09,697.17 L1815.92,700.00 L1813.09,702.83 L1815.92,705.66ZM1831.25,701.58 L1834.08,704.41 L1836.91,701.58 L1834.08,698.75 L1836.91,695.92 L1834.08,693.09 L1831.25,695.92 L1828.42,693.09 L1825.59,695.92 L1828.42,698.75 L1825.59,701.58 L1828.42,704.41ZM1825.00,705.33 L1827.83,708.16 L1830.66,705.33 L1827.83,702.50 L1830.66,699.67 L1827.83,696.84 L1825.00,699.67 L1822.17,696.84 L1819.34,699.67 L1822.17,702.50 L1819.34,705.33 L1822.17,708.16Z" fill="#ff0000" stroke="#444444" stroke-width="2" stroke-linejoin="miter"/>
</g>
<g id="sub4">
<clipPath id="clip4"><path d="M458.8,932.5 L611.4,932.5 L633.0,951.7 L643.7,951.7 L654.7,961.5 L665.8,971.2 L676.8,981.0 L687.8,990.8 L699.0,990.8 L709.9,1000.1 L720.8,1009.5 L731.6,1018.8 L742.5,1028.1 L753.7,1028.1 L765.4,1038.0 L765.4,1058.0 L754.4,1067.2 L754.4,1086.6 L743.7,1096.0 L743.7,1106.5 L732.5,1116.4 L732.5,1125.1 L721.8,1135.1 L721.8,1145.0 L710.9,1154.1 L699.9,1163.3 L689.0,1172.4 L689.0,1182.3 L678.1,1191.9 L667.1,1201.4 L656.2,1211.0 L656.2,1220.9 L645.1,1230.4 L634.0,1230.4 L622.9,1240.0 L611.8,1240.0 L600.7,1249.5 L589.8,1259.1 L578.9,1259.1 L568.0,1268.7 L557.1,1268.7 L546.2,1278.3 L535.3,1278.3 L524.4,1287.9 L513.5,1287.9 L502.5,1297.4 L491.6,1297.4 L480.7,1307.0 L469.8,1307.0 L458.9,1316.6 L448.0,1316.6 L437.1,1326.2 L426.2,1326.2 L415.3,1335.8 L404.4,1335.8 L393.5,1345.4 L382.6,1345.4 L371.7,1355.0 L360.8,1355.0 L349.9,1364.6 L339.0,1364.6 L328.1,1374.2 L317.2,1374.2 L306.2,1383.8 L282.5,1383.8 L282.5,1355.0 L271.8,1345.0 L271.8,1326.2 L260.8,1316.2 L260.8,1287.5 L250.0,1277.5 L250.0,1220.0 L250.0,1213.3 L261.0,1203.7 L261.0,1194.0 L271.6,1184.5 L271.6,1172.1 L282.5,1162.5 L282.5,1143.4 L293.6,1133.8 L293.6,1114.7 L304.5,1105.1 L304.5,1086.9 L315.6,1077.4 L315.6,1057.3 L326.5,1047.9 L337.5,1038.2 L348.4,1028.6 L359.4,1019.0 L370.4,1009.4 L370.4,999.8 L381.4,990.1 L392.3,980.5 L403.3,970.9 L414.3,961.2 L425.3,951.6 L436.2,942.0 L447.5,942.0 Z"/></clipPath>
<g opacity="0.7"><g clip-path="url(#clip4)">
<path d="M458.8,932.5 L611.4,932.5 L633.0,951.7 L643.7,951.7 L654.7,961.5 L665.8,971.2 L676.8,981.0 L687.8,990.8 L699.0,990.8 L709.9,1000.1 L720.8,1009.5 L731.6,1018.8 L742.5,1028.1 L753.7,1028.1 L765.4,1038.0 L765.4,1058.0 L754.4,1067.2 L754.4,1086.6 L743.7,1096.0 L743.7,1106.5 L732.5,1116.4 L732.5,1125.1 L721.8,1135.1 L721.8,1145.0 L710.9,1154.1 L699.9,1163.3 L689.0,1172.4 L689.0,1182.3 L678.1,1191.9 L667.1,1201.4 L656.2,1211.0 L656.2,1220.9 L645.1,1230.4 L634.0,1230.4 L622.9,1240.0 L611.8,1240.0 L600.7,1249.5 L589.8,1259.1 L578.9,1259.1 L568.0,1268.7 L557.1,1268.7 L546.2,1278.3 L535.3,1278.3 L524.4,1287.9 L513.5,1287.9 L502.5,1297.4 L491.6,1297.4 L480.7,1307.0 L469.8,1307.0 L458.9,1316.6 L448.0,1316.6 L437.1,1326.2 L426.2,1326.2 L415.3,1335.8 L404.4,1335.8 L393.5,1345.4 L382.6,1345.4 L371.7,1355.0 L360.8,1355.0 L349.9,1364.6 L339.0,1364.6 L328.1,1374.2 L317.2,1374.2 L306.2,1383.8 L282.5,1383.8 L282.5,1355.0 L271.8,1345.0 L271.8,1326.2 L260.8,1316.2 L260.8,1287.5 L250.0,1277.5 L250.0,1220.0 L250.0,1213.3 L261.0,1203.7 L261.0,1194.0 L271.6,1184.5 L271.6,1172.1 L282.5,1162.5 L282.5,1143.4 L293.6,1133.8 L293.6,1114.7 L304.5,1105.1 L304.5,1086.9 L315.6,1077.4 L315.6,1057.3 L326.5,1047.9 L337.5,1038.2 L348.4,1028.6 L359.4,1019.0 L370.4,1009.4 L370.4,999.8 L381.4,990.1 L392.3,980.5 L403.3,970.9 L414.3,961.2 L425.3,951.6 L436.2,942.0 L447.5,942.0 Z" fill="#31688e"/>
<path d="M299.2,1111.2 C305.2,1114.4 297.9,1124.4 298.0,1130.0 C298.1,1135.6 299.0,1140.0 300.0,1145.0 C301.0,1150.0 301.7,1155.6 303.8,1160.0 C305.8,1164.4 310.1,1167.9 312.5,1171.2 C314.9,1174.6 317.2,1177.5 318.0,1180.0 C318.8,1182.5 318.3,1183.5 317.0,1186.2 C315.7,1189.0 313.2,1192.7 310.0,1196.2 C306.8,1199.8 301.7,1204.0 297.5,1207.5 C293.3,1211.0 289.2,1214.4 285.0,1217.5 C280.8,1220.6 276.7,1223.8 272.5,1226.2 C268.3,1228.8 263.8,1231.1 260.0,1232.5 C256.2,1233.9 254.6,1233.7 250.0,1234.5 C245.4,1235.3 236.7,1248.7 232.5,1237.5 C228.3,1226.3 220.0,1188.5 225.0,1167.5 C230.0,1146.5 250.1,1120.6 262.5,1111.2 C274.9,1101.9 293.3,1108.1 299.2,1111.2 Z" fill="#39558b" stroke="#000000" stroke-width="1.0" stroke-linejoin="round"/>
<path d="M285.0,1176.2 C282.5,1177.3 279.6,1180.6 277.5,1183.8 C275.4,1186.9 273.7,1191.0 272.5,1195.0 C271.3,1199.0 270.3,1204.8 270.5,1207.5 C270.7,1210.2 271.8,1211.7 273.8,1211.2 C275.8,1210.8 279.6,1207.7 282.5,1205.0 C285.4,1202.3 289.1,1198.5 291.2,1195.0 C293.4,1191.5 295.3,1186.7 295.5,1183.8 C295.7,1180.8 294.2,1178.8 292.5,1177.5 C290.8,1176.2 287.5,1175.2 285.0,1176.2 Z" fill="#404286" stroke="#000000" stroke-width="1.0" stroke-linejoin="round"/>
<path d="M350.0,1040.0 C348.3,1042.9 349.2,1047.3 347.5,1050.0 C345.8,1052.7 341.5,1054.6 340.0,1056.2 C338.5,1057.9 337.5,1058.3 338.8,1060.0 C340.0,1061.7 344.4,1065.0 347.5,1066.2 C350.6,1067.5 354.2,1067.7 357.5,1067.5 C360.8,1067.3 364.8,1064.6 367.5,1065.0 C370.2,1065.4 373.3,1067.5 373.8,1070.0 C374.2,1072.5 370.4,1077.3 370.0,1080.0 C369.6,1082.7 370.0,1085.1 371.2,1086.2 C372.5,1087.4 375.6,1087.8 377.5,1087.0 C379.4,1086.2 381.2,1083.7 382.5,1081.2 C383.8,1078.8 384.8,1075.6 385.0,1072.5 C385.2,1069.4 384.6,1065.4 383.8,1062.5 C382.9,1059.6 379.8,1057.5 380.0,1055.0 C380.2,1052.5 382.7,1049.8 385.0,1047.5 C387.3,1045.2 391.9,1043.1 393.8,1041.2 C395.6,1039.4 396.9,1038.1 396.2,1036.2 C395.6,1034.4 392.7,1031.9 390.0,1030.0 C387.3,1028.1 383.8,1025.4 380.0,1025.0 C376.2,1024.6 371.2,1026.2 367.5,1027.5 C363.8,1028.8 360.4,1030.4 357.5,1032.5 C354.6,1034.6 351.7,1037.1 350.0,1040.0 Z" fill="#39558b" stroke="#000000" stroke-width="1.0" stroke-linejoin="round"/>
<path d="M328.8,1075.0 C326.5,1076.2 322.7,1078.8 320.0,1082.5 C317.3,1086.2 314.6,1092.1 312.5,1097.5 C310.4,1102.9 309.0,1109.2 307.5,1115.0 C306.0,1120.8 304.2,1127.5 303.8,1132.5 C303.3,1137.5 304.0,1141.5 305.0,1145.0 C306.0,1148.5 307.5,1151.9 310.0,1153.8 C312.5,1155.6 316.2,1156.5 320.0,1156.2 C323.8,1156.0 328.8,1154.4 332.5,1152.5 C336.2,1150.6 339.2,1147.9 342.5,1145.0 C345.8,1142.1 349.2,1138.1 352.5,1135.0 C355.8,1131.9 360.4,1129.2 362.5,1126.2 C364.6,1123.3 365.2,1120.8 365.0,1117.5 C364.8,1114.2 363.1,1110.0 361.2,1106.2 C359.4,1102.5 356.0,1098.5 353.8,1095.0 C351.5,1091.5 349.8,1087.7 347.5,1085.0 C345.2,1082.3 342.3,1080.3 340.0,1078.8 C337.7,1077.2 335.6,1076.1 333.8,1075.5 C331.9,1074.9 331.0,1073.8 328.8,1075.0 Z" fill="#2a788e" stroke="#000000" stroke-width="1.0" stroke-linejoin="round"/>
<path d="M328.9,1080.4 C326.9,1081.4 323.5,1083.8 321.1,1087.1 C318.6,1090.5 316.2,1095.8 314.3,1100.6 C312.4,1105.5 311.1,1111.1 309.8,1116.4 C308.5,1121.6 306.8,1127.6 306.4,1132.1 C306.1,1136.6 306.6,1140.2 307.6,1143.4 C308.5,1146.6 309.8,1149.6 312.1,1151.2 C314.3,1152.9 317.7,1153.7 321.1,1153.5 C324.4,1153.3 328.9,1151.8 332.3,1150.1 C335.7,1148.4 338.3,1146.0 341.3,1143.4 C344.3,1140.8 347.3,1137.2 350.3,1134.4 C353.3,1131.6 357.4,1129.1 359.3,1126.5 C361.2,1123.9 361.7,1121.6 361.6,1118.6 C361.4,1115.6 359.9,1111.9 358.2,1108.5 C356.5,1105.1 353.5,1101.6 351.4,1098.4 C349.4,1095.2 347.9,1091.8 345.8,1089.4 C343.7,1086.9 341.1,1085.2 339.1,1083.8 C337.0,1082.3 335.1,1081.4 333.4,1080.8 C331.7,1080.3 331.0,1079.3 328.9,1080.4 Z" fill="#25888d" stroke="#000000" stroke-width="1.0" stroke-linejoin="round"/>
<path d="M329.3,1085.1 C327.4,1086.0 324.4,1088.1 322.2,1091.1 C320.0,1094.2 317.8,1098.9 316.1,1103.3 C314.4,1107.7 313.3,1112.7 312.1,1117.5 C310.9,1122.2 309.4,1127.6 309.0,1131.6 C308.7,1135.7 309.2,1138.9 310.0,1141.8 C310.9,1144.6 312.1,1147.3 314.1,1148.8 C316.1,1150.4 319.2,1151.0 322.2,1150.9 C325.2,1150.7 329.3,1149.4 332.3,1147.8 C335.4,1146.3 337.7,1144.1 340.4,1141.8 C343.1,1139.4 345.8,1136.2 348.5,1133.7 C351.2,1131.1 354.9,1128.9 356.6,1126.6 C358.3,1124.2 358.8,1122.2 358.6,1119.5 C358.5,1116.8 357.1,1113.4 355.6,1110.4 C354.1,1107.3 351.4,1104.1 349.5,1101.3 C347.7,1098.4 346.3,1095.4 344.5,1093.2 C342.6,1091.0 340.3,1089.4 338.4,1088.1 C336.5,1086.8 334.9,1086.0 333.3,1085.5 C331.8,1085.0 331.1,1084.1 329.3,1085.1 Z" fill="#20988a" stroke="#000000" stroke-width="1.0" stroke-linejoin="round"/>
<path d="M329.6,1089.1 C327.9,1089.9 325.2,1091.8 323.2,1094.5 C321.2,1097.3 319.2,1101.5 317.7,1105.5 C316.2,1109.4 315.1,1114.0 314.1,1118.3 C313.0,1122.5 311.6,1127.4 311.3,1131.0 C311.0,1134.7 311.5,1137.6 312.2,1140.2 C313.0,1142.7 314.1,1145.2 315.9,1146.5 C317.7,1147.9 320.4,1148.5 323.2,1148.4 C325.9,1148.2 329.6,1147.0 332.3,1145.6 C335.0,1144.3 337.2,1142.3 339.6,1140.2 C342.0,1138.0 344.5,1135.1 346.9,1132.9 C349.3,1130.6 352.7,1128.6 354.2,1126.5 C355.7,1124.3 356.2,1122.5 356.0,1120.1 C355.9,1117.7 354.7,1114.6 353.3,1111.9 C351.9,1109.1 349.5,1106.2 347.8,1103.7 C346.1,1101.1 344.9,1098.3 343.3,1096.4 C341.6,1094.4 339.5,1093.0 337.8,1091.8 C336.1,1090.6 334.6,1089.9 333.2,1089.4 C331.9,1089.0 331.2,1088.2 329.6,1089.1 Z" fill="#28a883" stroke="#000000" stroke-width="1.0" stroke-linejoin="round"/>
<path d="M330.1,1092.8 C328.6,1093.6 326.2,1095.2 324.4,1097.7 C322.7,1100.1 320.9,1103.9 319.6,1107.4 C318.2,1111.0 317.2,1115.0 316.3,1118.8 C315.4,1122.6 314.1,1126.9 313.9,1130.2 C313.6,1133.4 314.0,1136.0 314.7,1138.3 C315.4,1140.6 316.3,1142.8 317.9,1144.0 C319.6,1145.2 322.0,1145.8 324.4,1145.6 C326.9,1145.5 330.1,1144.4 332.6,1143.2 C335.0,1142.0 336.9,1140.2 339.1,1138.3 C341.2,1136.4 343.4,1133.8 345.6,1131.8 C347.7,1129.8 350.7,1128.0 352.1,1126.1 C353.4,1124.2 353.8,1122.6 353.7,1120.4 C353.5,1118.3 352.5,1115.6 351.2,1113.1 C350.0,1110.7 347.9,1108.1 346.4,1105.8 C344.9,1103.5 343.8,1101.1 342.3,1099.3 C340.8,1097.6 338.9,1096.3 337.4,1095.2 C335.9,1094.2 334.6,1093.5 333.4,1093.1 C332.1,1092.7 331.6,1092.1 330.1,1092.8 Z" fill="#35b779" stroke="#000000" stroke-width="1.0" stroke-linejoin="round"/>
<path d="M330.7,1096.3 C329.3,1097.0 327.2,1098.5 325.7,1100.6 C324.1,1102.7 322.6,1106.1 321.4,1109.1 C320.2,1112.2 319.4,1115.8 318.5,1119.1 C317.7,1122.4 316.6,1126.2 316.4,1129.1 C316.2,1131.9 316.5,1134.2 317.1,1136.2 C317.7,1138.2 318.5,1140.1 320.0,1141.2 C321.4,1142.3 323.5,1142.7 325.7,1142.6 C327.8,1142.5 330.7,1141.6 332.8,1140.5 C334.9,1139.4 336.6,1137.9 338.5,1136.2 C340.4,1134.6 342.3,1132.3 344.2,1130.5 C346.1,1128.7 348.7,1127.2 349.9,1125.5 C351.1,1123.9 351.4,1122.4 351.3,1120.5 C351.2,1118.6 350.2,1116.3 349.2,1114.1 C348.1,1112.0 346.2,1109.7 344.9,1107.7 C343.6,1105.7 342.6,1103.6 341.3,1102.0 C340.0,1100.5 338.4,1099.4 337.1,1098.5 C335.8,1097.5 334.6,1097.0 333.5,1096.6 C332.4,1096.2 332.0,1095.6 330.7,1096.3 Z" fill="#57c565" stroke="#000000" stroke-width="1.0" stroke-linejoin="round"/>
<path d="M331.4,1099.3 C330.3,1099.9 328.5,1101.1 327.2,1103.0 C325.8,1104.8 324.5,1107.7 323.5,1110.3 C322.5,1113.0 321.7,1116.1 321.0,1118.9 C320.3,1121.8 319.4,1125.0 319.2,1127.5 C319.0,1129.9 319.3,1131.9 319.8,1133.6 C320.3,1135.3 321.0,1137.0 322.3,1137.9 C323.5,1138.8 325.3,1139.2 327.2,1139.1 C329.0,1139.0 331.4,1138.2 333.3,1137.3 C335.1,1136.4 336.5,1135.0 338.2,1133.6 C339.8,1132.2 341.4,1130.2 343.1,1128.7 C344.7,1127.2 347.0,1125.9 348.0,1124.4 C349.0,1123.0 349.3,1121.8 349.2,1120.1 C349.1,1118.5 348.3,1116.5 347.4,1114.6 C346.4,1112.8 344.8,1110.8 343.7,1109.1 C342.6,1107.4 341.8,1105.5 340.6,1104.2 C339.5,1102.9 338.1,1101.9 337.0,1101.2 C335.8,1100.4 334.8,1099.9 333.9,1099.6 C333.0,1099.3 332.6,1098.7 331.4,1099.3 Z" fill="#7cd14f" stroke="#000000" stroke-width="1.0" stroke-linejoin="round"/>
<path d="M332.2,1102.3 C331.3,1102.8 329.8,1103.9 328.6,1105.4 C327.5,1106.9 326.4,1109.3 325.6,1111.5 C324.7,1113.8 324.1,1116.3 323.5,1118.7 C322.9,1121.1 322.2,1123.8 322.0,1125.9 C321.8,1127.9 322.1,1129.6 322.5,1131.0 C322.9,1132.5 323.5,1133.8 324.5,1134.6 C325.6,1135.4 327.1,1135.7 328.6,1135.6 C330.2,1135.5 332.2,1134.9 333.8,1134.1 C335.3,1133.3 336.5,1132.2 337.9,1131.0 C339.2,1129.8 340.6,1128.2 342.0,1126.9 C343.3,1125.6 345.2,1124.5 346.1,1123.3 C346.9,1122.1 347.2,1121.1 347.1,1119.7 C347.0,1118.4 346.3,1116.7 345.6,1115.1 C344.8,1113.6 343.4,1112.0 342.5,1110.5 C341.5,1109.1 340.9,1107.5 339.9,1106.4 C339.0,1105.3 337.8,1104.5 336.8,1103.8 C335.9,1103.2 335.1,1102.8 334.3,1102.5 C333.5,1102.3 333.2,1101.8 332.2,1102.3 Z" fill="#a7db34" stroke="#000000" stroke-width="1.0" stroke-linejoin="round"/>
<path d="M336.2,1102.5 C334.2,1103.5 332.7,1107.1 331.2,1110.0 C329.8,1112.9 328.2,1116.7 327.5,1120.0 C326.8,1123.3 326.2,1128.1 327.0,1130.0 C327.8,1131.9 330.3,1131.9 332.5,1131.2 C334.7,1130.6 337.7,1128.3 340.0,1126.2 C342.3,1124.2 345.0,1121.5 346.2,1118.8 C347.5,1116.0 347.9,1112.5 347.5,1110.0 C347.1,1107.5 345.6,1105.0 343.8,1103.8 C341.9,1102.5 338.3,1101.5 336.2,1102.5 Z" fill="#d2e229" stroke="#000000" stroke-width="1.0" stroke-linejoin="round"/>
<path d="M337.0,1111.2 C336.2,1111.9 335.0,1114.7 335.0,1116.2 C335.0,1117.8 336.2,1120.3 337.0,1120.5 C337.8,1120.7 339.5,1118.8 340.0,1117.5 C340.5,1116.2 340.5,1113.5 340.0,1112.5 C339.5,1111.5 337.8,1110.6 337.0,1111.2 Z" fill="#fde725" stroke="#000000" stroke-width="1.0" stroke-linejoin="round"/>
<path d="M360.0,1101.2 C359.6,1102.2 363.3,1103.1 365.0,1105.0 C366.7,1106.9 368.8,1109.8 370.0,1112.5 C371.2,1115.2 371.7,1118.5 372.5,1121.2 C373.3,1124.0 373.5,1128.3 375.0,1128.8 C376.5,1129.2 379.4,1125.6 381.2,1123.8 C383.1,1121.9 385.4,1119.8 386.2,1117.5 C387.1,1115.2 387.1,1112.3 386.2,1110.0 C385.4,1107.7 383.1,1105.4 381.2,1103.8 C379.4,1102.1 377.3,1100.7 375.0,1100.0 C372.7,1099.3 370.0,1099.3 367.5,1099.5 C365.0,1099.7 360.4,1100.3 360.0,1101.2 Z" fill="#39558b" stroke="#000000" stroke-width="1.0" stroke-linejoin="round"/>
<path d="M363.8,1103.8 C363.5,1105.0 366.2,1107.9 367.5,1110.0 C368.8,1112.1 370.0,1114.8 371.2,1116.2 C372.5,1117.7 373.8,1119.2 375.0,1118.8 C376.2,1118.3 377.9,1115.6 378.8,1113.8 C379.6,1111.9 380.6,1109.2 380.0,1107.5 C379.4,1105.8 376.9,1104.1 375.0,1103.2 C373.1,1102.4 370.6,1102.4 368.8,1102.5 C366.9,1102.6 364.0,1102.5 363.8,1103.8 Z" fill="#404286" stroke="#000000" stroke-width="1.0" stroke-linejoin="round"/>
<path d="M367.0,1105.8 C366.9,1106.8 368.6,1109.4 369.5,1110.5 C370.4,1111.6 371.6,1112.8 372.5,1112.5 C373.4,1112.2 374.8,1110.0 375.0,1108.8 C375.2,1107.5 374.6,1105.8 373.8,1105.0 C372.9,1104.2 371.1,1104.1 370.0,1104.2 C368.9,1104.4 367.1,1104.7 367.0,1105.8 Z" fill="#462f7b" stroke="#000000" stroke-width="1.0" stroke-linejoin="round"/>
<path d="M378.8,1095.0 C378.8,1095.6 377.4,1096.4 376.0,1096.7 C374.6,1097.0 371.9,1097.0 370.5,1096.7 C369.1,1096.4 367.8,1095.6 367.8,1095.0 C367.8,1094.4 369.1,1093.6 370.5,1093.3 C371.9,1093.0 374.6,1093.0 376.0,1093.3 C377.4,1093.6 378.8,1094.4 378.8,1095.0 Z" fill="#2a788e" stroke="#000000" stroke-width="1.0" stroke-linejoin="round"/>
<path d="M352.2,1085.0 C352.2,1085.8 351.7,1087.0 351.1,1087.4 C350.6,1087.8 349.4,1087.8 348.9,1087.4 C348.3,1087.0 347.8,1085.8 347.8,1085.0 C347.8,1084.2 348.3,1083.0 348.9,1082.6 C349.4,1082.2 350.6,1082.2 351.1,1082.6 C351.7,1083.0 352.2,1084.2 352.2,1085.0 Z" fill="#39558b" stroke="#000000" stroke-width="1.0" stroke-linejoin="round"/>
<path d="M437.5,1043.8 C434.9,1044.0 431.2,1044.8 427.5,1047.5 C423.8,1050.2 419.2,1055.8 415.0,1060.0 C410.8,1064.2 405.2,1069.2 402.5,1072.5 C399.8,1075.8 398.8,1077.1 398.8,1080.0 C398.8,1082.9 400.6,1086.2 402.5,1090.0 C404.4,1093.8 407.1,1097.9 410.0,1102.5 C412.9,1107.1 416.7,1113.1 420.0,1117.5 C423.3,1121.9 427.3,1126.5 430.0,1128.8 C432.7,1131.0 434.6,1131.2 436.2,1130.8 C437.9,1130.3 439.2,1129.3 440.0,1126.2 C440.8,1123.2 440.8,1118.1 441.2,1112.5 C441.7,1106.9 442.0,1099.2 442.5,1092.5 C443.0,1085.8 444.0,1078.8 444.5,1072.5 C445.0,1066.2 445.8,1059.4 445.5,1055.0 C445.2,1050.6 444.3,1048.1 443.0,1046.2 C441.7,1044.4 440.1,1043.5 437.5,1043.8 Z" fill="#39558b" stroke="#000000" stroke-width="1.0" stroke-linejoin="round"/>
<path d="M425.0,1066.2 C422.7,1067.1 417.7,1071.0 415.0,1073.8 C412.3,1076.5 409.4,1079.4 408.8,1082.5 C408.1,1085.6 409.6,1088.5 411.2,1092.5 C412.9,1096.5 416.2,1102.3 418.8,1106.2 C421.2,1110.2 424.2,1115.2 426.2,1116.2 C428.3,1117.3 430.2,1115.6 431.2,1112.5 C432.3,1109.4 432.5,1102.9 432.5,1097.5 C432.5,1092.1 431.9,1084.8 431.2,1080.0 C430.6,1075.2 429.8,1071.0 428.8,1068.8 C427.7,1066.5 427.3,1065.4 425.0,1066.2 Z" fill="#404286" stroke="#000000" stroke-width="1.0" stroke-linejoin="round"/>
<path d="M475.0,1138.8 C473.8,1141.5 475.0,1143.3 477.5,1145.0 C480.0,1146.7 485.0,1148.0 490.0,1148.8 C495.0,1149.5 500.8,1149.8 507.5,1149.5 C514.2,1149.2 522.9,1148.2 530.0,1147.0 C537.1,1145.8 543.8,1143.6 550.0,1142.5 C556.2,1141.4 562.1,1140.3 567.5,1140.5 C572.9,1140.7 577.1,1142.5 582.5,1143.8 C587.9,1145.0 594.2,1147.0 600.0,1148.0 C605.8,1149.0 611.7,1149.8 617.5,1149.5 C623.3,1149.2 629.6,1147.8 635.0,1146.2 C640.4,1144.7 646.0,1142.3 650.0,1140.0 C654.0,1137.7 657.9,1135.0 658.8,1132.5 C659.6,1130.0 657.1,1127.5 655.0,1125.0 C652.9,1122.5 648.8,1120.8 646.2,1117.5 C643.8,1114.2 642.1,1109.2 640.0,1105.0 C637.9,1100.8 636.2,1096.2 633.8,1092.5 C631.2,1088.8 628.1,1085.0 625.0,1082.5 C621.9,1080.0 618.8,1078.1 615.0,1077.5 C611.2,1076.9 606.7,1077.5 602.5,1078.8 C598.3,1080.0 593.8,1082.3 590.0,1085.0 C586.2,1087.7 582.9,1091.2 580.0,1095.0 C577.1,1098.8 574.6,1103.8 572.5,1107.5 C570.4,1111.2 569.6,1114.7 567.5,1117.5 C565.4,1120.3 562.9,1123.0 560.0,1124.5 C557.1,1126.0 554.2,1126.6 550.0,1126.2 C545.8,1125.9 540.4,1123.3 535.0,1122.5 C529.6,1121.7 523.3,1121.2 517.5,1121.2 C511.7,1121.3 505.4,1121.8 500.0,1123.0 C494.6,1124.2 489.2,1126.1 485.0,1128.8 C480.8,1131.4 476.2,1136.0 475.0,1138.8 Z" fill="#2a788e" stroke="#000000" stroke-width="1.0" stroke-linejoin="round"/>
<path d="M454.5,1200.0 L453.7,1209.2 L448.4,1214.5 L440.7,1217.1 L433.1,1219.9 L417.8,1226.0 L405.5,1235.2 L393.3,1247.4 L381.0,1261.2 L368.8,1276.5 L358.1,1290.3 L347.3,1305.6 L338.2,1319.4 L330.5,1333.2 L322.9,1345.4 L313.7,1357.7 L306.0,1366.8 L300.7,1373.7 L301.4,1377.6 L306.0,1383.7 L341.2,1414.3 L632.0,1291.8 L601.4,1251.3 L598.4,1252.8 L584.6,1255.1 L570.8,1258.2 L555.5,1262.4 L540.2,1267.3 L524.9,1273.2 L509.6,1279.6 L494.3,1286.2 L479.0,1293.4 L463.7,1300.3 L448.4,1307.1 L425.4,1317.9 L417.8,1320.6 L410.1,1322.4 L404.7,1322.4 L400.9,1320.6 L399.4,1317.9 L400.9,1315.1 L405.5,1312.5 L411.6,1310.2 L426.9,1299.5 L445.3,1285.7 L463.7,1271.9 L479.0,1259.7 L491.2,1245.9 L495.8,1239.8 L489.7,1236.0 L477.4,1227.6 L469.8,1219.9 L466.0,1209.2 L466.0,1200.0 L464.4,1193.9 L460.0,1192.0 L456.0,1193.9 Z" fill="#2a788e" stroke="#000000" stroke-width="1.0" stroke-linejoin="round"/>
<path d="M477.4,1241.3 C476.4,1239.3 474.1,1235.8 471.3,1233.7 C468.5,1231.5 464.4,1229.3 460.6,1228.3 C456.8,1227.3 453.0,1227.2 448.4,1227.6 C443.8,1227.9 438.2,1228.6 433.1,1230.6 C428.0,1232.7 422.3,1236.2 417.8,1239.8 C413.2,1243.4 409.6,1247.7 405.5,1252.0 C401.4,1256.4 397.3,1261.0 393.3,1265.8 C389.2,1270.7 385.1,1276.0 381.0,1281.1 C376.9,1286.2 372.9,1291.3 368.8,1296.4 C364.7,1301.5 360.4,1306.9 356.5,1311.7 C352.7,1316.6 349.4,1320.9 345.8,1325.5 C342.2,1330.1 338.4,1335.2 335.1,1339.3 C331.8,1343.4 328.2,1347.4 325.9,1350.0 C323.6,1352.6 321.6,1353.2 321.3,1354.6 C321.1,1356.0 322.6,1358.4 324.4,1358.4 C326.2,1358.4 328.5,1356.8 332.0,1354.6 C335.6,1352.4 340.7,1348.7 345.8,1345.4 C350.9,1342.1 357.0,1338.5 362.7,1334.7 C368.3,1330.9 373.9,1326.8 379.5,1322.4 C385.1,1318.1 390.5,1313.5 396.3,1308.7 C402.2,1303.8 408.6,1298.5 414.7,1293.4 C420.8,1288.3 426.9,1282.9 433.1,1278.1 C439.2,1273.2 445.6,1268.6 451.4,1264.3 C457.3,1259.9 463.9,1255.1 468.3,1252.0 C472.6,1249.0 475.9,1247.7 477.4,1245.9 C479.0,1244.1 478.5,1243.4 477.4,1241.3 Z" fill="#25888d" stroke="#000000" stroke-width="1.0" stroke-linejoin="round"/>
<path d="M468.3,1240.6 C467.1,1238.9 465.2,1237.0 462.1,1236.0 C459.1,1234.9 454.2,1234.2 449.9,1234.4 C445.6,1234.7 440.7,1235.6 436.1,1237.5 C431.5,1239.4 426.7,1242.7 422.3,1245.9 C418.0,1249.1 414.2,1252.6 410.1,1256.6 C406.0,1260.7 401.9,1265.6 397.9,1270.4 C393.8,1275.3 389.7,1280.6 385.6,1285.7 C381.5,1290.8 377.4,1295.9 373.4,1301.0 C369.3,1306.1 364.9,1311.5 361.1,1316.3 C357.3,1321.2 354.0,1326.0 350.4,1330.1 C346.8,1334.2 342.5,1338.4 339.7,1340.8 C336.9,1343.2 334.1,1343.5 333.6,1344.6 C333.1,1345.8 334.3,1348.0 336.6,1347.7 C338.9,1347.4 343.0,1345.5 347.3,1343.1 C351.7,1340.7 357.3,1336.9 362.7,1333.2 C368.0,1329.5 373.9,1325.3 379.5,1320.9 C385.1,1316.6 390.5,1312.0 396.3,1307.1 C402.2,1302.3 408.6,1296.9 414.7,1291.8 C420.8,1286.7 427.2,1281.4 433.1,1276.5 C438.9,1271.7 444.8,1266.8 449.9,1262.8 C455.0,1258.7 460.5,1254.8 463.7,1252.0 C466.9,1249.2 468.3,1247.8 469.0,1245.9 C469.8,1244.0 469.4,1242.2 468.3,1240.6 Z" fill="#20988a" stroke="#000000" stroke-width="1.0" stroke-linejoin="round"/>
<path d="M462.9,1242.9 C461.4,1241.5 458.2,1239.4 454.5,1239.0 C450.8,1238.6 445.3,1239.0 440.7,1240.6 C436.1,1242.1 431.3,1245.2 426.9,1248.2 C422.6,1251.3 418.8,1254.8 414.7,1258.9 C410.6,1263.0 406.5,1267.9 402.4,1272.7 C398.4,1277.6 394.3,1283.0 390.2,1288.0 C386.1,1293.0 381.8,1297.8 378.0,1302.6 C374.1,1307.3 370.8,1312.0 367.2,1316.3 C363.7,1320.7 359.8,1325.5 356.5,1328.6 C353.2,1331.6 349.3,1333.4 347.3,1334.7 C345.4,1336.0 344.9,1335.7 345.1,1336.2 C345.2,1336.7 345.4,1338.5 348.1,1337.8 C350.8,1337.0 356.1,1334.7 361.1,1331.6 C366.1,1328.6 372.3,1323.7 378.0,1319.4 C383.6,1315.1 388.9,1310.5 394.8,1305.6 C400.7,1300.8 407.0,1295.4 413.2,1290.3 C419.3,1285.2 425.9,1279.6 431.5,1275.0 C437.1,1270.4 442.2,1266.6 446.8,1262.8 C451.4,1258.9 456.3,1254.6 459.1,1252.0 C461.8,1249.5 462.7,1249.0 463.4,1247.4 C464.0,1245.9 464.4,1244.3 462.9,1242.9 Z" fill="#28a883" stroke="#000000" stroke-width="1.0" stroke-linejoin="round"/>
<path d="M456.0,1245.9 C454.2,1244.9 449.4,1243.6 445.3,1244.4 C441.2,1245.2 435.9,1247.7 431.5,1250.5 C427.2,1253.3 423.4,1257.1 419.3,1261.2 C415.2,1265.3 411.1,1270.2 407.0,1275.0 C403.0,1279.8 398.9,1285.5 394.8,1290.3 C390.7,1295.2 386.4,1299.7 382.6,1304.1 C378.7,1308.4 375.2,1312.9 371.8,1316.3 C368.5,1319.8 365.1,1323.1 362.7,1324.7 C360.2,1326.4 357.8,1325.8 357.3,1326.3 C356.8,1326.8 357.2,1328.4 359.6,1327.8 C362.0,1327.2 367.2,1325.4 371.8,1322.4 C376.4,1319.5 381.8,1314.7 387.1,1310.2 C392.5,1305.7 398.4,1300.5 404.0,1295.7 C409.6,1290.8 415.5,1285.7 420.8,1281.1 C426.2,1276.5 431.5,1271.9 436.1,1268.1 C440.7,1264.3 445.1,1261.1 448.4,1258.2 C451.7,1255.2 454.7,1252.6 456.0,1250.5 C457.3,1248.5 457.8,1246.9 456.0,1245.9 Z" fill="#35b779" stroke="#000000" stroke-width="1.0" stroke-linejoin="round"/>
<path d="M450.7,1249.0 C449.3,1248.2 445.7,1247.3 442.2,1248.2 C438.8,1249.1 434.1,1251.4 430.0,1254.3 C425.9,1257.3 421.8,1261.6 417.8,1265.8 C413.7,1270.0 409.6,1274.9 405.5,1279.6 C401.4,1284.3 397.1,1289.7 393.3,1294.1 C389.4,1298.6 385.6,1303.2 382.6,1306.4 C379.5,1309.6 376.4,1311.9 374.9,1313.3 C373.4,1314.7 372.9,1314.7 373.4,1314.8 C373.9,1314.9 375.2,1315.6 378.0,1314.0 C380.8,1312.5 385.6,1309.2 390.2,1305.6 C394.8,1302.0 400.4,1297.1 405.5,1292.6 C410.6,1288.1 416.0,1283.0 420.8,1278.8 C425.7,1274.6 430.5,1270.8 434.6,1267.3 C438.7,1263.9 442.6,1260.6 445.3,1258.2 C448.0,1255.7 449.8,1254.3 450.7,1252.8 C451.6,1251.3 452.1,1249.7 450.7,1249.0 Z" fill="#57c565" stroke="#000000" stroke-width="1.0" stroke-linejoin="round"/>
<path d="M439.9,1257.4 C439.0,1256.5 437.0,1254.3 434.6,1254.3 C432.2,1254.3 428.7,1255.2 425.4,1257.4 C422.1,1259.6 418.5,1263.4 414.7,1267.3 C410.9,1271.3 406.5,1276.5 402.4,1281.1 C398.4,1285.7 394.3,1291.1 390.2,1294.9 C386.1,1298.7 380.5,1302.0 378.0,1304.1 C375.4,1306.1 374.6,1306.1 374.9,1307.1 C375.2,1308.2 377.4,1310.2 379.5,1310.2 C381.5,1310.2 383.6,1309.6 387.1,1307.1 C390.7,1304.7 396.3,1299.6 400.9,1295.7 C405.5,1291.7 410.4,1287.4 414.7,1283.4 C419.0,1279.5 423.4,1275.4 426.9,1271.9 C430.5,1268.5 433.9,1264.8 436.1,1262.8 C438.4,1260.7 439.8,1260.6 440.4,1259.7 C441.0,1258.8 440.9,1258.3 439.9,1257.4 Z" fill="#7cd14f" stroke="#000000" stroke-width="1.0" stroke-linejoin="round"/>
<path d="M417.8,1273.5 C417.1,1272.8 416.5,1271.2 414.7,1271.9 C412.9,1272.7 409.8,1275.6 407.0,1278.1 C404.2,1280.5 399.5,1284.7 397.9,1286.5 C396.2,1288.3 396.3,1288.0 397.1,1288.8 C397.9,1289.5 400.8,1291.2 402.4,1291.1 C404.1,1290.9 404.7,1289.9 407.0,1288.0 C409.3,1286.1 414.3,1281.6 416.2,1279.6 C418.1,1277.6 418.3,1276.8 418.5,1275.8 C418.8,1274.7 418.4,1274.1 417.8,1273.5 Z" fill="#a7db34" stroke="#000000" stroke-width="1.0" stroke-linejoin="round"/>
<path d="M427.0,1269.6 C426.7,1270.2 425.6,1270.6 424.7,1270.5 C423.9,1270.4 422.6,1269.6 422.1,1269.0 C421.6,1268.3 421.4,1267.1 421.7,1266.6 C422.0,1266.0 423.1,1265.6 423.9,1265.7 C424.8,1265.9 426.1,1266.6 426.6,1267.3 C427.1,1267.9 427.3,1269.1 427.0,1269.6 Z" fill="#a7db34" stroke="#000000" stroke-width="1.0" stroke-linejoin="round"/>
<path d="M395.3,1295.2 C395.3,1296.1 394.6,1297.4 393.9,1297.9 C393.2,1298.3 391.8,1298.3 391.1,1297.9 C390.4,1297.4 389.7,1296.1 389.7,1295.2 C389.7,1294.3 390.4,1293.0 391.1,1292.6 C391.8,1292.1 393.2,1292.1 393.9,1292.6 C394.6,1293.0 395.3,1294.3 395.3,1295.2 Z" fill="#a7db34" stroke="#000000" stroke-width="1.0" stroke-linejoin="round"/>
<path d="M372.5,1315.3 C372.3,1315.9 371.6,1316.7 371.1,1316.9 C370.6,1317.1 369.9,1316.8 369.7,1316.4 C369.4,1316.0 369.4,1314.9 369.6,1314.3 C369.9,1313.7 370.6,1312.8 371.0,1312.7 C371.5,1312.5 372.2,1312.7 372.5,1313.2 C372.7,1313.6 372.7,1314.7 372.5,1315.3 Z" fill="#a7db34" stroke="#000000" stroke-width="1.0" stroke-linejoin="round"/>
<path d="M398.3,1324.9 C398.3,1325.3 397.5,1326.0 396.3,1326.5 C395.1,1326.9 392.9,1327.3 391.1,1327.5 C389.4,1327.6 387.2,1327.6 385.9,1327.4 C384.7,1327.1 383.7,1326.6 383.7,1326.2 C383.6,1325.7 384.5,1325.0 385.7,1324.6 C386.9,1324.1 389.1,1323.7 390.8,1323.5 C392.5,1323.4 394.8,1323.4 396.0,1323.7 C397.3,1323.9 398.2,1324.4 398.3,1324.9 Z" fill="#31688e" stroke="#000000" stroke-width="1.0" stroke-linejoin="round"/>
<path d="M375.8,1335.0 C375.8,1335.3 375.3,1336.0 374.6,1336.3 C374.0,1336.6 372.6,1336.8 371.9,1336.7 C371.2,1336.7 370.4,1336.3 370.3,1335.9 C370.3,1335.6 370.9,1334.9 371.5,1334.7 C372.2,1334.4 373.5,1334.1 374.2,1334.2 C374.9,1334.2 375.7,1334.6 375.8,1335.0 Z" fill="#31688e" stroke="#000000" stroke-width="1.0" stroke-linejoin="round"/>
<path d="M474.4,1219.9 C474.6,1221.3 476.7,1223.2 479.0,1224.5 C481.3,1225.8 485.6,1227.3 488.2,1227.6 C490.7,1227.8 492.8,1227.0 494.3,1226.0 C495.8,1225.0 497.6,1223.0 497.3,1221.4 C497.1,1219.9 494.8,1218.0 492.8,1216.8 C490.7,1215.7 487.7,1214.7 485.1,1214.5 C482.6,1214.4 479.2,1215.2 477.4,1216.1 C475.7,1217.0 474.1,1218.5 474.4,1219.9 Z" fill="#39558b" stroke="#000000" stroke-width="1.0" stroke-linejoin="round"/>
<path d="M479.0,1219.9 C479.0,1221.0 481.7,1223.0 483.6,1223.7 C485.5,1224.5 488.8,1224.9 490.5,1224.5 C492.1,1224.1 493.6,1222.6 493.5,1221.4 C493.4,1220.3 491.4,1218.4 489.7,1217.6 C488.0,1216.8 485.4,1216.5 483.6,1216.8 C481.8,1217.2 479.0,1218.8 479.0,1219.9 Z" fill="#404286" stroke="#000000" stroke-width="1.0" stroke-linejoin="round"/>
<path d="M492.3,1220.7 C492.3,1221.3 491.5,1222.2 490.6,1222.5 C489.8,1222.8 488.1,1222.8 487.2,1222.5 C486.4,1222.2 485.6,1221.3 485.6,1220.7 C485.6,1220.0 486.4,1219.1 487.2,1218.8 C488.1,1218.5 489.8,1218.5 490.6,1218.8 C491.5,1219.1 492.3,1220.0 492.3,1220.7 Z" fill="#462f7b" stroke="#000000" stroke-width="1.0" stroke-linejoin="round"/>
<path d="M470.6,1200.0 C470.4,1201.8 470.2,1204.1 471.3,1206.1 C472.5,1208.2 475.2,1211.0 477.4,1212.2 C479.7,1213.5 482.3,1213.6 485.1,1213.8 C487.9,1213.9 492.1,1213.8 494.3,1213.0 C496.5,1212.2 498.1,1210.6 498.1,1209.2 C498.1,1207.8 495.9,1205.7 494.3,1204.6 C492.6,1203.4 490.2,1203.2 488.2,1202.3 C486.1,1201.4 483.8,1200.4 482.0,1199.2 C480.3,1198.1 479.1,1196.0 477.4,1195.4 C475.8,1194.8 473.2,1194.6 472.1,1195.4 C470.9,1196.2 470.7,1198.2 470.6,1200.0 Z" fill="#2a788e" stroke="#000000" stroke-width="1.0" stroke-linejoin="round"/>
<path d="M494.8,1211.5 C494.6,1212.1 493.7,1212.7 492.8,1212.9 C492.0,1213.1 490.5,1212.9 489.5,1212.5 C488.5,1212.2 487.3,1211.4 486.7,1210.7 C486.2,1210.0 485.9,1209.0 486.1,1208.4 C486.4,1207.8 487.2,1207.2 488.1,1207.0 C489.0,1206.8 490.4,1207.0 491.4,1207.4 C492.4,1207.7 493.6,1208.5 494.2,1209.2 C494.7,1209.9 495.0,1210.9 494.8,1211.5 Z" fill="#25888d" stroke="#000000" stroke-width="1.0" stroke-linejoin="round"/>
<path d="M493.1,1210.7 C492.9,1211.1 492.2,1211.5 491.6,1211.5 C491.0,1211.5 489.9,1211.1 489.4,1210.7 C489.0,1210.3 488.6,1209.5 488.8,1209.2 C488.9,1208.8 489.6,1208.4 490.2,1208.4 C490.9,1208.4 491.9,1208.8 492.4,1209.2 C492.9,1209.6 493.2,1210.4 493.1,1210.7 Z" fill="#20988a" stroke="#000000" stroke-width="1.0" stroke-linejoin="round"/>
<path d="M501.2,1206.1 C501.2,1206.7 502.8,1207.5 505.0,1207.7 C507.2,1207.8 511.1,1206.8 514.2,1206.9 C517.2,1207.0 520.6,1207.1 523.4,1208.4 C526.2,1209.7 528.5,1213.6 531.0,1214.5 C533.6,1215.4 536.6,1214.4 538.7,1213.8 C540.8,1213.1 543.3,1212.1 543.6,1210.7 C543.8,1209.3 542.0,1206.8 540.2,1205.4 C538.4,1204.0 535.4,1202.9 532.6,1202.3 C529.7,1201.7 526.4,1201.5 523.4,1201.8 C520.3,1202.2 517.2,1204.2 514.2,1204.6 C511.1,1205.0 507.2,1204.0 505.0,1204.3 C502.8,1204.5 501.2,1205.6 501.2,1206.1 Z" fill="#39558b" stroke="#000000" stroke-width="1.0" stroke-linejoin="round"/>
<path d="M535.6,1210.4 C535.6,1210.7 534.8,1211.2 534.1,1211.3 C533.3,1211.5 531.8,1211.5 531.0,1211.3 C530.3,1211.2 529.5,1210.7 529.5,1210.4 C529.5,1210.1 530.3,1209.6 531.0,1209.5 C531.8,1209.3 533.3,1209.3 534.1,1209.5 C534.8,1209.6 535.6,1210.1 535.6,1210.4 Z" fill="#404286" stroke="#000000" stroke-width="1.0" stroke-linejoin="round"/>
<path d="M519.5,1219.9 C519.4,1221.1 522.2,1225.9 523.4,1226.8 C524.5,1227.7 525.5,1226.3 526.4,1225.3 C527.3,1224.2 529.1,1221.6 528.7,1220.7 C528.3,1219.7 525.7,1219.7 524.1,1219.6 C522.6,1219.5 519.7,1218.7 519.5,1219.9 Z" fill="#2a788e" stroke="#000000" stroke-width="1.0" stroke-linejoin="round"/>
<path d="M608.3,1200.8 C606.3,1201.8 609.5,1205.6 610.6,1206.9 C611.8,1208.2 613.5,1208.9 615.2,1208.4 C616.9,1207.9 619.3,1205.1 620.6,1203.8 C621.8,1202.6 624.9,1201.3 622.9,1200.8 C620.8,1200.3 610.4,1199.7 608.3,1200.8 Z" fill="#2a788e" stroke="#000000" stroke-width="1.0" stroke-linejoin="round"/>
<path d="M359.6,1249.0 C358.3,1249.2 356.0,1250.3 353.5,1252.0 C350.9,1253.8 347.0,1257.0 344.3,1259.7 C341.6,1262.4 338.7,1265.3 337.4,1268.1 C336.1,1270.9 335.9,1274.6 336.3,1276.5 C336.7,1278.4 337.9,1279.5 339.7,1279.6 C341.5,1279.7 345.1,1278.6 347.3,1277.3 C349.6,1276.0 351.4,1274.1 353.5,1271.9 C355.5,1269.8 358.2,1267.1 359.6,1264.3 C361.0,1261.5 361.6,1257.4 361.9,1255.1 C362.1,1252.8 361.5,1251.5 361.1,1250.5 C360.7,1249.5 360.9,1248.7 359.6,1249.0 Z" fill="#39558b" stroke="#000000" stroke-width="1.0" stroke-linejoin="round"/>
<path d="M508.8,951.2 C507.9,953.3 509.8,954.6 512.5,955.0 C515.2,955.4 520.4,954.6 525.0,953.8 C529.6,952.9 536.2,951.7 540.0,950.0 C543.8,948.3 547.1,945.6 547.5,943.8 C547.9,941.9 545.4,939.8 542.5,938.8 C539.6,937.7 534.2,936.9 530.0,937.5 C525.8,938.1 521.0,940.2 517.5,942.5 C514.0,944.8 509.6,949.2 508.8,951.2 Z" fill="#2a788e" stroke="#000000" stroke-width="1.0" stroke-linejoin="round"/>
<path d="M578.0,943.8 C577.4,946.2 578.0,949.4 580.0,951.2 C582.0,953.1 586.2,954.6 590.0,955.0 C593.8,955.4 599.2,955.0 602.5,953.8 C605.8,952.5 608.3,950.0 610.0,947.5 C611.7,945.0 612.9,941.0 612.5,938.8 C612.1,936.5 610.4,934.7 607.5,933.8 C604.6,932.8 599.0,932.6 595.0,933.0 C591.0,933.4 586.6,934.5 583.8,936.2 C580.9,938.0 578.6,941.2 578.0,943.8 Z" fill="#39558b" stroke="#000000" stroke-width="1.0" stroke-linejoin="round"/>
<path d="M433.8,960.0 C432.5,962.2 432.1,966.7 432.5,970.0 C432.9,973.3 434.2,977.3 436.2,980.0 C438.3,982.7 442.5,985.4 445.0,986.2 C447.5,987.1 449.8,986.9 451.2,985.0 C452.7,983.1 452.9,978.8 453.8,975.0 C454.6,971.2 456.9,965.4 456.2,962.5 C455.6,959.6 452.7,958.4 450.0,957.5 C447.3,956.6 442.7,956.6 440.0,957.0 C437.3,957.4 435.0,957.8 433.8,960.0 Z" fill="#39558b" stroke="#000000" stroke-width="1.0" stroke-linejoin="round"/>
<path d="M472.2,961.8 C472.2,962.9 471.5,964.6 470.8,965.2 C470.0,965.8 468.5,965.8 467.8,965.2 C467.0,964.6 466.2,962.9 466.2,961.8 C466.2,960.6 467.0,958.9 467.8,958.3 C468.5,957.7 470.0,957.7 470.8,958.3 C471.5,958.9 472.2,960.6 472.2,961.8 Z" fill="#2a788e" stroke="#000000" stroke-width="1.0" stroke-linejoin="round"/>
<path d="M486.2,980.0 C486.7,981.2 490.6,982.7 492.5,985.0 C494.4,987.3 495.4,991.8 497.5,993.8 C499.6,995.8 502.3,997.2 505.0,997.0 C507.7,996.8 512.0,994.7 513.8,992.5 C515.5,990.3 516.1,986.2 515.5,983.8 C514.9,981.3 512.6,979.2 510.0,978.0 C507.4,976.8 503.3,976.3 500.0,976.2 C496.7,976.2 492.3,976.9 490.0,977.5 C487.7,978.1 485.8,978.8 486.2,980.0 Z" fill="#2a788e" stroke="#000000" stroke-width="1.0" stroke-linejoin="round"/>
<path d="M543.0,1000.0 C543.4,1001.9 547.2,1002.3 550.0,1002.5 C552.8,1002.7 557.6,1002.9 560.0,1001.2 C562.4,999.6 564.3,995.1 564.5,992.5 C564.7,989.9 563.0,986.8 561.2,985.5 C559.5,984.2 556.0,984.0 553.8,985.0 C551.5,986.0 549.3,988.8 547.5,991.2 C545.7,993.8 542.6,998.1 543.0,1000.0 Z" fill="#2a788e" stroke="#000000" stroke-width="1.0" stroke-linejoin="round"/>
<path d="M570.8,972.5 C570.8,973.2 569.8,974.3 568.9,974.7 C567.9,975.0 566.1,975.0 565.1,974.7 C564.2,974.3 563.2,973.2 563.2,972.5 C563.2,971.8 564.2,970.7 565.1,970.3 C566.1,970.0 567.9,970.0 568.9,970.3 C569.8,970.7 570.8,971.8 570.8,972.5 Z" fill="#2a788e" stroke="#000000" stroke-width="1.0" stroke-linejoin="round"/>
<path d="M395.5,1008.8 C394.9,1010.6 395.9,1014.2 397.5,1016.2 C399.1,1018.3 402.5,1021.0 405.0,1021.2 C407.5,1021.5 410.8,1019.4 412.5,1017.5 C414.2,1015.6 415.7,1012.1 415.5,1010.0 C415.3,1007.9 413.6,1005.8 411.2,1005.0 C408.9,1004.2 403.9,1004.4 401.2,1005.0 C398.6,1005.6 396.1,1006.9 395.5,1008.8 Z" fill="#39558b" stroke="#000000" stroke-width="1.0" stroke-linejoin="round"/>
<path d="M431.7,999.2 C432.0,999.9 431.3,1001.3 430.4,1002.0 C429.4,1002.7 427.3,1003.5 426.1,1003.6 C424.9,1003.6 423.5,1003.0 423.3,1002.3 C423.0,1001.6 423.7,1000.2 424.6,999.5 C425.6,998.8 427.7,998.0 428.9,997.9 C430.1,997.9 431.5,998.5 431.7,999.2 Z" fill="#2a788e" stroke="#000000" stroke-width="1.0" stroke-linejoin="round"/>
<path d="M457.5,1001.2 C456.0,1002.5 455.6,1007.4 456.2,1010.0 C456.9,1012.6 459.0,1016.0 461.2,1017.0 C463.5,1018.0 467.5,1017.4 470.0,1016.2 C472.5,1015.1 475.8,1011.7 476.2,1010.0 C476.7,1008.3 474.4,1007.5 472.5,1006.2 C470.6,1005.0 467.5,1003.3 465.0,1002.5 C462.5,1001.7 459.0,1000.0 457.5,1001.2 Z" fill="#2a788e" stroke="#000000" stroke-width="1.0" stroke-linejoin="round"/>
<path d="M548.0,1028.8 C548.2,1029.9 551.3,1031.1 553.8,1031.2 C556.2,1031.4 561.5,1030.5 562.5,1029.5 C563.5,1028.5 561.7,1025.8 560.0,1025.0 C558.3,1024.2 554.5,1023.9 552.5,1024.5 C550.5,1025.1 547.8,1027.6 548.0,1028.8 Z" fill="#39558b" stroke="#000000" stroke-width="1.0" stroke-linejoin="round"/>
<path d="M546.8,1020.5 C546.8,1021.1 546.5,1021.9 546.2,1022.2 C546.0,1022.5 545.5,1022.5 545.2,1022.2 C545.0,1021.9 544.8,1021.1 544.8,1020.5 C544.8,1019.9 545.0,1019.1 545.2,1018.8 C545.5,1018.5 546.0,1018.5 546.2,1018.8 C546.5,1019.1 546.8,1019.9 546.8,1020.5 Z" fill="#39558b" stroke="#000000" stroke-width="1.0" stroke-linejoin="round"/>
<path d="M407.2,1058.0 C406.7,1059.5 404.7,1061.3 403.2,1061.6 C401.8,1061.9 399.4,1061.0 398.5,1059.9 C397.6,1058.7 397.3,1056.0 397.8,1054.5 C398.3,1053.0 400.3,1051.2 401.8,1050.9 C403.2,1050.6 405.6,1051.5 406.5,1052.6 C407.4,1053.8 407.7,1056.5 407.2,1058.0 Z" fill="#2a788e" stroke="#000000" stroke-width="1.0" stroke-linejoin="round"/>
<path d="M428.5,1038.2 C428.5,1038.8 427.6,1039.7 426.8,1040.0 C425.9,1040.3 424.1,1040.3 423.2,1040.0 C422.4,1039.7 421.5,1038.8 421.5,1038.2 C421.5,1037.7 422.4,1036.8 423.2,1036.5 C424.1,1036.2 425.9,1036.2 426.8,1036.5 C427.6,1036.8 428.5,1037.7 428.5,1038.2 Z" fill="#2a788e" stroke="#000000" stroke-width="1.0" stroke-linejoin="round"/>
<path d="M357.0,1162.5 C357.0,1165.0 362.0,1166.5 365.0,1167.5 C368.0,1168.5 372.3,1169.6 375.0,1168.8 C377.7,1167.9 380.3,1165.0 381.2,1162.5 C382.2,1160.0 382.0,1156.2 380.5,1153.8 C379.0,1151.3 375.1,1148.2 372.5,1148.0 C369.9,1147.8 367.6,1150.1 365.0,1152.5 C362.4,1154.9 357.0,1160.0 357.0,1162.5 Z" fill="#2a788e" stroke="#000000" stroke-width="1.0" stroke-linejoin="round"/>
<path d="M405.0,1172.5 C404.6,1174.2 407.7,1176.5 410.0,1177.5 C412.3,1178.5 415.6,1179.6 418.8,1178.8 C421.9,1177.9 428.1,1174.4 428.8,1172.5 C429.4,1170.6 425.2,1168.4 422.5,1167.5 C419.8,1166.6 415.4,1166.2 412.5,1167.0 C409.6,1167.8 405.4,1170.8 405.0,1172.5 Z" fill="#2a788e" stroke="#000000" stroke-width="1.0" stroke-linejoin="round"/>
<path d="M386.2,1190.0 C385.8,1191.9 387.3,1194.7 388.8,1196.2 C390.2,1197.8 392.8,1199.9 395.0,1199.5 C397.2,1199.1 401.4,1196.0 402.0,1193.8 C402.6,1191.5 400.5,1187.7 398.8,1186.2 C397.0,1184.8 393.3,1184.4 391.2,1185.0 C389.2,1185.6 386.7,1188.1 386.2,1190.0 Z" fill="#39558b" stroke="#000000" stroke-width="1.0" stroke-linejoin="round"/>
<path d="M586.2,980.0 C586.5,982.1 587.7,985.4 590.0,986.2 C592.3,987.1 596.2,985.4 600.0,985.0 C603.8,984.6 609.2,984.8 612.5,983.8 C615.8,982.7 618.5,981.2 620.0,978.8 C621.5,976.2 621.7,971.5 621.2,968.8 C620.8,966.0 620.2,963.8 617.5,962.5 C614.8,961.2 608.8,960.6 605.0,961.2 C601.2,961.9 597.7,964.2 595.0,966.2 C592.3,968.3 590.2,971.5 588.8,973.8 C587.3,976.0 586.0,977.9 586.2,980.0 Z" fill="#2a788e" stroke="#000000" stroke-width="1.0" stroke-linejoin="round"/>
<path d="M593.8,971.2 C593.1,973.5 595.2,977.1 597.5,978.8 C599.8,980.4 604.4,981.2 607.5,981.2 C610.6,981.2 614.5,980.6 616.2,978.8 C618.0,976.9 618.6,972.3 618.0,970.0 C617.4,967.7 615.3,965.8 612.5,965.0 C609.7,964.2 604.4,964.5 601.2,965.5 C598.1,966.5 594.4,969.0 593.8,971.2 Z" fill="#25888d" stroke="#000000" stroke-width="1.0" stroke-linejoin="round"/>
<path d="M598.8,971.2 C598.5,972.9 600.4,976.2 602.5,977.5 C604.6,978.8 609.1,979.4 611.2,978.8 C613.4,978.1 615.3,975.5 615.5,973.8 C615.7,972.0 614.5,969.0 612.5,968.0 C610.5,967.0 606.0,967.0 603.8,967.5 C601.5,968.0 599.0,969.6 598.8,971.2 Z" fill="#20988a" stroke="#000000" stroke-width="1.0" stroke-linejoin="round"/>
<path d="M614.0,972.5 C614.0,973.5 612.9,975.0 611.8,975.5 C610.6,976.0 608.4,976.0 607.2,975.5 C606.1,975.0 605.0,973.5 605.0,972.5 C605.0,971.5 606.1,970.0 607.2,969.5 C608.4,969.0 610.6,969.0 611.8,969.5 C612.9,970.0 614.0,971.5 614.0,972.5 Z" fill="#28a883" stroke="#000000" stroke-width="1.0" stroke-linejoin="round"/>
<path d="M612.2,972.5 C612.2,973.0 611.7,973.8 611.1,974.0 C610.6,974.3 609.4,974.3 608.9,974.0 C608.3,973.8 607.8,973.0 607.8,972.5 C607.8,972.0 608.3,971.2 608.9,971.0 C609.4,970.7 610.6,970.7 611.1,971.0 C611.7,971.2 612.2,972.0 612.2,972.5 Z" fill="#35b779" stroke="#000000" stroke-width="1.0" stroke-linejoin="round"/>
<path d="M621.1,939.8 C613.6,943.1 618.6,948.5 618.9,952.3 C619.2,956.0 620.8,959.5 623.1,962.2 C625.5,964.9 630.4,968.6 633.1,968.4 C635.8,968.2 636.2,962.4 639.3,961.0 C642.4,959.5 646.8,957.4 651.7,959.7 C656.7,962.0 662.1,972.2 669.1,974.6 C676.2,977.1 694.9,981.7 694.0,974.6 C693.2,967.6 676.3,938.2 664.2,932.3 C652.0,926.5 628.7,936.5 621.1,939.8 Z" fill="#2a788e" stroke="#000000" stroke-width="1.0" stroke-linejoin="round"/>
<path d="M686.6,990.8 C682.4,994.1 686.6,996.4 689.1,999.5 C691.5,1002.6 697.3,1007.2 701.5,1009.5 C705.6,1011.8 710.6,1013.4 713.9,1013.2 C717.3,1013.0 716.4,1009.7 721.4,1008.2 C726.4,1006.8 745.0,1009.3 743.8,1004.5 C742.6,999.7 723.5,981.9 713.9,979.6 C704.4,977.3 690.7,987.5 686.6,990.8 Z" fill="#2a788e" stroke="#000000" stroke-width="1.0" stroke-linejoin="round"/>
<path d="M725.9,1015.7 C724.6,1017.4 727.1,1019.6 728.9,1020.7 C730.6,1021.8 733.4,1022.6 736.3,1022.4 C739.2,1022.2 746.3,1021.4 746.3,1019.4 C746.3,1017.5 739.7,1011.3 736.3,1010.7 C732.9,1010.1 727.1,1014.0 725.9,1015.7 Z" fill="#2a788e" stroke="#000000" stroke-width="1.0" stroke-linejoin="round"/>
<path d="M624.4,1009.5 C625.0,1010.9 628.9,1013.2 631.8,1014.5 C634.7,1015.7 639.1,1017.4 641.8,1016.9 C644.5,1016.5 647.6,1013.8 648.0,1012.0 C648.4,1010.1 646.5,1007.2 644.3,1005.7 C642.0,1004.3 637.0,1003.3 634.3,1003.3 C631.6,1003.3 629.8,1004.7 628.1,1005.7 C626.4,1006.8 623.7,1008.0 624.4,1009.5 Z" fill="#39558b" stroke="#000000" stroke-width="1.0" stroke-linejoin="round"/>
<path d="M608.9,990.8 C608.3,992.1 609.8,995.8 610.7,997.0 C611.6,998.3 613.2,999.1 614.4,998.3 C615.7,997.5 618.1,993.6 618.1,992.1 C618.1,990.5 615.9,989.3 614.4,989.1 C612.9,988.9 609.6,989.5 608.9,990.8 Z" fill="#39558b" stroke="#000000" stroke-width="1.0" stroke-linejoin="round"/>
<path d="M562.6,1027.0 C562.7,1027.9 561.0,1029.5 559.2,1030.1 C557.3,1030.7 553.6,1031.1 551.7,1030.8 C549.8,1030.5 547.8,1029.2 547.8,1028.3 C547.7,1027.4 549.4,1025.8 551.2,1025.2 C553.0,1024.6 556.8,1024.2 558.7,1024.5 C560.6,1024.8 562.5,1026.1 562.6,1027.0 Z" fill="#39558b" stroke="#000000" stroke-width="1.0" stroke-linejoin="round"/>
<path d="M546.5,1020.7 C546.5,1021.3 546.2,1022.1 546.0,1022.4 C545.7,1022.7 545.2,1022.7 545.0,1022.4 C544.7,1022.1 544.5,1021.3 544.5,1020.7 C544.5,1020.1 544.7,1019.2 545.0,1019.0 C545.2,1018.7 545.7,1018.7 546.0,1019.0 C546.2,1019.2 546.5,1020.1 546.5,1020.7 Z" fill="#39558b" stroke="#000000" stroke-width="1.0" stroke-linejoin="round"/>
<path d="M660.4,1048.0 C659.8,1050.5 663.1,1052.8 665.4,1053.0 C667.7,1053.2 671.2,1051.2 674.1,1049.3 C677.0,1047.4 681.2,1044.1 682.8,1041.8 C684.5,1039.5 684.9,1037.1 684.1,1035.6 C683.2,1034.2 680.3,1032.7 677.9,1033.1 C675.4,1033.5 672.1,1035.6 669.1,1038.1 C666.2,1040.6 661.1,1045.6 660.4,1048.0 Z" fill="#2a788e" stroke="#000000" stroke-width="1.0" stroke-linejoin="round"/>
<path d="M727.6,1035.6 C727.6,1036.9 730.3,1040.8 732.6,1041.8 C734.9,1042.9 739.0,1042.4 741.3,1041.8 C743.6,1041.2 746.5,1039.3 746.3,1038.1 C746.1,1036.8 742.3,1035.1 740.1,1034.4 C737.8,1033.7 734.7,1033.7 732.6,1033.9 C730.5,1034.1 727.6,1034.3 727.6,1035.6 Z" fill="#39558b" stroke="#000000" stroke-width="1.0" stroke-linejoin="round"/>
<path d="M713.3,1048.0 C713.5,1048.5 712.9,1049.6 712.2,1050.0 C711.5,1050.5 709.9,1050.9 709.1,1050.9 C708.2,1050.8 707.2,1050.2 707.1,1049.6 C706.9,1049.1 707.5,1048.0 708.2,1047.5 C708.9,1047.1 710.5,1046.6 711.3,1046.7 C712.2,1046.8 713.2,1047.4 713.3,1048.0 Z" fill="#39558b" stroke="#000000" stroke-width="1.0" stroke-linejoin="round"/>
<path d="M709.0,1066.7 C707.1,1068.8 707.3,1073.6 706.5,1076.7 C705.6,1079.8 703.6,1083.4 704.0,1085.4 C704.4,1087.4 706.7,1088.4 709.0,1088.6 C711.2,1088.8 715.8,1088.4 717.7,1086.6 C719.5,1084.8 719.5,1081.0 720.2,1077.9 C720.9,1074.8 722.3,1070.2 721.9,1068.0 C721.5,1065.7 719.8,1064.4 717.7,1064.2 C715.5,1064.0 710.8,1064.6 709.0,1066.7 Z" fill="#2a788e" stroke="#000000" stroke-width="1.0" stroke-linejoin="round"/>
<path d="M715.2,1102.8 C715.1,1104.7 716.4,1108.7 717.7,1110.3 C718.9,1111.8 721.0,1112.8 722.6,1112.0 C724.3,1111.2 727.4,1107.4 727.6,1105.3 C727.8,1103.1 725.4,1100.1 723.9,1099.1 C722.4,1098.0 719.9,1098.4 718.4,1099.1 C717.0,1099.7 715.3,1100.9 715.2,1102.8 Z" fill="#2a788e" stroke="#000000" stroke-width="1.0" stroke-linejoin="round"/>
<path d="M744.5,1105.3 C744.5,1106.0 744.0,1107.1 743.5,1107.4 C743.0,1107.8 742.1,1107.8 741.6,1107.4 C741.1,1107.1 740.6,1106.0 740.6,1105.3 C740.6,1104.6 741.1,1103.5 741.6,1103.1 C742.1,1102.8 743.0,1102.8 743.5,1103.1 C744.0,1103.5 744.5,1104.6 744.5,1105.3 Z" fill="#39558b" stroke="#000000" stroke-width="1.0" stroke-linejoin="round"/>
<path d="M667.9,1066.2 C666.6,1065.8 664.4,1067.9 661.7,1069.2 C659.0,1070.5 654.6,1072.1 651.7,1074.2 C648.9,1076.2 646.2,1078.3 644.8,1081.6 C643.3,1085.0 642.7,1089.9 643.0,1094.1 C643.4,1098.2 644.9,1102.8 646.8,1106.5 C648.6,1110.3 651.7,1114.1 654.2,1116.5 C656.7,1118.9 659.6,1121.4 661.7,1121.0 C663.8,1120.5 665.6,1117.6 666.7,1114.0 C667.7,1110.3 667.5,1104.0 667.9,1099.1 C668.3,1094.1 668.9,1088.7 669.1,1084.1 C669.4,1079.6 669.9,1074.7 669.6,1071.7 C669.4,1068.7 669.2,1066.6 667.9,1066.2 Z" fill="#39558b" stroke="#000000" stroke-width="1.0" stroke-linejoin="round"/>
<path d="M659.7,1114.0 C659.1,1115.2 662.2,1117.3 664.2,1117.7 C666.2,1118.1 670.0,1117.5 671.6,1116.5 C673.3,1115.4 674.7,1112.5 674.1,1111.5 C673.5,1110.5 670.3,1109.8 667.9,1110.3 C665.5,1110.7 660.3,1112.7 659.7,1114.0 Z" fill="#404286" stroke="#000000" stroke-width="1.0" stroke-linejoin="round"/>
<path d="M682.8,1109.0 C682.0,1110.7 684.7,1115.6 686.6,1117.7 C688.4,1119.8 691.5,1121.2 694.0,1121.4 C696.5,1121.7 699.6,1120.2 701.5,1119.0 C703.4,1117.7 705.4,1115.6 705.2,1114.0 C705.0,1112.3 702.5,1110.0 700.3,1109.0 C698.0,1108.0 694.4,1107.8 691.5,1107.8 C688.6,1107.8 683.7,1107.3 682.8,1109.0 Z" fill="#39558b" stroke="#000000" stroke-width="1.0" stroke-linejoin="round"/>
<path d="M697.0,1114.5 C697.0,1115.3 695.6,1116.6 694.3,1117.1 C692.9,1117.5 690.2,1117.5 688.8,1117.1 C687.4,1116.6 686.1,1115.3 686.1,1114.5 C686.1,1113.6 687.4,1112.3 688.8,1111.9 C690.2,1111.5 692.9,1111.5 694.3,1111.9 C695.6,1112.3 697.0,1113.6 697.0,1114.5 Z" fill="#404286" stroke="#000000" stroke-width="1.0" stroke-linejoin="round"/>
<path d="M648.0,1171.2 C648.1,1172.6 649.9,1174.5 651.7,1174.9 C653.6,1175.4 657.5,1174.5 659.2,1173.7 C660.9,1172.9 662.1,1171.4 661.7,1170.0 C661.3,1168.5 658.4,1165.5 656.7,1165.0 C655.0,1164.5 652.7,1165.7 651.2,1166.7 C649.8,1167.8 647.9,1169.8 648.0,1171.2 Z" fill="#39558b" stroke="#000000" stroke-width="1.0" stroke-linejoin="round"/>
<path d="M608.9,1201.1 C608.1,1202.5 609.3,1207.5 610.7,1208.5 C612.0,1209.6 614.8,1208.5 616.9,1207.3 C619.0,1206.0 623.3,1202.3 623.1,1201.1 C622.9,1199.8 618.0,1199.8 615.7,1199.8 C613.3,1199.8 609.8,1199.6 608.9,1201.1 Z" fill="#2a788e" stroke="#000000" stroke-width="1.0" stroke-linejoin="round"/>
<path d="M678.4,1095.3 C678.4,1096.3 678.0,1097.8 677.7,1098.3 C677.4,1098.8 676.8,1098.8 676.5,1098.3 C676.2,1097.8 675.9,1096.3 675.9,1095.3 C675.9,1094.3 676.2,1092.8 676.5,1092.3 C676.8,1091.8 677.4,1091.8 677.7,1092.3 C678.0,1092.8 678.4,1094.3 678.4,1095.3 Z" fill="#39558b" stroke="#000000" stroke-width="1.0" stroke-linejoin="round"/>
<path d="M701.5,1134.4 C701.5,1134.7 701.0,1135.1 700.5,1135.2 C700.0,1135.4 699.0,1135.4 698.5,1135.2 C698.0,1135.1 697.5,1134.7 697.5,1134.4 C697.5,1134.1 698.0,1133.7 698.5,1133.5 C699.0,1133.4 700.0,1133.4 700.5,1133.5 C701.0,1133.7 701.5,1134.1 701.5,1134.4 Z" fill="#2a788e" stroke="#000000" stroke-width="1.0" stroke-linejoin="round"/>
</g></g>
<path d="M537.00,933.58 L539.83,936.41 L542.66,933.58 L539.83,930.75 L542.66,927.92 L539.83,925.09 L537.00,927.92 L534.17,925.09 L531.34,927.92 L534.17,930.75 L531.34,933.58 L534.17,936.41ZM553.00,954.08 L555.83,956.91 L558.66,954.08 L555.83,951.25 L558.66,948.42 L555.83,945.59 L553.00,948.42 L550.17,945.59 L547.34,948.42 L550.17,951.25 L547.34,954.08 L550.17,956.91ZM553.00,957.83 L555.83,960.66 L558.66,957.83 L555.83,955.00 L558.66,952.17 L555.83,949.34 L553.00,952.17 L550.17,949.34 L547.34,952.17 L550.17,955.00 L547.34,957.83 L550.17,960.66ZM485.50,965.33 L488.33,968.16 L491.16,965.33 L488.33,962.50 L491.16,959.67 L488.33,956.84 L485.50,959.67 L482.67,956.84 L479.84,959.67 L482.67,962.50 L479.84,965.33 L482.67,968.16ZM400.00,985.83 L402.83,988.66 L405.66,985.83 L402.83,983.00 L405.66,980.17 L402.83,977.34 L400.00,980.17 L397.17,977.34 L394.34,980.17 L397.17,983.00 L394.34,985.83 L397.17,988.66ZM400.50,994.58 L403.33,997.41 L406.16,994.58 L403.33,991.75 L406.16,988.92 L403.33,986.09 L400.50,988.92 L397.67,986.09 L394.84,988.92 L397.67,991.75 L394.84,994.58 L397.67,997.41ZM420.50,990.33 L423.33,993.16 L426.16,990.33 L423.33,987.50 L426.16,984.67 L423.33,981.84 L420.50,984.67 L417.67,981.84 L414.84,984.67 L417.67,987.50 L414.84,990.33 L417.67,993.16ZM452.50,986.58 L455.33,989.41 L458.16,986.58 L455.33,983.75 L458.16,980.92 L455.33,978.09 L452.50,980.92 L449.67,978.09 L446.84,980.92 L449.67,983.75 L446.84,986.58 L449.67,989.41ZM458.75,985.33 L461.58,988.16 L464.41,985.33 L461.58,982.50 L464.41,979.67 L461.58,976.84 L458.75,979.67 L455.92,976.84 L453.09,979.67 L455.92,982.50 L453.09,985.33 L455.92,988.16ZM456.25,991.08 L459.08,993.91 L461.91,991.08 L459.08,988.25 L461.91,985.42 L459.08,982.59 L456.25,985.42 L453.42,982.59 L450.59,985.42 L453.42,988.25 L450.59,991.08 L453.42,993.91ZM586.25,986.58 L589.08,989.41 L591.91,986.58 L589.08,983.75 L591.91,980.92 L589.08,978.09 L586.25,980.92 L583.42,978.09 L580.59,980.92 L583.42,983.75 L580.59,986.58 L583.42,989.41ZM592.00,987.33 L594.83,990.16 L597.66,987.33 L594.83,984.50 L597.66,981.67 L594.83,978.84 L592.00,981.67 L589.17,978.84 L586.34,981.67 L589.17,984.50 L586.34,987.33 L589.17,990.16ZM583.75,992.83 L586.58,995.66 L589.41,992.83 L586.58,990.00 L589.41,987.17 L586.58,984.34 L583.75,987.17 L580.92,984.34 L578.09,987.17 L580.92,990.00 L578.09,992.83 L580.92,995.66ZM591.25,999.08 L594.08,1001.91 L596.91,999.08 L594.08,996.25 L596.91,993.42 L594.08,990.59 L591.25,993.42 L588.42,990.59 L585.59,993.42 L588.42,996.25 L585.59,999.08 L588.42,1001.91ZM627.50,986.58 L630.33,989.41 L633.16,986.58 L630.33,983.75 L633.16,980.92 L630.33,978.09 L627.50,980.92 L624.67,978.09 L621.84,980.92 L624.67,983.75 L621.84,986.58 L624.67,989.41ZM677.50,996.58 L680.33,999.41 L683.16,996.58 L680.33,993.75 L683.16,990.92 L680.33,988.09 L677.50,990.92 L674.67,988.09 L671.84,990.92 L674.67,993.75 L671.84,996.58 L674.67,999.41ZM438.00,1027.33 L440.83,1030.16 L443.66,1027.33 L440.83,1024.50 L443.66,1021.67 L440.83,1018.84 L438.00,1021.67 L435.17,1018.84 L432.34,1021.67 L435.17,1024.50 L432.34,1027.33 L435.17,1030.16ZM659.25,1022.83 L662.08,1025.66 L664.91,1022.83 L662.08,1020.00 L664.91,1017.17 L662.08,1014.34 L659.25,1017.17 L656.42,1014.34 L653.59,1017.17 L656.42,1020.00 L653.59,1022.83 L656.42,1025.66ZM655.50,1032.08 L658.33,1034.91 L661.16,1032.08 L658.33,1029.25 L661.16,1026.42 L658.33,1023.59 L655.50,1026.42 L652.67,1023.59 L649.84,1026.42 L652.67,1029.25 L649.84,1032.08 L652.67,1034.91ZM720.75,1039.83 L723.58,1042.66 L726.41,1039.83 L723.58,1037.00 L726.41,1034.17 L723.58,1031.34 L720.75,1034.17 L717.92,1031.34 L715.09,1034.17 L717.92,1037.00 L715.09,1039.83 L717.92,1042.66ZM359.50,1097.33 L362.33,1100.16 L365.16,1097.33 L362.33,1094.50 L365.16,1091.67 L362.33,1088.84 L359.50,1091.67 L356.67,1088.84 L353.84,1091.67 L356.67,1094.50 L353.84,1097.33 L356.67,1100.16ZM355.00,1100.33 L357.83,1103.16 L360.66,1100.33 L357.83,1097.50 L360.66,1094.67 L357.83,1091.84 L355.00,1094.67 L352.17,1091.84 L349.34,1094.67 L352.17,1097.50 L349.34,1100.33 L352.17,1103.16ZM362.50,1095.33 L365.33,1098.16 L368.16,1095.33 L365.33,1092.50 L368.16,1089.67 L365.33,1086.84 L362.50,1089.67 L359.67,1086.84 L356.84,1089.67 L359.67,1092.50 L356.84,1095.33 L359.67,1098.16ZM648.75,1125.33 L651.58,1128.16 L654.41,1125.33 L651.58,1122.50 L654.41,1119.67 L651.58,1116.84 L648.75,1119.67 L645.92,1116.84 L643.09,1119.67 L645.92,1122.50 L643.09,1125.33 L645.92,1128.16ZM675.00,1112.83 L677.83,1115.66 L680.66,1112.83 L677.83,1110.00 L680.66,1107.17 L677.83,1104.34 L675.00,1107.17 L672.17,1104.34 L669.34,1107.17 L672.17,1110.00 L669.34,1112.83 L672.17,1115.66ZM679.50,1114.08 L682.33,1116.91 L685.16,1114.08 L682.33,1111.25 L685.16,1108.42 L682.33,1105.59 L679.50,1108.42 L676.67,1105.59 L673.84,1108.42 L676.67,1111.25 L673.84,1114.08 L676.67,1116.91ZM677.50,1120.33 L680.33,1123.16 L683.16,1120.33 L680.33,1117.50 L683.16,1114.67 L680.33,1111.84 L677.50,1114.67 L674.67,1111.84 L671.84,1114.67 L674.67,1117.50 L671.84,1120.33 L674.67,1123.16ZM690.50,1142.83 L693.33,1145.66 L696.16,1142.83 L693.33,1140.00 L696.16,1137.17 L693.33,1134.34 L690.50,1137.17 L687.67,1134.34 L684.84,1137.17 L687.67,1140.00 L684.84,1142.83 L687.67,1145.66ZM696.25,1149.08 L699.08,1151.91 L701.91,1149.08 L699.08,1146.25 L701.91,1143.42 L699.08,1140.59 L696.25,1143.42 L693.42,1140.59 L690.59,1143.42 L693.42,1146.25 L690.59,1149.08 L693.42,1151.91ZM378.00,1169.58 L380.83,1172.41 L383.66,1169.58 L380.83,1166.75 L383.66,1163.92 L380.83,1161.09 L378.00,1163.92 L375.17,1161.09 L372.34,1163.92 L375.17,1166.75 L372.34,1169.58 L375.17,1172.41ZM397.50,1174.58 L400.33,1177.41 L403.16,1174.58 L400.33,1171.75 L403.16,1168.92 L400.33,1166.09 L397.50,1168.92 L394.67,1166.09 L391.84,1168.92 L394.67,1171.75 L391.84,1174.58 L394.67,1177.41ZM463.75,1186.08 L466.58,1188.91 L469.41,1186.08 L466.58,1183.25 L469.41,1180.42 L466.58,1177.59 L463.75,1180.42 L460.92,1177.59 L458.09,1180.42 L460.92,1183.25 L458.09,1186.08 L460.92,1188.91ZM660.50,1187.33 L663.33,1190.16 L666.16,1187.33 L663.33,1184.50 L666.16,1181.67 L663.33,1178.84 L660.50,1181.67 L657.67,1178.84 L654.84,1181.67 L657.67,1184.50 L654.84,1187.33 L657.67,1190.16ZM448.75,1201.08 L451.58,1203.91 L454.41,1201.08 L451.58,1198.25 L454.41,1195.42 L451.58,1192.59 L448.75,1195.42 L445.92,1192.59 L443.09,1195.42 L445.92,1198.25 L443.09,1201.08 L445.92,1203.91ZM565.50,1202.33 L568.33,1205.16 L571.16,1202.33 L568.33,1199.50 L571.16,1196.67 L568.33,1193.84 L565.50,1196.67 L562.67,1193.84 L559.84,1196.67 L562.67,1199.50 L559.84,1202.33 L562.67,1205.16ZM505.50,1222.33 L508.33,1225.16 L511.16,1222.33 L508.33,1219.50 L511.16,1216.67 L508.33,1213.84 L505.50,1216.67 L502.67,1213.84 L499.84,1216.67 L502.67,1219.50 L499.84,1222.33 L502.67,1225.16ZM510.00,1226.58 L512.83,1229.41 L515.66,1226.58 L512.83,1223.75 L515.66,1220.92 L512.83,1218.09 L510.00,1220.92 L507.17,1218.09 L504.34,1220.92 L507.17,1223.75 L504.34,1226.58 L507.17,1229.41ZM502.50,1230.33 L505.33,1233.16 L508.16,1230.33 L505.33,1227.50 L508.16,1224.67 L505.33,1221.84 L502.50,1224.67 L499.67,1221.84 L496.84,1224.67 L499.67,1227.50 L496.84,1230.33 L499.67,1233.16ZM508.75,1232.83 L511.58,1235.66 L514.41,1232.83 L511.58,1230.00 L514.41,1227.17 L511.58,1224.34 L508.75,1227.17 L505.92,1224.34 L503.09,1227.17 L505.92,1230.00 L503.09,1232.83 L505.92,1235.66ZM512.50,1221.58 L515.33,1224.41 L518.16,1221.58 L515.33,1218.75 L518.16,1215.92 L515.33,1213.09 L512.50,1215.92 L509.67,1213.09 L506.84,1215.92 L509.67,1218.75 L506.84,1221.58 L509.67,1224.41ZM633.00,1235.33 L635.83,1238.16 L638.66,1235.33 L635.83,1232.50 L638.66,1229.67 L635.83,1226.84 L633.00,1229.67 L630.17,1226.84 L627.34,1229.67 L630.17,1232.50 L627.34,1235.33 L630.17,1238.16Z" fill="#ff0000" stroke="#444444" stroke-width="2" stroke-linejoin="miter"/>
</g>
<g id="sub5">
<clipPath id="clip5"><path d="M937.7,1174.6 L960.7,1154.2 L971.9,1154.2 L1002.8,1126.4 L1014.0,1126.4 L1046.3,1097.5 L1057.5,1097.5 L1088.3,1069.4 L1099.6,1069.4 L1120.6,1050.6 L1131.8,1050.6 L1162.7,1022.6 L1173.9,1022.6 L1204.8,994.5 L1216.0,994.5 L1248.3,965.6 L1258.1,965.6 L1290.4,938.1 L1301.6,938.1 L1333.9,909.5 L1344.5,909.5 L1344.5,919.3 L1354.9,928.3 L1354.9,947.3 L1366.2,957.2 L1366.2,976.8 L1376.5,986.1 L1376.5,1014.7 L1387.2,1024.5 L1387.2,1042.8 L1397.9,1051.7 L1397.9,1070.8 L1408.2,1080.6 L1408.2,1108.7 L1418.9,1118.5 L1418.9,1146.6 L1429.3,1156.4 L1429.3,1192.9 L1440.5,1202.1 L1440.5,1277.3 L1430.1,1286.6 L1430.1,1313.8 L1419.5,1323.6 L1419.5,1343.3 L1408.2,1353.6 L1142.5,1353.6 L1131.8,1344.1 L1110.8,1344.1 L1099.8,1334.6 L1088.7,1325.0 L1077.7,1315.5 L1066.7,1305.9 L1055.7,1296.4 L1044.6,1286.8 L1033.6,1277.3 L1033.6,1267.5 L1022.9,1258.1 L1012.3,1248.8 L1001.6,1239.4 L991.0,1230.1 L980.3,1220.7 L969.7,1211.4 L959.0,1202.0 L948.4,1192.7 L937.7,1183.3 Z"/></clipPath>
<g opacity="0.7"><g clip-path="url(#clip5)">
<path d="M937.7,1174.6 L960.7,1154.2 L971.9,1154.2 L1002.8,1126.4 L1014.0,1126.4 L1046.3,1097.5 L1057.5,1097.5 L1088.3,1069.4 L1099.6,1069.4 L1120.6,1050.6 L1131.8,1050.6 L1162.7,1022.6 L1173.9,1022.6 L1204.8,994.5 L1216.0,994.5 L1248.3,965.6 L1258.1,965.6 L1290.4,938.1 L1301.6,938.1 L1333.9,909.5 L1344.5,909.5 L1344.5,919.3 L1354.9,928.3 L1354.9,947.3 L1366.2,957.2 L1366.2,976.8 L1376.5,986.1 L1376.5,1014.7 L1387.2,1024.5 L1387.2,1042.8 L1397.9,1051.7 L1397.9,1070.8 L1408.2,1080.6 L1408.2,1108.7 L1418.9,1118.5 L1418.9,1146.6 L1429.3,1156.4 L1429.3,1192.9 L1440.5,1202.1 L1440.5,1277.3 L1430.1,1286.6 L1430.1,1313.8 L1419.5,1323.6 L1419.5,1343.3 L1408.2,1353.6 L1142.5,1353.6 L1131.8,1344.1 L1110.8,1344.1 L1099.8,1334.6 L1088.7,1325.0 L1077.7,1315.5 L1066.7,1305.9 L1055.7,1296.4 L1044.6,1286.8 L1033.6,1277.3 L1033.6,1267.5 L1022.9,1258.1 L1012.3,1248.8 L1001.6,1239.4 L991.0,1230.1 L980.3,1220.7 L969.7,1211.4 L959.0,1202.0 L948.4,1192.7 L937.7,1183.3 Z" fill="#60c860"/>
<path d="M1293.2,936.1 C1298.2,942.9 1293.8,944.5 1291.2,948.8 C1288.7,953.0 1283.7,956.0 1277.8,961.4 C1271.8,966.8 1262.8,974.5 1255.3,981.0 C1247.8,987.6 1240.3,994.1 1232.9,1000.7 C1225.4,1007.2 1217.9,1013.8 1210.4,1020.3 C1202.9,1026.9 1195.4,1033.4 1188.0,1040.0 C1180.5,1046.5 1171.6,1054.0 1165.5,1059.6 C1159.4,1065.2 1155.7,1070.6 1151.5,1073.6 C1147.3,1076.7 1144.0,1077.6 1140.3,1077.8 C1136.5,1078.1 1131.9,1076.6 1129.0,1075.0 C1126.1,1073.5 1123.3,1071.1 1122.9,1068.6 C1122.4,1066.0 1124.5,1063.0 1126.2,1059.6 C1128.0,1056.2 1134.2,1054.0 1133.2,1048.4 C1132.3,1042.8 1099.3,1049.3 1120.6,1025.9 C1141.9,1002.5 1232.2,923.0 1260.9,908.1 C1289.7,893.1 1288.1,929.3 1293.2,936.1 Z" fill="#2dae7f" stroke="#000000" stroke-width="1.0" stroke-linejoin="round"/>
<path d="M1343.7,930.5 C1341.6,931.4 1339.3,934.3 1336.7,938.9 C1334.1,943.6 1331.1,952.0 1328.3,958.6 C1325.5,965.1 1322.0,971.7 1319.9,978.2 C1317.7,984.8 1316.1,991.8 1315.6,997.9 C1315.2,1003.9 1315.9,1009.6 1317.0,1014.7 C1318.2,1019.8 1321.0,1024.0 1322.7,1028.7 C1324.3,1033.4 1325.0,1039.1 1326.9,1042.8 C1328.7,1046.4 1330.8,1049.7 1333.9,1050.6 C1336.9,1051.5 1340.9,1049.2 1345.1,1048.4 C1349.3,1047.5 1355.2,1047.4 1359.1,1045.6 C1363.1,1043.7 1367.1,1042.3 1369.0,1037.1 C1370.8,1032.0 1370.6,1022.2 1370.4,1014.7 C1370.1,1007.2 1368.9,999.3 1367.6,992.2 C1366.2,985.2 1363.5,979.2 1362.5,972.6 C1361.5,966.1 1362.6,958.5 1361.4,953.0 C1360.1,947.4 1356.9,942.8 1354.9,939.5 C1352.9,936.2 1351.2,934.8 1349.3,933.3 C1347.4,931.8 1345.8,929.6 1343.7,930.5 Z" fill="#2dae7f" stroke="#000000" stroke-width="1.0" stroke-linejoin="round"/>
<path d="M1266.5,1122.7 C1262.3,1122.0 1253.0,1124.1 1246.9,1125.5 C1240.8,1126.9 1234.3,1128.6 1230.1,1131.2 C1225.8,1133.7 1222.8,1137.0 1221.6,1141.0 C1220.5,1144.9 1221.9,1149.9 1223.0,1155.0 C1224.2,1160.1 1226.5,1165.8 1228.7,1171.8 C1230.8,1177.9 1232.9,1185.4 1235.7,1191.5 C1238.5,1197.6 1242.2,1202.7 1245.5,1208.3 C1248.8,1213.9 1252.7,1220.7 1255.3,1225.2 C1257.9,1229.6 1258.8,1232.5 1260.9,1235.0 C1263.0,1237.4 1265.8,1240.2 1267.9,1239.7 C1270.0,1239.3 1272.0,1236.9 1273.6,1232.2 C1275.1,1227.4 1276.4,1218.4 1277.2,1211.1 C1278.0,1203.9 1278.3,1196.2 1278.3,1188.7 C1278.3,1181.2 1277.8,1173.7 1277.2,1166.2 C1276.6,1158.7 1275.8,1149.9 1275.0,1143.8 C1274.1,1137.7 1273.6,1133.3 1272.1,1129.7 C1270.7,1126.2 1270.7,1123.4 1266.5,1122.7 Z" fill="#2dae7f" stroke="#000000" stroke-width="1.0" stroke-linejoin="round"/>
<path d="M1195.0,1169.0 C1191.9,1169.7 1187.8,1171.8 1185.2,1174.6 C1182.5,1177.5 1179.7,1181.2 1179.0,1185.9 C1178.3,1190.5 1179.2,1197.1 1180.9,1202.7 C1182.7,1208.3 1185.9,1214.6 1189.4,1219.5 C1192.9,1224.5 1197.1,1228.9 1202.0,1232.2 C1206.9,1235.4 1213.2,1237.5 1218.8,1239.2 C1224.4,1240.9 1231.8,1242.8 1235.7,1242.6 C1239.5,1242.3 1241.4,1240.7 1241.8,1237.8 C1242.3,1234.9 1240.4,1230.1 1238.5,1225.2 C1236.5,1220.2 1233.3,1213.9 1230.1,1208.3 C1226.8,1202.7 1222.1,1196.6 1218.8,1191.5 C1215.6,1186.3 1213.0,1181.0 1210.4,1177.5 C1207.8,1173.9 1206.0,1171.8 1203.4,1170.4 C1200.8,1169.0 1198.0,1168.3 1195.0,1169.0 Z" fill="#acdc31" stroke="#000000" stroke-width="1.0" stroke-linejoin="round"/>
<path d="M1204.2,1200.5 C1203.0,1200.7 1200.7,1202.3 1200.6,1204.1 C1200.5,1205.9 1202.1,1209.6 1203.4,1211.1 C1204.7,1212.6 1206.8,1213.3 1208.2,1213.1 C1209.6,1212.9 1211.8,1211.5 1211.8,1209.7 C1211.8,1208.0 1209.4,1204.3 1208.2,1202.7 C1206.9,1201.2 1205.5,1200.2 1204.2,1200.5 Z" fill="#fde725" stroke="#000000" stroke-width="1.0" stroke-linejoin="round"/>
<path d="M1354.9,1206.9 C1351.1,1207.2 1346.7,1209.5 1342.3,1212.5 C1337.9,1215.6 1332.9,1220.2 1328.3,1225.2 C1323.6,1230.1 1318.4,1236.6 1314.2,1242.0 C1310.0,1247.4 1304.0,1254.2 1303.0,1257.4 C1302.1,1260.7 1304.4,1260.6 1308.6,1261.6 C1312.8,1262.7 1322.2,1263.5 1328.3,1263.6 C1334.4,1263.7 1340.4,1263.5 1345.1,1262.2 C1349.8,1260.9 1353.3,1259.4 1356.3,1256.0 C1359.4,1252.7 1361.7,1247.1 1363.3,1242.0 C1365.0,1236.8 1365.8,1230.3 1366.2,1225.2 C1366.5,1220.0 1367.2,1214.2 1365.3,1211.1 C1363.4,1208.1 1358.8,1206.7 1354.9,1206.9 Z" fill="#2dae7f" stroke="#000000" stroke-width="1.0" stroke-linejoin="round"/>
<path d="M1022.4,1145.2 C1023.1,1146.4 1029.4,1148.2 1033.6,1148.5 C1037.8,1148.9 1043.0,1148.3 1047.7,1147.1 C1052.3,1146.0 1057.3,1143.5 1061.7,1141.5 C1066.0,1139.6 1072.6,1137.2 1073.8,1135.4 C1074.9,1133.5 1071.4,1131.3 1068.7,1130.6 C1066.0,1129.9 1061.9,1130.3 1057.5,1131.2 C1053.0,1132.0 1046.7,1134.2 1042.0,1135.9 C1037.4,1137.7 1032.7,1140.0 1029.4,1141.5 C1026.1,1143.1 1021.7,1144.0 1022.4,1145.2 Z" fill="#2dae7f" stroke="#000000" stroke-width="1.0" stroke-linejoin="round"/>
<path d="M1156.5,1126.9 C1156.5,1128.8 1157.5,1132.1 1158.5,1134.0 C1159.5,1135.8 1161.3,1138.4 1162.7,1138.2 C1164.1,1137.9 1166.1,1134.8 1166.9,1132.6 C1167.8,1130.3 1168.5,1126.7 1167.8,1124.7 C1167.1,1122.7 1164.3,1121.1 1162.7,1120.8 C1161.2,1120.4 1159.5,1121.7 1158.5,1122.7 C1157.5,1123.8 1156.5,1125.1 1156.5,1126.9 Z" fill="#2dae7f" stroke="#000000" stroke-width="1.0" stroke-linejoin="round"/>
<path d="M1157.7,1173.2 C1157.2,1174.6 1159.0,1177.6 1159.9,1178.9 C1160.8,1180.1 1162.4,1181.5 1163.3,1180.8 C1164.1,1180.1 1165.0,1176.4 1165.0,1174.6 C1164.9,1172.9 1163.9,1170.7 1162.7,1170.4 C1161.5,1170.2 1158.1,1171.8 1157.7,1173.2 Z" fill="#2dae7f" stroke="#000000" stroke-width="1.0" stroke-linejoin="round"/>
<path d="M1216.0,1115.7 C1216.0,1117.7 1218.8,1119.7 1221.6,1119.9 C1224.4,1120.2 1228.7,1119.2 1232.9,1117.1 C1237.1,1115.0 1245.5,1109.6 1246.9,1107.3 C1248.3,1105.0 1243.9,1103.9 1241.3,1103.1 C1238.7,1102.3 1234.7,1101.7 1231.5,1102.5 C1228.2,1103.3 1224.2,1105.7 1221.6,1107.9 C1219.1,1110.1 1216.0,1113.7 1216.0,1115.7 Z" fill="#2dae7f" stroke="#000000" stroke-width="1.0" stroke-linejoin="round"/>
<path d="M1280.6,1110.1 C1280.3,1112.7 1284.3,1115.0 1286.2,1115.7 C1288.0,1116.4 1289.9,1116.2 1291.8,1114.3 C1293.7,1112.4 1295.6,1107.3 1297.4,1104.5 C1299.2,1101.7 1302.9,1099.0 1302.5,1097.5 C1302.0,1096.0 1297.1,1095.0 1294.6,1095.5 C1292.1,1096.0 1289.9,1097.9 1287.6,1100.3 C1285.2,1102.7 1280.8,1107.5 1280.6,1110.1 Z" fill="#2dae7f" stroke="#000000" stroke-width="1.0" stroke-linejoin="round"/>
<path d="M1271.6,1079.8 C1271.6,1080.3 1270.9,1081.0 1270.2,1081.3 C1269.5,1081.5 1268.1,1081.5 1267.4,1081.3 C1266.7,1081.0 1266.0,1080.3 1266.0,1079.8 C1266.0,1079.3 1266.7,1078.6 1267.4,1078.3 C1268.1,1078.1 1269.5,1078.1 1270.2,1078.3 C1270.9,1078.6 1271.6,1079.3 1271.6,1079.8 Z" fill="#2dae7f" stroke="#000000" stroke-width="1.0" stroke-linejoin="round"/>
<path d="M1345.7,1089.1 C1345.7,1089.8 1344.6,1090.9 1343.6,1091.2 C1342.5,1091.6 1340.4,1091.6 1339.4,1091.2 C1338.3,1090.9 1337.2,1089.8 1337.2,1089.1 C1337.2,1088.3 1338.3,1087.2 1339.4,1086.9 C1340.4,1086.5 1342.5,1086.5 1343.6,1086.9 C1344.6,1087.2 1345.7,1088.3 1345.7,1089.1 Z" fill="#2dae7f" stroke="#000000" stroke-width="1.0" stroke-linejoin="round"/>
<path d="M1349.3,1115.2 C1349.4,1117.3 1351.0,1119.7 1353.5,1121.3 C1356.1,1123.0 1361.7,1125.2 1364.8,1125.0 C1367.8,1124.7 1370.8,1121.9 1371.8,1119.9 C1372.7,1117.9 1372.0,1114.9 1370.4,1112.9 C1368.7,1110.9 1364.8,1108.6 1361.9,1107.9 C1359.0,1107.2 1355.1,1107.5 1353.0,1108.7 C1350.9,1109.9 1349.2,1113.1 1349.3,1115.2 Z" fill="#2dae7f" stroke="#000000" stroke-width="1.0" stroke-linejoin="round"/>
<path d="M1382.1,1107.9 C1382.2,1109.3 1384.7,1109.5 1387.2,1109.5 C1389.7,1109.5 1396.1,1108.9 1397.0,1107.9 C1398.0,1106.8 1394.5,1104.2 1392.8,1103.1 C1391.1,1102.0 1388.4,1100.3 1386.6,1101.1 C1384.9,1101.9 1382.1,1106.5 1382.1,1107.9 Z" fill="#2dae7f" stroke="#000000" stroke-width="1.0" stroke-linejoin="round"/>
<path d="M1110.1,1230.7 C1109.9,1231.3 1109.3,1232.1 1108.8,1232.3 C1108.4,1232.5 1107.7,1232.2 1107.5,1231.8 C1107.3,1231.4 1107.3,1230.3 1107.5,1229.7 C1107.7,1229.1 1108.4,1228.3 1108.8,1228.1 C1109.3,1228.0 1109.9,1228.2 1110.2,1228.6 C1110.4,1229.0 1110.4,1230.1 1110.1,1230.7 Z" fill="#2dae7f" stroke="#000000" stroke-width="1.0" stroke-linejoin="round"/>
<path d="M1122.6,1249.9 C1122.6,1250.4 1122.1,1251.3 1121.6,1251.6 C1121.1,1251.8 1120.1,1251.8 1119.6,1251.6 C1119.1,1251.3 1118.7,1250.4 1118.7,1249.9 C1118.7,1249.3 1119.1,1248.4 1119.6,1248.1 C1120.1,1247.9 1121.1,1247.9 1121.6,1248.1 C1122.1,1248.4 1122.6,1249.3 1122.6,1249.9 Z" fill="#2dae7f" stroke="#000000" stroke-width="1.0" stroke-linejoin="round"/>
<path d="M995.7,1233.8 C1002.8,1234.8 1014.2,1243.2 1022.4,1247.9 C1030.6,1252.5 1037.8,1257.2 1044.8,1261.9 C1051.9,1266.6 1058.9,1271.5 1064.5,1275.9 C1070.1,1280.4 1074.3,1284.6 1078.5,1288.5 C1082.7,1292.5 1086.6,1296.3 1089.7,1299.8 C1092.9,1303.3 1096.1,1306.6 1097.6,1309.6 C1099.1,1312.6 1099.3,1314.7 1098.7,1318.0 C1098.1,1321.3 1097.3,1326.0 1094.0,1329.2 C1090.6,1332.5 1097.5,1352.2 1078.5,1337.7 C1059.6,1323.2 994.1,1259.6 980.3,1242.2 C966.5,1224.9 988.7,1232.9 995.7,1233.8 Z" fill="#2dae7f" stroke="#000000" stroke-width="1.0" stroke-linejoin="round"/>
<path d="M1131.8,1345.5 C1131.1,1341.5 1134.2,1341.1 1137.5,1339.1 C1140.7,1337.0 1145.4,1335.2 1151.5,1333.4 C1157.6,1331.7 1166.9,1328.8 1173.9,1328.7 C1180.9,1328.5 1187.0,1330.9 1193.6,1332.6 C1200.1,1334.3 1207.4,1336.6 1213.2,1339.1 C1219.1,1341.5 1225.1,1344.9 1228.7,1347.5 C1232.2,1350.0 1238.2,1351.9 1234.3,1354.5 C1230.3,1357.1 1220.2,1361.5 1204.8,1362.9 C1189.4,1364.3 1153.8,1365.8 1141.7,1362.9 C1129.5,1360.0 1132.5,1349.5 1131.8,1345.5 Z" fill="#2dae7f" stroke="#000000" stroke-width="1.0" stroke-linejoin="round"/>
<path d="M1166.9,1280.1 C1166.7,1281.4 1169.0,1284.8 1171.1,1287.1 C1173.2,1289.5 1177.4,1293.7 1179.5,1294.2 C1181.6,1294.6 1184.0,1291.8 1183.8,1290.0 C1183.5,1288.1 1180.0,1284.7 1178.1,1282.9 C1176.3,1281.2 1174.4,1279.8 1172.5,1279.3 C1170.7,1278.8 1167.2,1278.8 1166.9,1280.1 Z" fill="#2dae7f" stroke="#000000" stroke-width="1.0" stroke-linejoin="round"/>
<path d="M1152.9,1299.8 C1152.2,1301.3 1152.9,1304.8 1154.3,1306.8 C1155.7,1308.8 1159.2,1311.6 1161.3,1311.6 C1163.4,1311.6 1166.2,1308.8 1166.9,1306.8 C1167.6,1304.8 1166.9,1301.3 1165.5,1299.8 C1164.1,1298.2 1160.6,1297.5 1158.5,1297.5 C1156.4,1297.5 1153.6,1298.2 1152.9,1299.8 Z" fill="#2dae7f" stroke="#000000" stroke-width="1.0" stroke-linejoin="round"/>
<path d="M1363.3,1264.7 C1361.1,1266.7 1359.9,1271.9 1359.7,1275.9 C1359.5,1279.9 1360.4,1285.0 1361.9,1288.5 C1363.5,1292.1 1366.6,1295.3 1369.0,1297.0 C1371.3,1298.6 1374.1,1299.5 1376.0,1298.4 C1377.8,1297.2 1378.5,1292.8 1380.2,1290.0 C1381.8,1287.1 1383.9,1283.7 1385.8,1281.5 C1387.7,1279.3 1391.9,1278.9 1391.4,1276.8 C1390.9,1274.7 1386.0,1271.0 1383.0,1268.9 C1380.0,1266.8 1376.4,1264.8 1373.2,1264.1 C1369.9,1263.4 1365.6,1262.7 1363.3,1264.7 Z" fill="#2dae7f" stroke="#000000" stroke-width="1.0" stroke-linejoin="round"/>
<path d="M1282.8,1315.2 C1283.5,1317.2 1285.6,1321.8 1289.0,1323.6 C1292.4,1325.5 1298.8,1325.0 1303.0,1326.4 C1307.2,1327.8 1311.0,1329.2 1314.2,1332.0 C1317.5,1334.8 1320.6,1339.5 1322.7,1343.3 C1324.8,1347.0 1323.1,1350.8 1326.9,1354.5 C1330.6,1358.2 1332.7,1363.8 1345.1,1365.7 C1357.5,1367.6 1390.2,1367.6 1401.2,1365.7 C1412.2,1363.8 1410.1,1358.2 1411.1,1354.5 C1412.0,1350.8 1408.5,1346.3 1406.8,1343.3 C1405.2,1340.2 1404.5,1338.4 1401.2,1336.3 C1398.0,1334.1 1392.3,1332.5 1387.2,1330.6 C1382.1,1328.8 1375.0,1327.4 1370.4,1325.0 C1365.7,1322.7 1363.3,1318.2 1359.1,1316.6 C1354.9,1315.0 1350.3,1314.7 1345.1,1315.2 C1340.0,1315.7 1333.4,1318.2 1328.3,1319.4 C1323.1,1320.6 1318.4,1322.5 1314.2,1322.2 C1310.0,1321.9 1306.8,1319.3 1303.0,1317.5 C1299.3,1315.6 1294.8,1311.9 1291.8,1311.0 C1288.8,1310.1 1286.3,1311.1 1284.8,1311.8 C1283.3,1312.5 1282.1,1313.2 1282.8,1315.2 Z" fill="#2dae7f" stroke="#000000" stroke-width="1.0" stroke-linejoin="round"/>
<path d="M1322.7,1332.0 C1322.2,1334.8 1326.4,1339.5 1328.3,1343.3 C1330.1,1347.0 1331.1,1351.0 1333.9,1354.5 C1336.7,1358.0 1336.2,1362.7 1345.1,1364.3 C1354.0,1366.0 1378.8,1366.0 1387.2,1364.3 C1395.6,1362.7 1395.6,1358.0 1395.6,1354.5 C1395.6,1351.0 1390.9,1347.0 1387.2,1343.3 C1383.5,1339.5 1377.8,1335.1 1373.2,1332.0 C1368.5,1329.0 1363.8,1326.7 1359.1,1325.0 C1354.5,1323.4 1349.8,1322.0 1345.1,1322.2 C1340.4,1322.5 1334.8,1324.8 1331.1,1326.4 C1327.3,1328.1 1323.1,1329.2 1322.7,1332.0 Z" fill="#22908c" stroke="#000000" stroke-width="1.0" stroke-linejoin="round"/>
<path d="M1331.1,1333.4 C1331.3,1335.6 1336.7,1339.8 1339.5,1343.3 C1342.3,1346.8 1345.1,1351.2 1347.9,1354.5 C1350.7,1357.8 1351.2,1361.5 1356.3,1362.9 C1361.5,1364.3 1374.3,1364.3 1378.8,1362.9 C1383.2,1361.5 1383.9,1358.0 1383.0,1354.5 C1382.1,1351.0 1376.7,1345.4 1373.2,1341.9 C1369.7,1338.4 1366.2,1335.5 1361.9,1333.4 C1357.7,1331.4 1351.9,1330.3 1347.9,1329.8 C1343.9,1329.3 1340.9,1330.0 1338.1,1330.6 C1335.3,1331.2 1330.8,1331.3 1331.1,1333.4 Z" fill="#2d728e" stroke="#000000" stroke-width="1.0" stroke-linejoin="round"/>
<path d="M1356.3,1348.9 C1355.4,1350.4 1358.2,1352.4 1359.1,1354.5 C1360.1,1356.6 1359.6,1360.3 1361.9,1361.5 C1364.3,1362.7 1371.1,1362.7 1373.2,1361.5 C1375.3,1360.3 1374.8,1356.6 1374.6,1354.5 C1374.3,1352.4 1373.4,1350.4 1371.8,1348.9 C1370.1,1347.4 1367.3,1345.5 1364.8,1345.5 C1362.2,1345.5 1357.3,1347.4 1356.3,1348.9 Z" fill="#3b518a" stroke="#000000" stroke-width="1.0" stroke-linejoin="round"/>
<path d="M1368.7,1352.2 C1368.7,1353.1 1367.7,1354.3 1366.7,1354.7 C1365.7,1355.1 1363.8,1355.1 1362.8,1354.7 C1361.8,1354.3 1360.8,1353.1 1360.8,1352.2 C1360.8,1351.4 1361.8,1350.2 1362.8,1349.8 C1363.8,1349.4 1365.7,1349.4 1366.7,1349.8 C1367.7,1350.2 1368.7,1351.4 1368.7,1352.2 Z" fill="#472c7a" stroke="#000000" stroke-width="1.0" stroke-linejoin="round"/>
<path d="M1296.0,1355.9 C1295.5,1354.3 1298.3,1351.2 1300.2,1350.3 C1302.1,1349.3 1305.4,1349.3 1307.2,1350.3 C1309.1,1351.2 1312.1,1354.3 1311.4,1355.9 C1310.7,1357.5 1305.6,1360.1 1303.0,1360.1 C1300.4,1360.1 1296.5,1357.5 1296.0,1355.9 Z" fill="#acdc31" stroke="#000000" stroke-width="1.0" stroke-linejoin="round"/>
</g></g>
<path d="M1166.92,1076.45 L1169.75,1079.28 L1172.58,1076.45 L1169.75,1073.62 L1172.58,1070.79 L1169.75,1067.96 L1166.92,1070.79 L1164.09,1067.96 L1161.26,1070.79 L1164.09,1073.62 L1161.26,1076.45 L1164.09,1079.28ZM1162.15,1087.68 L1164.98,1090.51 L1167.81,1087.68 L1164.98,1084.85 L1167.81,1082.02 L1164.98,1079.19 L1162.15,1082.02 L1159.32,1079.19 L1156.49,1082.02 L1159.32,1084.85 L1156.49,1087.68 L1159.32,1090.51ZM1175.90,1132.02 L1178.73,1134.85 L1181.56,1132.02 L1178.73,1129.19 L1181.56,1126.36 L1178.73,1123.53 L1175.90,1126.36 L1173.07,1123.53 L1170.24,1126.36 L1173.07,1129.19 L1170.24,1132.02 L1173.07,1134.85ZM1193.58,1132.58 L1196.41,1135.41 L1199.24,1132.58 L1196.41,1129.75 L1199.24,1126.92 L1196.41,1124.09 L1193.58,1126.92 L1190.75,1124.09 L1187.92,1126.92 L1190.75,1129.75 L1187.92,1132.58 L1190.75,1135.41ZM1265.69,1106.76 L1268.52,1109.59 L1271.35,1106.76 L1268.52,1103.93 L1271.35,1101.10 L1268.52,1098.27 L1265.69,1101.10 L1262.86,1098.27 L1260.03,1101.10 L1262.86,1103.93 L1260.03,1106.76 L1262.86,1109.59ZM1273.55,1098.34 L1276.38,1101.17 L1279.21,1098.34 L1276.38,1095.51 L1279.21,1092.68 L1276.38,1089.85 L1273.55,1092.68 L1270.72,1089.85 L1267.89,1092.68 L1270.72,1095.51 L1267.89,1098.34 L1270.72,1101.17ZM1270.74,1115.74 L1273.57,1118.57 L1276.40,1115.74 L1273.57,1112.91 L1276.40,1110.08 L1273.57,1107.25 L1270.74,1110.08 L1267.91,1107.25 L1265.08,1110.08 L1267.91,1112.91 L1265.08,1115.74 L1267.91,1118.57ZM1276.36,1119.95 L1279.19,1122.78 L1282.02,1119.95 L1279.19,1117.12 L1282.02,1114.29 L1279.19,1111.46 L1276.36,1114.29 L1273.53,1111.46 L1270.70,1114.29 L1273.53,1117.12 L1270.70,1119.95 L1273.53,1122.78ZM1273.55,1117.99 L1276.38,1120.82 L1279.21,1117.99 L1276.38,1115.16 L1279.21,1112.33 L1276.38,1109.50 L1273.55,1112.33 L1270.72,1109.50 L1267.89,1112.33 L1270.72,1115.16 L1267.89,1117.99 L1270.72,1120.82ZM1308.63,1098.34 L1311.46,1101.17 L1314.29,1098.34 L1311.46,1095.51 L1314.29,1092.68 L1311.46,1089.85 L1308.63,1092.68 L1305.80,1089.85 L1302.97,1092.68 L1305.80,1095.51 L1302.97,1098.34 L1305.80,1101.17ZM1332.48,1091.89 L1335.31,1094.72 L1338.14,1091.89 L1335.31,1089.06 L1338.14,1086.23 L1335.31,1083.40 L1332.48,1086.23 L1329.65,1083.40 L1326.82,1086.23 L1329.65,1089.06 L1326.82,1091.89 L1329.65,1094.72ZM1354.09,1134.82 L1356.92,1137.65 L1359.75,1134.82 L1356.92,1131.99 L1359.75,1129.16 L1356.92,1126.33 L1354.09,1129.16 L1351.26,1126.33 L1348.43,1129.16 L1351.26,1131.99 L1348.43,1134.82 L1351.26,1137.65ZM1384.39,1152.78 L1387.22,1155.61 L1390.05,1152.78 L1387.22,1149.95 L1390.05,1147.12 L1387.22,1144.29 L1384.39,1147.12 L1381.56,1144.29 L1378.73,1147.12 L1381.56,1149.95 L1378.73,1152.78 L1381.56,1155.61ZM1401.79,1142.96 L1404.62,1145.79 L1407.45,1142.96 L1404.62,1140.13 L1407.45,1137.30 L1404.62,1134.47 L1401.79,1137.30 L1398.96,1134.47 L1396.13,1137.30 L1398.96,1140.13 L1396.13,1142.96 L1398.96,1145.79ZM1420.87,1150.26 L1423.70,1153.09 L1426.53,1150.26 L1423.70,1147.43 L1426.53,1144.60 L1423.70,1141.77 L1420.87,1144.60 L1418.04,1141.77 L1415.21,1144.60 L1418.04,1147.43 L1415.21,1150.26 L1418.04,1153.09ZM1421.43,1170.46 L1424.26,1173.29 L1427.09,1170.46 L1424.26,1167.63 L1427.09,1164.80 L1424.26,1161.97 L1421.43,1164.80 L1418.60,1161.97 L1415.77,1164.80 L1418.60,1167.63 L1415.77,1170.46 L1418.60,1173.29ZM1426.49,1171.30 L1429.32,1174.13 L1432.15,1171.30 L1429.32,1168.47 L1432.15,1165.64 L1429.32,1162.81 L1426.49,1165.64 L1423.66,1162.81 L1420.83,1165.64 L1423.66,1168.47 L1420.83,1171.30 L1423.66,1174.13ZM1430.69,1173.27 L1433.52,1176.10 L1436.35,1173.27 L1433.52,1170.44 L1436.35,1167.61 L1433.52,1164.78 L1430.69,1167.61 L1427.86,1164.78 L1425.03,1167.61 L1427.86,1170.44 L1425.03,1173.27 L1427.86,1176.10ZM1375.13,1180.28 L1377.96,1183.11 L1380.79,1180.28 L1377.96,1177.45 L1380.79,1174.62 L1377.96,1171.79 L1375.13,1174.62 L1372.30,1171.79 L1369.47,1174.62 L1372.30,1177.45 L1369.47,1180.28 L1372.30,1183.11ZM1420.31,1200.77 L1423.14,1203.60 L1425.97,1200.77 L1423.14,1197.94 L1425.97,1195.11 L1423.14,1192.28 L1420.31,1195.11 L1417.48,1192.28 L1414.65,1195.11 L1417.48,1197.94 L1414.65,1200.77 L1417.48,1203.60ZM1142.50,1208.34 L1145.33,1211.17 L1148.16,1208.34 L1145.33,1205.51 L1148.16,1202.68 L1145.33,1199.85 L1142.50,1202.68 L1139.67,1199.85 L1136.84,1202.68 L1139.67,1205.51 L1136.84,1208.34 L1139.67,1211.17ZM1132.40,1220.41 L1135.23,1223.24 L1138.06,1220.41 L1135.23,1217.58 L1138.06,1214.75 L1135.23,1211.92 L1132.40,1214.75 L1129.57,1211.92 L1126.74,1214.75 L1129.57,1217.58 L1126.74,1220.41 L1129.57,1223.24ZM1126.23,1216.76 L1129.06,1219.59 L1131.89,1216.76 L1129.06,1213.93 L1131.89,1211.10 L1129.06,1208.27 L1126.23,1211.10 L1123.40,1208.27 L1120.57,1211.10 L1123.40,1213.93 L1120.57,1216.76 L1123.40,1219.59ZM1120.05,1223.22 L1122.88,1226.05 L1125.71,1223.22 L1122.88,1220.39 L1125.71,1217.56 L1122.88,1214.73 L1120.05,1217.56 L1117.22,1214.73 L1114.39,1217.56 L1117.22,1220.39 L1114.39,1223.22 L1117.22,1226.05ZM1112.20,1220.97 L1115.03,1223.80 L1117.86,1220.97 L1115.03,1218.14 L1117.86,1215.31 L1115.03,1212.48 L1112.20,1215.31 L1109.37,1212.48 L1106.54,1215.31 L1109.37,1218.14 L1106.54,1220.97 L1109.37,1223.80ZM1116.41,1219.01 L1119.24,1221.84 L1122.07,1219.01 L1119.24,1216.18 L1122.07,1213.35 L1119.24,1210.52 L1116.41,1213.35 L1113.58,1210.52 L1110.75,1213.35 L1113.58,1216.18 L1110.75,1219.01 L1113.58,1221.84ZM1410.49,1238.37 L1413.32,1241.20 L1416.15,1238.37 L1413.32,1235.54 L1416.15,1232.71 L1413.32,1229.88 L1410.49,1232.71 L1407.66,1229.88 L1404.83,1232.71 L1407.66,1235.54 L1404.83,1238.37 L1407.66,1241.20ZM1179.54,1251.00 L1182.37,1253.83 L1185.20,1251.00 L1182.37,1248.17 L1185.20,1245.34 L1182.37,1242.51 L1179.54,1245.34 L1176.71,1242.51 L1173.88,1245.34 L1176.71,1248.17 L1173.88,1251.00 L1176.71,1253.83ZM1166.07,1261.66 L1168.90,1264.49 L1171.73,1261.66 L1168.90,1258.83 L1171.73,1256.00 L1168.90,1253.17 L1166.07,1256.00 L1163.24,1253.17 L1160.41,1256.00 L1163.24,1258.83 L1160.41,1261.66 L1163.24,1264.49ZM1390.57,1262.22 L1393.40,1265.05 L1396.23,1262.22 L1393.40,1259.39 L1396.23,1256.56 L1393.40,1253.73 L1390.57,1256.56 L1387.74,1253.73 L1384.91,1256.56 L1387.74,1259.39 L1384.91,1262.22 L1387.74,1265.05ZM1415.26,1258.85 L1418.09,1261.68 L1420.92,1258.85 L1418.09,1256.02 L1420.92,1253.19 L1418.09,1250.36 L1415.26,1253.19 L1412.43,1250.36 L1409.60,1253.19 L1412.43,1256.02 L1409.60,1258.85 L1412.43,1261.68ZM1420.31,1259.42 L1423.14,1262.25 L1425.97,1259.42 L1423.14,1256.59 L1425.97,1253.76 L1423.14,1250.93 L1420.31,1253.76 L1417.48,1250.93 L1414.65,1253.76 L1417.48,1256.59 L1414.65,1259.42 L1417.48,1262.25ZM1164.67,1284.95 L1167.50,1287.78 L1170.33,1284.95 L1167.50,1282.12 L1170.33,1279.29 L1167.50,1276.46 L1164.67,1279.29 L1161.84,1276.46 L1159.01,1279.29 L1161.84,1282.12 L1159.01,1284.95 L1161.84,1287.78ZM1353.53,1288.32 L1356.36,1291.15 L1359.19,1288.32 L1356.36,1285.49 L1359.19,1282.66 L1356.36,1279.83 L1353.53,1282.66 L1350.70,1279.83 L1347.87,1282.66 L1350.70,1285.49 L1347.87,1288.32 L1350.70,1291.15ZM1155.69,1301.51 L1158.52,1304.34 L1161.35,1301.51 L1158.52,1298.68 L1161.35,1295.85 L1158.52,1293.02 L1155.69,1295.85 L1152.86,1293.02 L1150.03,1295.85 L1152.86,1298.68 L1150.03,1301.51 L1152.86,1304.34ZM1183.75,1301.51 L1186.58,1304.34 L1189.41,1301.51 L1186.58,1298.68 L1189.41,1295.85 L1186.58,1293.02 L1183.75,1295.85 L1180.92,1293.02 L1178.09,1295.85 L1180.92,1298.68 L1178.09,1301.51 L1180.92,1304.34ZM1227.25,1301.51 L1230.08,1304.34 L1232.91,1301.51 L1230.08,1298.68 L1232.91,1295.85 L1230.08,1293.02 L1227.25,1295.85 L1224.42,1293.02 L1221.59,1295.85 L1224.42,1298.68 L1221.59,1301.51 L1224.42,1304.34ZM1373.17,1306.56 L1376.00,1309.39 L1378.83,1306.56 L1376.00,1303.73 L1378.83,1300.90 L1376.00,1298.07 L1373.17,1300.90 L1370.34,1298.07 L1367.51,1300.90 L1370.34,1303.73 L1367.51,1306.56 L1370.34,1309.39ZM1194.98,1312.17 L1197.81,1315.00 L1200.64,1312.17 L1197.81,1309.34 L1200.64,1306.51 L1197.81,1303.68 L1194.98,1306.51 L1192.15,1303.68 L1189.32,1306.51 L1192.15,1309.34 L1189.32,1312.17 L1192.15,1315.00ZM1366.15,1314.98 L1368.98,1317.81 L1371.81,1314.98 L1368.98,1312.15 L1371.81,1309.32 L1368.98,1306.49 L1366.15,1309.32 L1363.32,1306.49 L1360.49,1309.32 L1363.32,1312.15 L1360.49,1314.98 L1363.32,1317.81ZM1109.95,1339.64 L1112.78,1342.47 L1115.61,1339.64 L1112.78,1336.81 L1115.61,1333.98 L1112.78,1331.15 L1109.95,1333.98 L1107.12,1331.15 L1104.29,1333.98 L1107.12,1336.81 L1104.29,1339.64 L1107.12,1342.47ZM1304.42,1334.87 L1307.25,1337.70 L1310.08,1334.87 L1307.25,1332.04 L1310.08,1329.21 L1307.25,1326.38 L1304.42,1329.21 L1301.59,1326.38 L1298.76,1329.21 L1301.59,1332.04 L1298.76,1334.87 L1301.59,1337.70ZM1311.43,1339.08 L1314.26,1341.91 L1317.09,1339.08 L1314.26,1336.25 L1317.09,1333.42 L1314.26,1330.59 L1311.43,1333.42 L1308.60,1330.59 L1305.77,1333.42 L1308.60,1336.25 L1305.77,1339.08 L1308.60,1341.91ZM1303.01,1344.69 L1305.84,1347.52 L1308.67,1344.69 L1305.84,1341.86 L1308.67,1339.03 L1305.84,1336.20 L1303.01,1339.03 L1300.18,1336.20 L1297.35,1339.03 L1300.18,1341.86 L1297.35,1344.69 L1300.18,1347.52ZM1312.84,1345.54 L1315.67,1348.37 L1318.50,1345.54 L1315.67,1342.71 L1318.50,1339.88 L1315.67,1337.05 L1312.84,1339.88 L1310.01,1337.05 L1307.18,1339.88 L1310.01,1342.71 L1307.18,1345.54 L1310.01,1348.37ZM1307.22,1340.49 L1310.05,1343.32 L1312.88,1340.49 L1310.05,1337.66 L1312.88,1334.83 L1310.05,1332.00 L1307.22,1334.83 L1304.39,1332.00 L1301.56,1334.83 L1304.39,1337.66 L1301.56,1340.49 L1304.39,1343.32ZM1414.42,1364.90 L1417.25,1367.73 L1420.08,1364.90 L1417.25,1362.07 L1420.08,1359.24 L1417.25,1356.41 L1414.42,1359.24 L1411.59,1356.41 L1408.76,1359.24 L1411.59,1362.07 L1408.76,1364.90 L1411.59,1367.73Z" fill="#ff0000" stroke="#444444" stroke-width="2" stroke-linejoin="miter"/>
</g>
<text x="1201" y="110" font-size="59" font-weight="bold" fill="#6e6e6e" text-anchor="middle" textLength="1116" lengthAdjust="spacingAndGlyphs">Lambda Contour Fields Over UMAP Space</text>
<text x="1200" y="181" font-size="34.5" fill="#707070" text-anchor="middle" textLength="1150" lengthAdjust="spacingAndGlyphs">× = Positive class | Lambda topology doesn't align with class regions</text>
<path d="M1130.50,149.83 L1133.33,152.66 L1136.16,149.83 L1133.33,147.00 L1136.16,144.17 L1133.33,141.34 L1130.50,144.17 L1127.67,141.34 L1124.84,144.17 L1127.67,147.00 L1124.84,149.83 L1127.67,152.66Z" fill="#ff0000" stroke="#444444" stroke-width="2"/>
<text x="1172" y="158" font-size="31" fill="#707070" textLength="114" lengthAdjust="spacingAndGlyphs">Positive</text>
<text x="507.3" y="287.5" font-size="31" fill="#757575" text-anchor="middle" textLength="137" lengthAdjust="spacingAndGlyphs">Gaussian</text>
<text x="1196.3" y="287.5" font-size="31" fill="#757575" text-anchor="middle" textLength="79" lengthAdjust="spacingAndGlyphs">Tight</text>
<text x="1884" y="287.5" font-size="31" fill="#757575" text-anchor="middle" textLength="183" lengthAdjust="spacingAndGlyphs">HiCompress</text>
<text x="507.5" y="913.8" font-size="31" fill="#757575" text-anchor="middle" textLength="94" lengthAdjust="spacingAndGlyphs">Dense</text>
<text x="1196.4" y="913.8" font-size="31" fill="#757575" text-anchor="middle" textLength="105.5" lengthAdjust="spacingAndGlyphs">Sparse</text>
<text x="526" y="280.6" font-size="18" fill="#6f6f6f" textLength="98" lengthAdjust="spacingAndGlyphs" stroke="#6f6f6f" stroke-width="0.3">Powered by</text>
<g fill="none" stroke="#6f6f6f" stroke-width="1.5" stroke-linejoin="miter">
<path d="M643.98,258.78 L643.98,290.69"/>
<path d="M634.57,259.69 L653.74,278.87"/>
<path d="M654.08,259.69 L634.80,278.87"/>
<path d="M634.57,268.53 L634.57,259.69"/>
<path d="M654.08,268.53 L654.08,259.69"/>
<path d="M634.57,268.53 L630.44,268.53 L630.44,281.74 L634.80,281.74"/>
<path d="M654.08,268.53 L657.53,268.53 L657.53,281.74 L653.74,281.74"/>
<path d="M634.80,278.87 L634.80,289.77 L643.98,280.82"/>
<path d="M653.74,278.87 L653.74,289.77 L643.98,280.82"/>
</g>
<text x="665.5" y="280.6" font-size="24" fill="#6f6f6f" textLength="107" lengthAdjust="spacingAndGlyphs">perplexity</text>
<text x="2209" y="356" font-size="38.5" fill="#707070" textLength="146" lengthAdjust="spacingAndGlyphs">Lambda</text>
<rect x="2210.5" y="380.50" width="59.0" height="56.20" fill="#fde725"/>
<rect x="2210.5" y="436.70" width="59.0" height="113.40" fill="#b5de2b"/>
<rect x="2210.5" y="550.10" width="59.0" height="113.40" fill="#6ece58"/>
<rect x="2210.5" y="663.50" width="59.0" height="113.40" fill="#35b779"/>
<rect x="2210.5" y="776.90" width="59.0" height="113.40" fill="#1f9e89"/>
<rect x="2210.5" y="890.30" width="59.0" height="113.40" fill="#26828e"/>
<rect x="2210.5" y="1003.70" width="59.0" height="113.40" fill="#31688e"/>
<rect x="2210.5" y="1117.10" width="59.0" height="113.40" fill="#3e4989"/>
<rect x="2210.5" y="1230.50" width="59.0" height="113.40" fill="#482878"/>
<rect x="2210.5" y="1343.90" width="59.0" height="55.60" fill="#440154"/>
<line x1="2210.5" y1="436.70" x2="2269.5" y2="436.70" stroke="#111" stroke-width="1.2"/>
<text transform="translate(2277.58,448.30) scale(1.2778,1.045)" font-size="31" fill="#6b6b6b">6</text>
<line x1="2210.5" y1="550.10" x2="2269.5" y2="550.10" stroke="#111" stroke-width="1.2"/>
<text transform="translate(2278.01,561.70) scale(1.2432,1.045)" font-size="31" fill="#6b6b6b">5</text>
<line x1="2210.5" y1="663.50" x2="2269.5" y2="663.50" stroke="#111" stroke-width="1.2"/>
<text transform="translate(2278.65,675.10) scale(1.2102,1.045)" font-size="31" fill="#6b6b6b">4</text>
<line x1="2210.5" y1="776.90" x2="2269.5" y2="776.90" stroke="#111" stroke-width="1.2"/>
<text transform="translate(2278.13,788.50) scale(1.2432,1.045)" font-size="31" fill="#6b6b6b">3</text>
<line x1="2210.5" y1="890.30" x2="2269.5" y2="890.30" stroke="#111" stroke-width="1.2"/>
<text transform="translate(2277.56,901.90) scale(1.2958,1.045)" font-size="31" fill="#6b6b6b">2</text>
<line x1="2210.5" y1="1003.70" x2="2269.5" y2="1003.70" stroke="#111" stroke-width="1.2"/>
<text transform="translate(2277.80,1015.30) scale(0.7407,1.045)" font-size="31" fill="#6b6b6b">1</text>
<line x1="2210.5" y1="1117.10" x2="2269.5" y2="1117.10" stroke="#111" stroke-width="1.2"/>
<text transform="translate(2278.02,1128.70) scale(1.2349,1.045)" font-size="31" fill="#6b6b6b">0</text>
<line x1="2210.5" y1="1230.50" x2="2269.5" y2="1230.50" stroke="#111" stroke-width="1.2"/>
<text transform="translate(2278.22,1242.10) scale(0.8519,1.045)" font-size="31" fill="#6b6b6b">−1</text>
<line x1="2210.5" y1="1343.90" x2="2269.5" y2="1343.90" stroke="#111" stroke-width="1.2"/>
<text transform="translate(2277.87,1355.50) scale(1.0898,1.045)" font-size="31" fill="#6b6b6b">−2</text>
<rect x="2210.0" y="380.0" width="60.0" height="1020.0" fill="none" stroke="#444" stroke-width="2"/>
</svg></body></html>
